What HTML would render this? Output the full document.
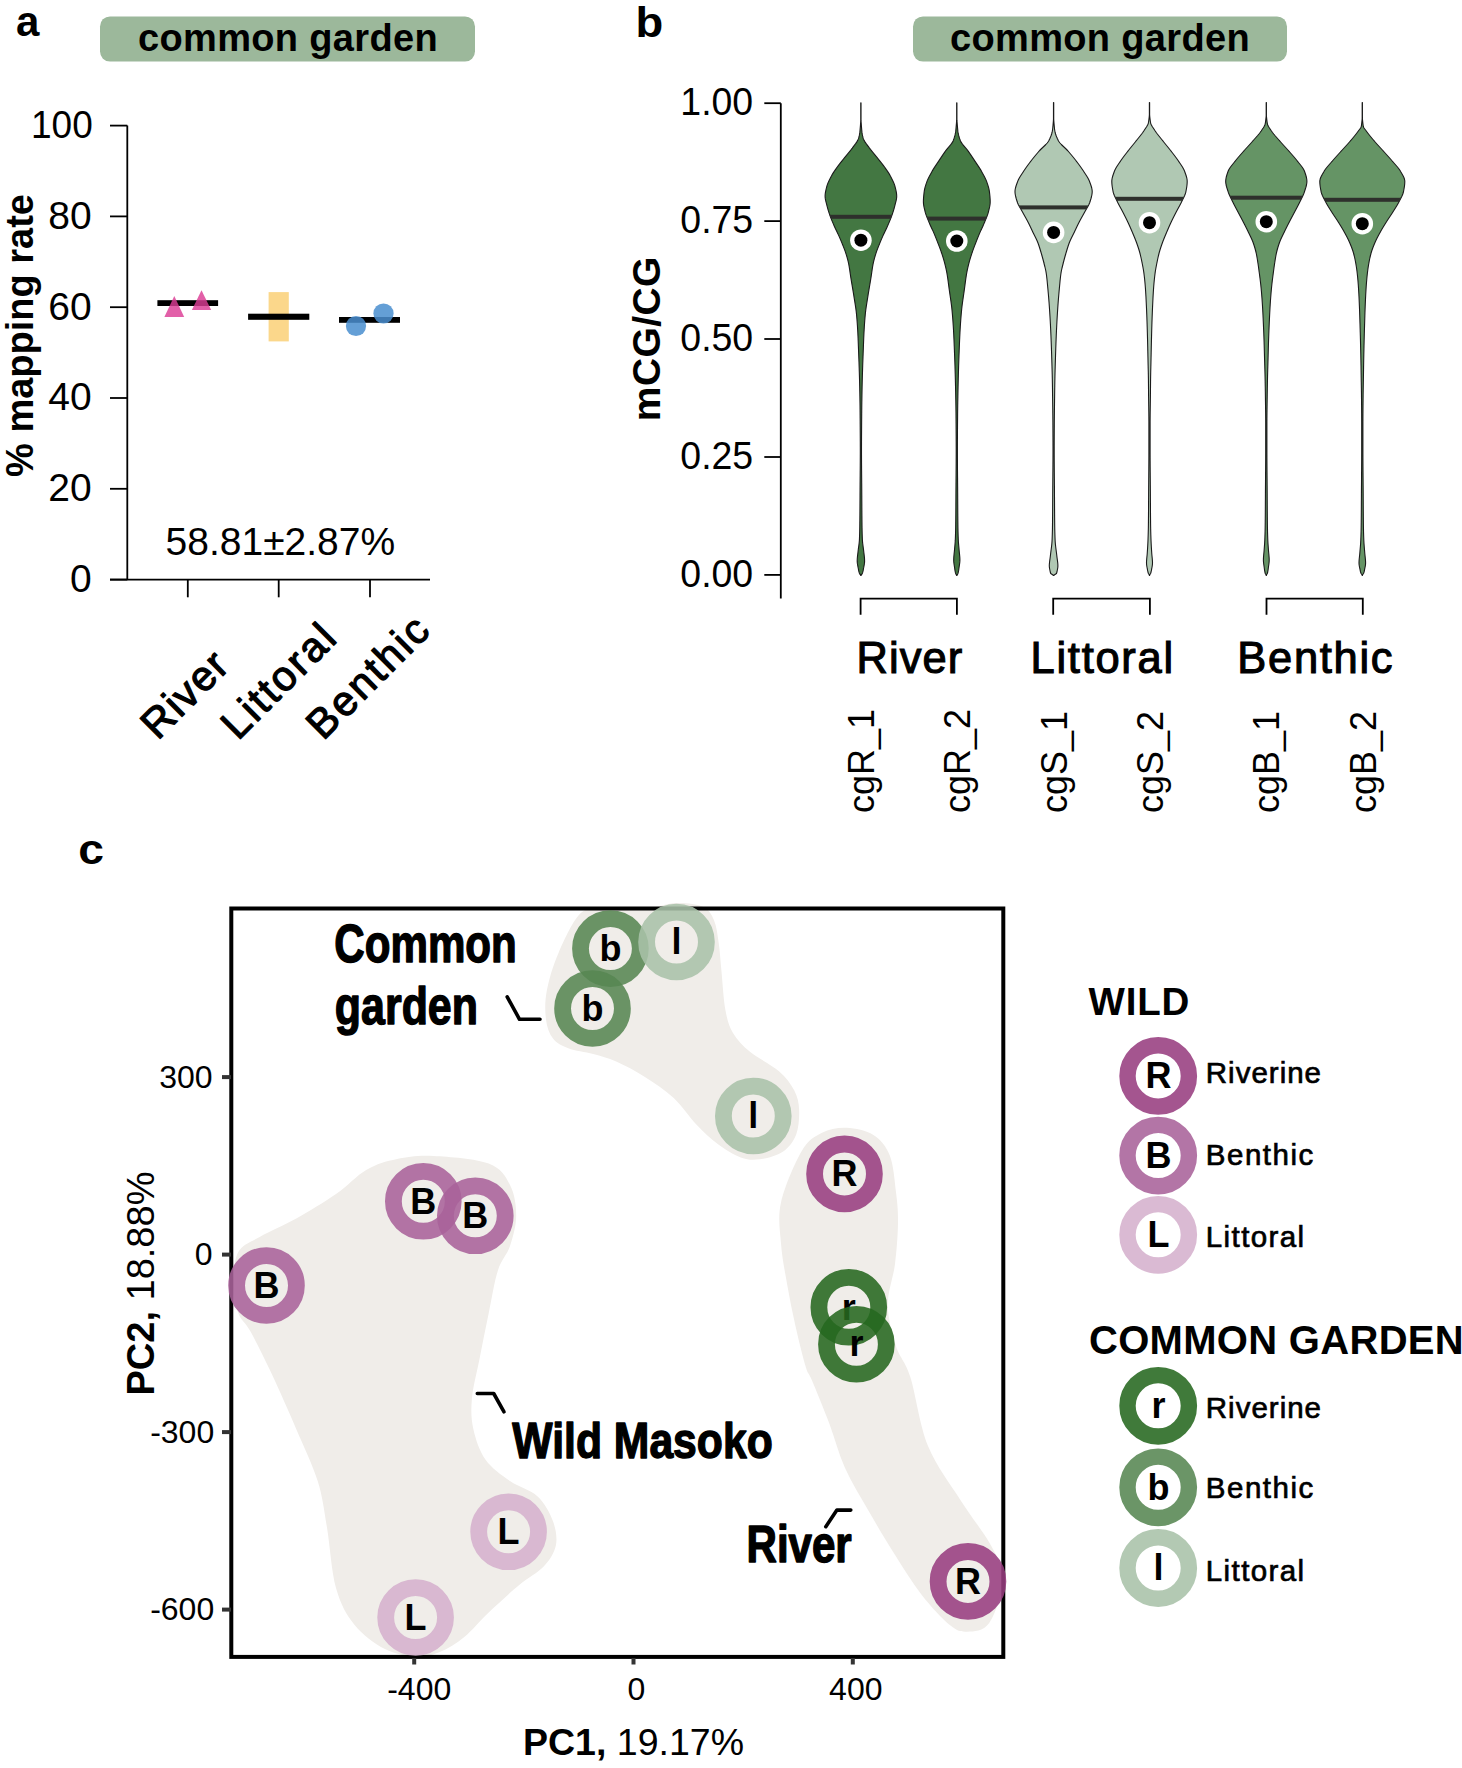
<!DOCTYPE html>
<html><head><meta charset="utf-8"><style>
html,body{margin:0;padding:0;background:#fff;}
body{width:1462px;height:1768px;overflow:hidden;position:relative;}
svg{position:absolute;left:0;top:0;}
text{font-family:"Liberation Sans", sans-serif;}
.b{font-weight:bold;}
</style></head><body>
<svg width="1462" height="1768" viewBox="0 0 1462 1768">
<rect width="1462" height="1768" fill="#fff"/>

<text x="16" y="36" font-size="42" class="b" fill="#000">a</text>
<rect x="100" y="16.4" width="375" height="45.2" rx="10" fill="#9cb89b"/>
<text x="288" y="51" font-size="38" letter-spacing="0.33" class="b" text-anchor="middle" fill="#000">common garden</text>
<g stroke="#000" stroke-width="1.8" fill="none">
<path d="M127.3,125.6 V579.6 M110,579.6 H430"/>
<path d="M110,579.6 H127.3"/>
<path d="M110,488.8 H127.3"/>
<path d="M110,398.0 H127.3"/>
<path d="M110,307.2 H127.3"/>
<path d="M110,216.4 H127.3"/>
<path d="M110,125.6 H127.3"/>
<path d="M187.8,579.6 V597.3"/>
<path d="M278.7,579.6 V597.3"/>
<path d="M370,579.6 V597.3"/>
</g>
<text transform="translate(91.6,592.0) scale(1,1)" font-size="39" text-anchor="end" fill="#000">0</text>
<text transform="translate(91.6,501.2) scale(1,1)" font-size="39" text-anchor="end" fill="#000">20</text>
<text transform="translate(91.6,410.4) scale(1,1)" font-size="39" text-anchor="end" fill="#000">40</text>
<text transform="translate(91.6,319.6) scale(1,1)" font-size="39" text-anchor="end" fill="#000">60</text>
<text transform="translate(91.6,228.8) scale(1,1)" font-size="39" text-anchor="end" fill="#000">80</text>
<text transform="translate(92.8,138.0) scale(0.95,1)" font-size="39" text-anchor="end" fill="#000">100</text>
<text transform="translate(32.6,335.5) rotate(-90)" font-size="38" class="b" text-anchor="middle" fill="#000">% mapping rate</text>
<rect x="268.6" y="292.1" width="20.2" height="49.3" fill="#fbd78b"/>
<rect x="157.4" y="300.2" width="60.7" height="5.8" fill="#000"/>
<rect x="248.1" y="313.7" width="61.2" height="6.1" fill="#000"/>
<rect x="339" y="317" width="61" height="5.8" fill="#000"/>
<g fill="#dc3d95" opacity="0.82">
<path d="M164.4,317 L184.2,317 L174.3,296 Z"/><path d="M191.9,310 L211.2,310 L201.5,290.2 Z"/>
</g>
<g fill="#4a8fd0" opacity="0.85">
<circle cx="356" cy="326" r="10.1"/><circle cx="383.5" cy="313.5" r="10.1"/>
</g>
<text x="280.4" y="554.5" font-size="39" text-anchor="middle" fill="#000">58.81±2.87%</text>
<text transform="translate(157.8,740.9) rotate(-45)" font-size="41.5" letter-spacing="1.6" fill="#000" stroke="#000" stroke-width="1.25" stroke-linejoin="round">River</text>
<text transform="translate(237.9,741.3) rotate(-45)" font-size="41.5" letter-spacing="2.5" fill="#000" stroke="#000" stroke-width="1.25" stroke-linejoin="round">Littoral</text>
<text transform="translate(323.3,741.3) rotate(-45)" font-size="41.5" letter-spacing="2.5" fill="#000" stroke="#000" stroke-width="1.25" stroke-linejoin="round">Benthic</text>
<text transform="translate(635.5,36.6) scale(1.08,1)" font-size="42" class="b" fill="#000">b</text>
<rect x="913" y="16.4" width="374" height="45.2" rx="10" fill="#9cb89b"/>
<text x="1100" y="51" font-size="38" letter-spacing="0.33" class="b" text-anchor="middle" fill="#000">common garden</text>
<g stroke="#000" stroke-width="1.8" fill="none">
<path d="M780.8,103.2 V598.6"/>
<path d="M764.3,574.9 H780.8"/>
<path d="M764.3,457.0 H780.8"/>
<path d="M764.3,339.0 H780.8"/>
<path d="M764.3,221.1 H780.8"/>
<path d="M764.3,103.2 H780.8"/>
</g>
<text transform="translate(753.2,586.8) scale(0.965,1)" font-size="38.8" text-anchor="end" fill="#000">0.00</text>
<text transform="translate(753.2,468.9) scale(0.965,1)" font-size="38.8" text-anchor="end" fill="#000">0.25</text>
<text transform="translate(753.2,350.9) scale(0.965,1)" font-size="38.8" text-anchor="end" fill="#000">0.50</text>
<text transform="translate(753.2,233.0) scale(0.965,1)" font-size="38.8" text-anchor="end" fill="#000">0.75</text>
<text transform="translate(753.2,115.1) scale(0.965,1)" font-size="38.8" text-anchor="end" fill="#000">1.00</text>
<text transform="translate(659.8,338.7) rotate(-90)" font-size="39" letter-spacing="0.4" class="b" text-anchor="middle" fill="#000">mCG/CG</text>
<clipPath id="vc0"><path d="M861.02,102.9 861.02,104.4 861.02,105.9 861.02,107.4 861.02,108.9 861.02,110.4 861.02,111.9 861.02,113.4 861.02,114.9 861.02,116.4 861.02,117.9 861.02,119.4 861.03,120.9 861.13,122.4 861.24,123.9 861.35,125.4 861.47,126.9 861.60,128.4 861.73,129.9 861.87,131.4 861.90,131.7 862.04,132.9 862.28,134.4 862.60,135.9 862.98,137.4 863.30,138.5 863.43,138.9 864.09,140.4 864.96,141.9 865.98,143.4 867.09,144.9 868.24,146.4 869.36,147.9 869.50,148.1 870.46,149.4 871.63,150.9 872.85,152.4 874.09,153.9 875.33,155.4 876.56,156.9 877.20,157.7 877.76,158.4 878.96,159.9 880.17,161.4 881.37,162.9 882.55,164.4 883.68,165.9 884.70,167.3 884.77,167.4 885.83,168.9 886.88,170.4 887.90,171.9 888.88,173.4 889.79,174.9 890.64,176.4 890.90,176.9 891.41,177.9 892.17,179.4 892.90,180.9 893.58,182.4 894.18,183.9 894.69,185.4 895.00,186.5 895.10,186.9 895.48,188.4 895.84,189.9 896.16,191.4 896.43,192.9 896.61,194.4 896.70,195.9 896.70,196.2 896.65,197.4 896.46,198.9 896.17,200.4 895.81,201.9 895.42,203.4 895.02,204.9 894.80,205.8 894.65,206.4 894.26,207.9 893.84,209.4 893.39,210.9 892.91,212.4 892.41,213.9 891.90,215.4 891.36,216.9 890.78,218.4 890.18,219.9 889.55,221.4 888.91,222.9 888.26,224.4 888.00,225.0 887.60,225.9 886.91,227.4 886.20,228.9 885.47,230.4 884.75,231.9 884.05,233.4 883.50,234.6 883.37,234.9 882.70,236.4 882.04,237.9 881.39,239.4 880.76,240.9 880.13,242.4 879.52,243.9 879.40,244.2 878.92,245.4 878.32,246.9 877.73,248.4 877.15,249.9 876.60,251.4 876.09,252.9 875.80,253.8 875.61,254.4 875.16,255.9 874.72,257.4 874.30,258.9 873.91,260.4 873.55,261.9 873.22,263.4 873.20,263.5 872.93,264.9 872.66,266.4 872.42,267.9 872.18,269.4 871.96,270.9 871.75,272.4 871.53,273.9 871.31,275.4 871.09,276.9 870.90,278.1 870.85,278.4 870.61,279.9 870.36,281.4 870.11,282.9 869.85,284.4 869.60,285.9 869.34,287.4 869.09,288.9 868.84,290.4 868.59,291.9 868.34,293.4 868.10,294.9 867.90,296.2 867.87,296.4 867.63,297.9 867.39,299.4 867.15,300.9 866.91,302.4 866.67,303.9 866.44,305.4 866.21,306.9 866.00,308.4 865.79,309.9 865.60,311.4 865.43,312.9 865.30,314.2 865.28,314.4 865.14,315.9 865.01,317.4 864.88,318.9 864.76,320.4 864.65,321.9 864.54,323.4 864.44,324.9 864.34,326.4 864.25,327.9 864.16,329.4 864.08,330.9 864.00,332.3 863.99,332.4 863.92,333.9 863.85,335.4 863.78,336.9 863.71,338.4 863.65,339.9 863.59,341.4 863.53,342.9 863.48,344.4 863.42,345.9 863.36,347.4 863.31,348.9 863.25,350.4 863.19,351.9 863.13,353.4 863.08,354.9 863.02,356.4 862.97,357.9 862.91,359.4 862.86,360.9 862.80,362.4 862.75,363.9 862.70,365.4 862.65,366.9 862.60,368.4 862.60,368.5 862.56,369.9 862.51,371.4 862.46,372.9 862.42,374.4 862.37,375.9 862.33,377.4 862.29,378.9 862.24,380.4 862.21,381.9 862.17,383.4 862.14,384.9 862.10,386.4 862.10,386.6 862.07,387.9 862.05,389.4 862.02,390.9 861.99,392.4 861.96,393.9 861.94,395.4 861.91,396.9 861.89,398.4 861.87,399.9 861.84,401.4 861.82,402.9 861.80,404.4 861.78,405.9 861.76,407.4 861.75,408.9 861.73,410.4 861.72,411.9 861.70,413.4 861.70,413.7 861.69,414.9 861.68,416.4 861.67,417.9 861.65,419.4 861.64,420.9 861.63,422.4 861.62,423.9 861.61,425.4 861.60,426.9 861.59,428.4 861.58,429.9 861.57,431.4 861.56,432.9 861.55,434.4 861.54,435.9 861.53,437.4 861.53,438.9 861.52,440.4 861.51,441.9 861.51,443.4 861.51,444.9 861.50,446.4 861.50,447.9 861.50,449.4 861.50,450.0 861.50,450.9 861.50,452.4 861.50,453.9 861.51,455.4 861.51,456.9 861.52,458.4 861.53,459.9 861.53,461.4 861.54,462.9 861.55,464.4 861.56,465.9 861.57,467.4 861.58,468.9 861.59,470.4 861.61,471.9 861.62,473.4 861.63,474.9 861.64,476.4 861.66,477.9 861.67,479.4 861.68,480.9 861.69,482.4 861.71,483.9 861.72,485.4 861.73,486.9 861.74,488.4 861.75,489.9 861.75,490.0 861.76,491.4 861.77,492.9 861.78,494.4 861.79,495.9 861.79,497.4 861.80,498.9 861.81,500.4 861.82,501.9 861.83,503.4 861.84,504.9 861.84,506.4 861.85,507.9 861.86,509.4 861.87,510.9 861.88,512.4 861.89,513.9 861.90,515.4 861.92,516.9 861.93,518.4 861.94,519.9 861.96,521.4 861.98,522.9 861.99,524.4 862.00,525.0 862.01,525.9 862.03,527.4 862.06,528.9 862.09,530.4 862.12,531.9 862.16,533.4 862.21,534.9 862.26,536.4 862.31,537.9 862.37,539.4 862.40,540.0 862.45,540.9 862.58,542.4 862.75,543.9 862.94,545.4 863.15,546.9 863.36,548.4 863.55,549.9 863.68,551.0 863.72,551.4 863.89,552.9 864.08,554.4 864.26,555.9 864.41,557.4 864.53,558.9 864.59,560.4 864.60,561.0 864.57,561.9 864.43,563.4 864.19,564.9 863.91,566.4 863.62,567.9 863.55,568.2 863.35,569.4 863.07,570.9 862.69,572.4 862.29,573.5 862.06,573.9 861.02,575.4 861.02,575.5 L860.78,575.5 860.78,575.4 859.74,573.9 859.51,573.5 859.11,572.4 858.73,570.9 858.45,569.4 858.25,568.2 858.18,567.9 857.89,566.4 857.61,564.9 857.37,563.4 857.23,561.9 857.20,561.0 857.21,560.4 857.27,558.9 857.39,557.4 857.54,555.9 857.72,554.4 857.91,552.9 858.08,551.4 858.12,551.0 858.25,549.9 858.44,548.4 858.65,546.9 858.86,545.4 859.05,543.9 859.22,542.4 859.35,540.9 859.40,540.0 859.43,539.4 859.49,537.9 859.54,536.4 859.59,534.9 859.64,533.4 859.68,531.9 859.71,530.4 859.74,528.9 859.77,527.4 859.79,525.9 859.80,525.0 859.81,524.4 859.82,522.9 859.84,521.4 859.86,519.9 859.87,518.4 859.88,516.9 859.90,515.4 859.91,513.9 859.92,512.4 859.93,510.9 859.94,509.4 859.95,507.9 859.96,506.4 859.96,504.9 859.97,503.4 859.98,501.9 859.99,500.4 860.00,498.9 860.01,497.4 860.01,495.9 860.02,494.4 860.03,492.9 860.04,491.4 860.05,490.0 860.05,489.9 860.06,488.4 860.07,486.9 860.08,485.4 860.09,483.9 860.11,482.4 860.12,480.9 860.13,479.4 860.14,477.9 860.16,476.4 860.17,474.9 860.18,473.4 860.19,471.9 860.21,470.4 860.22,468.9 860.23,467.4 860.24,465.9 860.25,464.4 860.26,462.9 860.27,461.4 860.27,459.9 860.28,458.4 860.29,456.9 860.29,455.4 860.30,453.9 860.30,452.4 860.30,450.9 860.30,450.0 860.30,449.4 860.30,447.9 860.30,446.4 860.29,444.9 860.29,443.4 860.29,441.9 860.28,440.4 860.27,438.9 860.27,437.4 860.26,435.9 860.25,434.4 860.24,432.9 860.23,431.4 860.22,429.9 860.21,428.4 860.20,426.9 860.19,425.4 860.18,423.9 860.17,422.4 860.16,420.9 860.15,419.4 860.13,417.9 860.12,416.4 860.11,414.9 860.10,413.7 860.10,413.4 860.08,411.9 860.07,410.4 860.05,408.9 860.04,407.4 860.02,405.9 860.00,404.4 859.98,402.9 859.96,401.4 859.93,399.9 859.91,398.4 859.89,396.9 859.86,395.4 859.84,393.9 859.81,392.4 859.78,390.9 859.75,389.4 859.73,387.9 859.70,386.6 859.70,386.4 859.66,384.9 859.63,383.4 859.59,381.9 859.56,380.4 859.51,378.9 859.47,377.4 859.43,375.9 859.38,374.4 859.34,372.9 859.29,371.4 859.24,369.9 859.20,368.5 859.20,368.4 859.15,366.9 859.10,365.4 859.05,363.9 859.00,362.4 858.94,360.9 858.89,359.4 858.83,357.9 858.78,356.4 858.72,354.9 858.67,353.4 858.61,351.9 858.55,350.4 858.49,348.9 858.44,347.4 858.38,345.9 858.32,344.4 858.27,342.9 858.21,341.4 858.15,339.9 858.09,338.4 858.02,336.9 857.95,335.4 857.88,333.9 857.81,332.4 857.80,332.3 857.72,330.9 857.64,329.4 857.55,327.9 857.46,326.4 857.36,324.9 857.26,323.4 857.15,321.9 857.04,320.4 856.92,318.9 856.79,317.4 856.66,315.9 856.52,314.4 856.50,314.2 856.37,312.9 856.20,311.4 856.01,309.9 855.80,308.4 855.59,306.9 855.36,305.4 855.13,303.9 854.89,302.4 854.65,300.9 854.41,299.4 854.17,297.9 853.93,296.4 853.90,296.2 853.70,294.9 853.46,293.4 853.21,291.9 852.96,290.4 852.71,288.9 852.46,287.4 852.20,285.9 851.95,284.4 851.69,282.9 851.44,281.4 851.19,279.9 850.95,278.4 850.90,278.1 850.71,276.9 850.49,275.4 850.27,273.9 850.05,272.4 849.84,270.9 849.62,269.4 849.38,267.9 849.14,266.4 848.87,264.9 848.60,263.5 848.58,263.4 848.25,261.9 847.89,260.4 847.50,258.9 847.08,257.4 846.64,255.9 846.19,254.4 846.00,253.8 845.71,252.9 845.20,251.4 844.65,249.9 844.07,248.4 843.48,246.9 842.88,245.4 842.40,244.2 842.28,243.9 841.67,242.4 841.04,240.9 840.41,239.4 839.76,237.9 839.10,236.4 838.43,234.9 838.30,234.6 837.75,233.4 837.05,231.9 836.33,230.4 835.60,228.9 834.89,227.4 834.20,225.9 833.80,225.0 833.54,224.4 832.89,222.9 832.25,221.4 831.62,219.9 831.02,218.4 830.44,216.9 829.90,215.4 829.39,213.9 828.89,212.4 828.41,210.9 827.96,209.4 827.54,207.9 827.15,206.4 827.00,205.8 826.78,204.9 826.38,203.4 825.99,201.9 825.63,200.4 825.34,198.9 825.15,197.4 825.10,196.2 825.10,195.9 825.19,194.4 825.37,192.9 825.64,191.4 825.96,189.9 826.32,188.4 826.70,186.9 826.80,186.5 827.11,185.4 827.62,183.9 828.22,182.4 828.90,180.9 829.63,179.4 830.39,177.9 830.90,176.9 831.16,176.4 832.01,174.9 832.92,173.4 833.90,171.9 834.92,170.4 835.97,168.9 837.03,167.4 837.10,167.3 838.12,165.9 839.25,164.4 840.43,162.9 841.63,161.4 842.84,159.9 844.04,158.4 844.60,157.7 845.24,156.9 846.47,155.4 847.71,153.9 848.95,152.4 850.17,150.9 851.34,149.4 852.30,148.1 852.44,147.9 853.56,146.4 854.71,144.9 855.82,143.4 856.84,141.9 857.71,140.4 858.37,138.9 858.50,138.5 858.82,137.4 859.20,135.9 859.52,134.4 859.76,132.9 859.90,131.7 859.93,131.4 860.07,129.9 860.20,128.4 860.33,126.9 860.45,125.4 860.56,123.9 860.67,122.4 860.77,120.9 860.78,119.4 860.78,117.9 860.78,116.4 860.78,114.9 860.78,113.4 860.78,111.9 860.78,110.4 860.78,108.9 860.78,107.4 860.78,105.9 860.78,104.4 860.78,102.9 Z"/></clipPath>
<path d="M861.02,102.9 861.02,104.4 861.02,105.9 861.02,107.4 861.02,108.9 861.02,110.4 861.02,111.9 861.02,113.4 861.02,114.9 861.02,116.4 861.02,117.9 861.02,119.4 861.03,120.9 861.13,122.4 861.24,123.9 861.35,125.4 861.47,126.9 861.60,128.4 861.73,129.9 861.87,131.4 861.90,131.7 862.04,132.9 862.28,134.4 862.60,135.9 862.98,137.4 863.30,138.5 863.43,138.9 864.09,140.4 864.96,141.9 865.98,143.4 867.09,144.9 868.24,146.4 869.36,147.9 869.50,148.1 870.46,149.4 871.63,150.9 872.85,152.4 874.09,153.9 875.33,155.4 876.56,156.9 877.20,157.7 877.76,158.4 878.96,159.9 880.17,161.4 881.37,162.9 882.55,164.4 883.68,165.9 884.70,167.3 884.77,167.4 885.83,168.9 886.88,170.4 887.90,171.9 888.88,173.4 889.79,174.9 890.64,176.4 890.90,176.9 891.41,177.9 892.17,179.4 892.90,180.9 893.58,182.4 894.18,183.9 894.69,185.4 895.00,186.5 895.10,186.9 895.48,188.4 895.84,189.9 896.16,191.4 896.43,192.9 896.61,194.4 896.70,195.9 896.70,196.2 896.65,197.4 896.46,198.9 896.17,200.4 895.81,201.9 895.42,203.4 895.02,204.9 894.80,205.8 894.65,206.4 894.26,207.9 893.84,209.4 893.39,210.9 892.91,212.4 892.41,213.9 891.90,215.4 891.36,216.9 890.78,218.4 890.18,219.9 889.55,221.4 888.91,222.9 888.26,224.4 888.00,225.0 887.60,225.9 886.91,227.4 886.20,228.9 885.47,230.4 884.75,231.9 884.05,233.4 883.50,234.6 883.37,234.9 882.70,236.4 882.04,237.9 881.39,239.4 880.76,240.9 880.13,242.4 879.52,243.9 879.40,244.2 878.92,245.4 878.32,246.9 877.73,248.4 877.15,249.9 876.60,251.4 876.09,252.9 875.80,253.8 875.61,254.4 875.16,255.9 874.72,257.4 874.30,258.9 873.91,260.4 873.55,261.9 873.22,263.4 873.20,263.5 872.93,264.9 872.66,266.4 872.42,267.9 872.18,269.4 871.96,270.9 871.75,272.4 871.53,273.9 871.31,275.4 871.09,276.9 870.90,278.1 870.85,278.4 870.61,279.9 870.36,281.4 870.11,282.9 869.85,284.4 869.60,285.9 869.34,287.4 869.09,288.9 868.84,290.4 868.59,291.9 868.34,293.4 868.10,294.9 867.90,296.2 867.87,296.4 867.63,297.9 867.39,299.4 867.15,300.9 866.91,302.4 866.67,303.9 866.44,305.4 866.21,306.9 866.00,308.4 865.79,309.9 865.60,311.4 865.43,312.9 865.30,314.2 865.28,314.4 865.14,315.9 865.01,317.4 864.88,318.9 864.76,320.4 864.65,321.9 864.54,323.4 864.44,324.9 864.34,326.4 864.25,327.9 864.16,329.4 864.08,330.9 864.00,332.3 863.99,332.4 863.92,333.9 863.85,335.4 863.78,336.9 863.71,338.4 863.65,339.9 863.59,341.4 863.53,342.9 863.48,344.4 863.42,345.9 863.36,347.4 863.31,348.9 863.25,350.4 863.19,351.9 863.13,353.4 863.08,354.9 863.02,356.4 862.97,357.9 862.91,359.4 862.86,360.9 862.80,362.4 862.75,363.9 862.70,365.4 862.65,366.9 862.60,368.4 862.60,368.5 862.56,369.9 862.51,371.4 862.46,372.9 862.42,374.4 862.37,375.9 862.33,377.4 862.29,378.9 862.24,380.4 862.21,381.9 862.17,383.4 862.14,384.9 862.10,386.4 862.10,386.6 862.07,387.9 862.05,389.4 862.02,390.9 861.99,392.4 861.96,393.9 861.94,395.4 861.91,396.9 861.89,398.4 861.87,399.9 861.84,401.4 861.82,402.9 861.80,404.4 861.78,405.9 861.76,407.4 861.75,408.9 861.73,410.4 861.72,411.9 861.70,413.4 861.70,413.7 861.69,414.9 861.68,416.4 861.67,417.9 861.65,419.4 861.64,420.9 861.63,422.4 861.62,423.9 861.61,425.4 861.60,426.9 861.59,428.4 861.58,429.9 861.57,431.4 861.56,432.9 861.55,434.4 861.54,435.9 861.53,437.4 861.53,438.9 861.52,440.4 861.51,441.9 861.51,443.4 861.51,444.9 861.50,446.4 861.50,447.9 861.50,449.4 861.50,450.0 861.50,450.9 861.50,452.4 861.50,453.9 861.51,455.4 861.51,456.9 861.52,458.4 861.53,459.9 861.53,461.4 861.54,462.9 861.55,464.4 861.56,465.9 861.57,467.4 861.58,468.9 861.59,470.4 861.61,471.9 861.62,473.4 861.63,474.9 861.64,476.4 861.66,477.9 861.67,479.4 861.68,480.9 861.69,482.4 861.71,483.9 861.72,485.4 861.73,486.9 861.74,488.4 861.75,489.9 861.75,490.0 861.76,491.4 861.77,492.9 861.78,494.4 861.79,495.9 861.79,497.4 861.80,498.9 861.81,500.4 861.82,501.9 861.83,503.4 861.84,504.9 861.84,506.4 861.85,507.9 861.86,509.4 861.87,510.9 861.88,512.4 861.89,513.9 861.90,515.4 861.92,516.9 861.93,518.4 861.94,519.9 861.96,521.4 861.98,522.9 861.99,524.4 862.00,525.0 862.01,525.9 862.03,527.4 862.06,528.9 862.09,530.4 862.12,531.9 862.16,533.4 862.21,534.9 862.26,536.4 862.31,537.9 862.37,539.4 862.40,540.0 862.45,540.9 862.58,542.4 862.75,543.9 862.94,545.4 863.15,546.9 863.36,548.4 863.55,549.9 863.68,551.0 863.72,551.4 863.89,552.9 864.08,554.4 864.26,555.9 864.41,557.4 864.53,558.9 864.59,560.4 864.60,561.0 864.57,561.9 864.43,563.4 864.19,564.9 863.91,566.4 863.62,567.9 863.55,568.2 863.35,569.4 863.07,570.9 862.69,572.4 862.29,573.5 862.06,573.9 861.02,575.4 861.02,575.5 L860.78,575.5 860.78,575.4 859.74,573.9 859.51,573.5 859.11,572.4 858.73,570.9 858.45,569.4 858.25,568.2 858.18,567.9 857.89,566.4 857.61,564.9 857.37,563.4 857.23,561.9 857.20,561.0 857.21,560.4 857.27,558.9 857.39,557.4 857.54,555.9 857.72,554.4 857.91,552.9 858.08,551.4 858.12,551.0 858.25,549.9 858.44,548.4 858.65,546.9 858.86,545.4 859.05,543.9 859.22,542.4 859.35,540.9 859.40,540.0 859.43,539.4 859.49,537.9 859.54,536.4 859.59,534.9 859.64,533.4 859.68,531.9 859.71,530.4 859.74,528.9 859.77,527.4 859.79,525.9 859.80,525.0 859.81,524.4 859.82,522.9 859.84,521.4 859.86,519.9 859.87,518.4 859.88,516.9 859.90,515.4 859.91,513.9 859.92,512.4 859.93,510.9 859.94,509.4 859.95,507.9 859.96,506.4 859.96,504.9 859.97,503.4 859.98,501.9 859.99,500.4 860.00,498.9 860.01,497.4 860.01,495.9 860.02,494.4 860.03,492.9 860.04,491.4 860.05,490.0 860.05,489.9 860.06,488.4 860.07,486.9 860.08,485.4 860.09,483.9 860.11,482.4 860.12,480.9 860.13,479.4 860.14,477.9 860.16,476.4 860.17,474.9 860.18,473.4 860.19,471.9 860.21,470.4 860.22,468.9 860.23,467.4 860.24,465.9 860.25,464.4 860.26,462.9 860.27,461.4 860.27,459.9 860.28,458.4 860.29,456.9 860.29,455.4 860.30,453.9 860.30,452.4 860.30,450.9 860.30,450.0 860.30,449.4 860.30,447.9 860.30,446.4 860.29,444.9 860.29,443.4 860.29,441.9 860.28,440.4 860.27,438.9 860.27,437.4 860.26,435.9 860.25,434.4 860.24,432.9 860.23,431.4 860.22,429.9 860.21,428.4 860.20,426.9 860.19,425.4 860.18,423.9 860.17,422.4 860.16,420.9 860.15,419.4 860.13,417.9 860.12,416.4 860.11,414.9 860.10,413.7 860.10,413.4 860.08,411.9 860.07,410.4 860.05,408.9 860.04,407.4 860.02,405.9 860.00,404.4 859.98,402.9 859.96,401.4 859.93,399.9 859.91,398.4 859.89,396.9 859.86,395.4 859.84,393.9 859.81,392.4 859.78,390.9 859.75,389.4 859.73,387.9 859.70,386.6 859.70,386.4 859.66,384.9 859.63,383.4 859.59,381.9 859.56,380.4 859.51,378.9 859.47,377.4 859.43,375.9 859.38,374.4 859.34,372.9 859.29,371.4 859.24,369.9 859.20,368.5 859.20,368.4 859.15,366.9 859.10,365.4 859.05,363.9 859.00,362.4 858.94,360.9 858.89,359.4 858.83,357.9 858.78,356.4 858.72,354.9 858.67,353.4 858.61,351.9 858.55,350.4 858.49,348.9 858.44,347.4 858.38,345.9 858.32,344.4 858.27,342.9 858.21,341.4 858.15,339.9 858.09,338.4 858.02,336.9 857.95,335.4 857.88,333.9 857.81,332.4 857.80,332.3 857.72,330.9 857.64,329.4 857.55,327.9 857.46,326.4 857.36,324.9 857.26,323.4 857.15,321.9 857.04,320.4 856.92,318.9 856.79,317.4 856.66,315.9 856.52,314.4 856.50,314.2 856.37,312.9 856.20,311.4 856.01,309.9 855.80,308.4 855.59,306.9 855.36,305.4 855.13,303.9 854.89,302.4 854.65,300.9 854.41,299.4 854.17,297.9 853.93,296.4 853.90,296.2 853.70,294.9 853.46,293.4 853.21,291.9 852.96,290.4 852.71,288.9 852.46,287.4 852.20,285.9 851.95,284.4 851.69,282.9 851.44,281.4 851.19,279.9 850.95,278.4 850.90,278.1 850.71,276.9 850.49,275.4 850.27,273.9 850.05,272.4 849.84,270.9 849.62,269.4 849.38,267.9 849.14,266.4 848.87,264.9 848.60,263.5 848.58,263.4 848.25,261.9 847.89,260.4 847.50,258.9 847.08,257.4 846.64,255.9 846.19,254.4 846.00,253.8 845.71,252.9 845.20,251.4 844.65,249.9 844.07,248.4 843.48,246.9 842.88,245.4 842.40,244.2 842.28,243.9 841.67,242.4 841.04,240.9 840.41,239.4 839.76,237.9 839.10,236.4 838.43,234.9 838.30,234.6 837.75,233.4 837.05,231.9 836.33,230.4 835.60,228.9 834.89,227.4 834.20,225.9 833.80,225.0 833.54,224.4 832.89,222.9 832.25,221.4 831.62,219.9 831.02,218.4 830.44,216.9 829.90,215.4 829.39,213.9 828.89,212.4 828.41,210.9 827.96,209.4 827.54,207.9 827.15,206.4 827.00,205.8 826.78,204.9 826.38,203.4 825.99,201.9 825.63,200.4 825.34,198.9 825.15,197.4 825.10,196.2 825.10,195.9 825.19,194.4 825.37,192.9 825.64,191.4 825.96,189.9 826.32,188.4 826.70,186.9 826.80,186.5 827.11,185.4 827.62,183.9 828.22,182.4 828.90,180.9 829.63,179.4 830.39,177.9 830.90,176.9 831.16,176.4 832.01,174.9 832.92,173.4 833.90,171.9 834.92,170.4 835.97,168.9 837.03,167.4 837.10,167.3 838.12,165.9 839.25,164.4 840.43,162.9 841.63,161.4 842.84,159.9 844.04,158.4 844.60,157.7 845.24,156.9 846.47,155.4 847.71,153.9 848.95,152.4 850.17,150.9 851.34,149.4 852.30,148.1 852.44,147.9 853.56,146.4 854.71,144.9 855.82,143.4 856.84,141.9 857.71,140.4 858.37,138.9 858.50,138.5 858.82,137.4 859.20,135.9 859.52,134.4 859.76,132.9 859.90,131.7 859.93,131.4 860.07,129.9 860.20,128.4 860.33,126.9 860.45,125.4 860.56,123.9 860.67,122.4 860.77,120.9 860.78,119.4 860.78,117.9 860.78,116.4 860.78,114.9 860.78,113.4 860.78,111.9 860.78,110.4 860.78,108.9 860.78,107.4 860.78,105.9 860.78,104.4 860.78,102.9 Z" fill="#437742" stroke="#1a1a1a" stroke-width="1.1" stroke-linejoin="round"/>
<rect x="800.9" y="214.8" width="120" height="4" fill="#2e302c" clip-path="url(#vc0)"/>
<circle cx="860.9" cy="240.2" r="10.8" fill="#fff"/><circle cx="860.9" cy="240.2" r="6.5" fill="#000"/>
<clipPath id="vc1"><path d="M956.92,102.9 956.92,104.4 956.92,105.9 956.92,107.4 956.92,108.9 956.92,110.4 956.92,111.9 956.92,113.4 956.92,114.9 956.92,116.4 956.92,117.9 956.92,119.4 956.98,120.9 957.09,122.4 957.20,123.9 957.33,125.4 957.46,126.9 957.60,128.4 957.74,129.9 957.80,130.5 957.90,131.4 958.14,132.9 958.45,134.4 958.82,135.9 959.26,137.4 959.75,138.9 960.29,140.4 960.40,140.7 960.96,141.9 961.90,143.4 963.04,144.9 964.29,146.4 965.59,147.9 966.85,149.4 968.00,150.9 969.05,152.4 970.09,153.9 971.11,155.4 972.11,156.9 973.11,158.4 974.11,159.9 974.90,161.1 975.10,161.4 976.10,162.9 977.11,164.4 978.12,165.9 979.11,167.4 980.07,168.9 980.98,170.4 981.50,171.3 981.84,171.9 982.69,173.4 983.53,174.9 984.34,176.4 985.10,177.9 985.80,179.4 986.42,180.9 986.60,181.4 986.95,182.4 987.47,183.9 987.96,185.4 988.41,186.9 988.81,188.4 989.13,189.9 989.37,191.4 989.40,191.6 989.56,192.9 989.73,194.4 989.88,195.9 990.01,197.4 990.11,198.9 990.18,200.4 990.20,201.8 990.20,201.9 990.13,203.4 989.96,204.9 989.70,206.4 989.39,207.9 989.04,209.4 988.67,210.9 988.40,212.0 988.30,212.4 987.87,213.9 987.36,215.4 986.79,216.9 986.19,218.4 985.56,219.9 984.93,221.4 984.60,222.2 984.31,222.9 983.66,224.4 982.98,225.9 982.28,227.4 981.58,228.9 980.88,230.4 980.22,231.9 980.00,232.4 979.58,233.4 978.95,234.9 978.33,236.4 977.72,237.9 977.12,239.4 976.53,240.9 975.94,242.4 975.90,242.5 975.36,243.9 974.77,245.4 974.20,246.9 973.63,248.4 973.08,249.9 972.54,251.4 972.10,252.7 972.03,252.9 971.54,254.4 971.05,255.9 970.58,257.4 970.12,258.9 969.68,260.4 969.26,261.9 969.00,262.9 968.87,263.4 968.49,264.9 968.12,266.4 967.77,267.9 967.43,269.4 967.12,270.9 966.83,272.4 966.70,273.1 966.56,273.9 966.31,275.4 966.08,276.9 965.85,278.4 965.64,279.9 965.44,281.4 965.24,282.9 965.04,284.4 964.85,285.9 964.65,287.4 964.45,288.9 964.30,290.0 964.24,290.4 964.03,291.9 963.81,293.4 963.59,294.9 963.37,296.4 963.15,297.9 962.93,299.4 962.72,300.9 962.51,302.4 962.31,303.9 962.11,305.4 961.93,306.9 961.76,308.4 961.61,309.9 961.60,310.0 961.47,311.4 961.33,312.9 961.20,314.4 961.07,315.9 960.95,317.4 960.83,318.9 960.72,320.4 960.61,321.9 960.51,323.4 960.41,324.9 960.31,326.4 960.22,327.9 960.13,329.4 960.10,330.0 960.05,330.9 959.97,332.4 959.89,333.9 959.82,335.4 959.75,336.9 959.68,338.4 959.61,339.9 959.55,341.4 959.48,342.9 959.42,344.4 959.36,345.9 959.30,347.4 959.24,348.9 959.20,350.0 959.18,350.4 959.13,351.9 959.07,353.4 959.01,354.9 958.95,356.4 958.90,357.9 958.85,359.4 958.79,360.9 958.74,362.4 958.69,363.9 958.64,365.4 958.59,366.9 958.55,368.4 958.50,369.9 958.50,370.0 958.46,371.4 958.42,372.9 958.37,374.4 958.33,375.9 958.29,377.4 958.25,378.9 958.22,380.4 958.18,381.9 958.14,383.4 958.11,384.9 958.07,386.4 958.04,387.9 958.01,389.4 958.00,390.0 957.98,390.9 957.95,392.4 957.92,393.9 957.89,395.4 957.87,396.9 957.84,398.4 957.81,399.9 957.78,401.4 957.76,402.9 957.73,404.4 957.71,405.9 957.69,407.4 957.67,408.9 957.65,410.4 957.63,411.9 957.61,413.4 957.60,414.9 957.60,415.0 957.59,416.4 957.58,417.9 957.56,419.4 957.55,420.9 957.54,422.4 957.52,423.9 957.51,425.4 957.50,426.9 957.49,428.4 957.48,429.9 957.47,431.4 957.46,432.9 957.45,434.4 957.44,435.9 957.43,437.4 957.43,438.9 957.42,440.4 957.41,441.9 957.41,443.4 957.41,444.9 957.40,446.4 957.40,447.9 957.40,449.4 957.40,450.0 957.40,450.9 957.40,452.4 957.40,453.9 957.41,455.4 957.41,456.9 957.42,458.4 957.43,459.9 957.43,461.4 957.44,462.9 957.45,464.4 957.46,465.9 957.47,467.4 957.48,468.9 957.49,470.4 957.51,471.9 957.52,473.4 957.53,474.9 957.54,476.4 957.56,477.9 957.57,479.4 957.58,480.9 957.59,482.4 957.61,483.9 957.62,485.4 957.63,486.9 957.64,488.4 957.65,489.9 957.65,490.0 957.66,491.4 957.67,492.9 957.68,494.4 957.69,495.9 957.69,497.4 957.70,498.9 957.71,500.4 957.72,501.9 957.73,503.4 957.74,504.9 957.74,506.4 957.75,507.9 957.76,509.4 957.77,510.9 957.78,512.4 957.79,513.9 957.80,515.4 957.82,516.9 957.83,518.4 957.84,519.9 957.86,521.4 957.88,522.9 957.89,524.4 957.90,525.0 957.91,525.9 957.93,527.4 957.96,528.9 957.99,530.4 958.03,531.9 958.07,533.4 958.11,534.9 958.16,536.4 958.22,537.9 958.28,539.4 958.30,540.0 958.34,540.9 958.44,542.4 958.56,543.9 958.69,545.4 958.83,546.9 958.97,548.4 959.10,549.9 959.11,550.0 959.23,551.4 959.39,552.9 959.54,554.4 959.69,555.9 959.81,557.4 959.88,558.9 959.90,560.0 959.90,560.4 959.82,561.9 959.65,563.4 959.44,564.9 959.21,566.4 959.00,567.8 958.98,567.9 958.78,569.4 958.55,570.9 958.24,572.4 957.92,573.5 957.73,573.9 956.92,575.4 956.92,575.5 L956.68,575.5 956.68,575.4 955.87,573.9 955.68,573.5 955.36,572.4 955.05,570.9 954.82,569.4 954.62,567.9 954.60,567.8 954.39,566.4 954.16,564.9 953.95,563.4 953.78,561.9 953.70,560.4 953.70,560.0 953.72,558.9 953.79,557.4 953.91,555.9 954.06,554.4 954.21,552.9 954.37,551.4 954.49,550.0 954.50,549.9 954.63,548.4 954.77,546.9 954.91,545.4 955.04,543.9 955.16,542.4 955.26,540.9 955.30,540.0 955.32,539.4 955.38,537.9 955.44,536.4 955.49,534.9 955.53,533.4 955.57,531.9 955.61,530.4 955.64,528.9 955.67,527.4 955.69,525.9 955.70,525.0 955.71,524.4 955.72,522.9 955.74,521.4 955.76,519.9 955.77,518.4 955.78,516.9 955.80,515.4 955.81,513.9 955.82,512.4 955.83,510.9 955.84,509.4 955.85,507.9 955.86,506.4 955.86,504.9 955.87,503.4 955.88,501.9 955.89,500.4 955.90,498.9 955.91,497.4 955.91,495.9 955.92,494.4 955.93,492.9 955.94,491.4 955.95,490.0 955.95,489.9 955.96,488.4 955.97,486.9 955.98,485.4 955.99,483.9 956.01,482.4 956.02,480.9 956.03,479.4 956.04,477.9 956.06,476.4 956.07,474.9 956.08,473.4 956.09,471.9 956.11,470.4 956.12,468.9 956.13,467.4 956.14,465.9 956.15,464.4 956.16,462.9 956.17,461.4 956.17,459.9 956.18,458.4 956.19,456.9 956.19,455.4 956.20,453.9 956.20,452.4 956.20,450.9 956.20,450.0 956.20,449.4 956.20,447.9 956.20,446.4 956.19,444.9 956.19,443.4 956.19,441.9 956.18,440.4 956.17,438.9 956.17,437.4 956.16,435.9 956.15,434.4 956.14,432.9 956.13,431.4 956.12,429.9 956.11,428.4 956.10,426.9 956.09,425.4 956.08,423.9 956.06,422.4 956.05,420.9 956.04,419.4 956.02,417.9 956.01,416.4 956.00,415.0 956.00,414.9 955.99,413.4 955.97,411.9 955.95,410.4 955.93,408.9 955.91,407.4 955.89,405.9 955.87,404.4 955.84,402.9 955.82,401.4 955.79,399.9 955.76,398.4 955.73,396.9 955.71,395.4 955.68,393.9 955.65,392.4 955.62,390.9 955.60,390.0 955.59,389.4 955.56,387.9 955.53,386.4 955.49,384.9 955.46,383.4 955.42,381.9 955.38,380.4 955.35,378.9 955.31,377.4 955.27,375.9 955.23,374.4 955.18,372.9 955.14,371.4 955.10,370.0 955.10,369.9 955.05,368.4 955.01,366.9 954.96,365.4 954.91,363.9 954.86,362.4 954.81,360.9 954.75,359.4 954.70,357.9 954.65,356.4 954.59,354.9 954.53,353.4 954.47,351.9 954.42,350.4 954.40,350.0 954.36,348.9 954.30,347.4 954.24,345.9 954.18,344.4 954.12,342.9 954.05,341.4 953.99,339.9 953.92,338.4 953.85,336.9 953.78,335.4 953.71,333.9 953.63,332.4 953.55,330.9 953.50,330.0 953.47,329.4 953.38,327.9 953.29,326.4 953.19,324.9 953.09,323.4 952.99,321.9 952.88,320.4 952.77,318.9 952.65,317.4 952.53,315.9 952.40,314.4 952.27,312.9 952.13,311.4 952.00,310.0 951.99,309.9 951.84,308.4 951.67,306.9 951.49,305.4 951.29,303.9 951.09,302.4 950.88,300.9 950.67,299.4 950.45,297.9 950.23,296.4 950.01,294.9 949.79,293.4 949.57,291.9 949.36,290.4 949.30,290.0 949.15,288.9 948.95,287.4 948.75,285.9 948.56,284.4 948.36,282.9 948.16,281.4 947.96,279.9 947.75,278.4 947.52,276.9 947.29,275.4 947.04,273.9 946.90,273.1 946.77,272.4 946.48,270.9 946.17,269.4 945.83,267.9 945.48,266.4 945.11,264.9 944.73,263.4 944.60,262.9 944.34,261.9 943.92,260.4 943.48,258.9 943.02,257.4 942.55,255.9 942.06,254.4 941.57,252.9 941.50,252.7 941.06,251.4 940.52,249.9 939.97,248.4 939.40,246.9 938.83,245.4 938.24,243.9 937.70,242.5 937.66,242.4 937.07,240.9 936.48,239.4 935.88,237.9 935.27,236.4 934.65,234.9 934.02,233.4 933.60,232.4 933.38,231.9 932.72,230.4 932.02,228.9 931.32,227.4 930.62,225.9 929.94,224.4 929.29,222.9 929.00,222.2 928.67,221.4 928.04,219.9 927.41,218.4 926.81,216.9 926.24,215.4 925.73,213.9 925.30,212.4 925.20,212.0 924.93,210.9 924.56,209.4 924.21,207.9 923.90,206.4 923.64,204.9 923.47,203.4 923.40,201.9 923.40,201.8 923.42,200.4 923.49,198.9 923.59,197.4 923.72,195.9 923.87,194.4 924.04,192.9 924.20,191.6 924.23,191.4 924.47,189.9 924.79,188.4 925.19,186.9 925.64,185.4 926.13,183.9 926.65,182.4 927.00,181.4 927.18,180.9 927.80,179.4 928.50,177.9 929.26,176.4 930.07,174.9 930.91,173.4 931.76,171.9 932.10,171.3 932.62,170.4 933.53,168.9 934.49,167.4 935.48,165.9 936.49,164.4 937.50,162.9 938.50,161.4 938.70,161.1 939.49,159.9 940.49,158.4 941.49,156.9 942.49,155.4 943.51,153.9 944.55,152.4 945.60,150.9 946.75,149.4 948.01,147.9 949.31,146.4 950.56,144.9 951.70,143.4 952.64,141.9 953.20,140.7 953.31,140.4 953.85,138.9 954.34,137.4 954.78,135.9 955.15,134.4 955.46,132.9 955.70,131.4 955.80,130.5 955.86,129.9 956.00,128.4 956.14,126.9 956.27,125.4 956.40,123.9 956.51,122.4 956.62,120.9 956.68,119.4 956.68,117.9 956.68,116.4 956.68,114.9 956.68,113.4 956.68,111.9 956.68,110.4 956.68,108.9 956.68,107.4 956.68,105.9 956.68,104.4 956.68,102.9 Z"/></clipPath>
<path d="M956.92,102.9 956.92,104.4 956.92,105.9 956.92,107.4 956.92,108.9 956.92,110.4 956.92,111.9 956.92,113.4 956.92,114.9 956.92,116.4 956.92,117.9 956.92,119.4 956.98,120.9 957.09,122.4 957.20,123.9 957.33,125.4 957.46,126.9 957.60,128.4 957.74,129.9 957.80,130.5 957.90,131.4 958.14,132.9 958.45,134.4 958.82,135.9 959.26,137.4 959.75,138.9 960.29,140.4 960.40,140.7 960.96,141.9 961.90,143.4 963.04,144.9 964.29,146.4 965.59,147.9 966.85,149.4 968.00,150.9 969.05,152.4 970.09,153.9 971.11,155.4 972.11,156.9 973.11,158.4 974.11,159.9 974.90,161.1 975.10,161.4 976.10,162.9 977.11,164.4 978.12,165.9 979.11,167.4 980.07,168.9 980.98,170.4 981.50,171.3 981.84,171.9 982.69,173.4 983.53,174.9 984.34,176.4 985.10,177.9 985.80,179.4 986.42,180.9 986.60,181.4 986.95,182.4 987.47,183.9 987.96,185.4 988.41,186.9 988.81,188.4 989.13,189.9 989.37,191.4 989.40,191.6 989.56,192.9 989.73,194.4 989.88,195.9 990.01,197.4 990.11,198.9 990.18,200.4 990.20,201.8 990.20,201.9 990.13,203.4 989.96,204.9 989.70,206.4 989.39,207.9 989.04,209.4 988.67,210.9 988.40,212.0 988.30,212.4 987.87,213.9 987.36,215.4 986.79,216.9 986.19,218.4 985.56,219.9 984.93,221.4 984.60,222.2 984.31,222.9 983.66,224.4 982.98,225.9 982.28,227.4 981.58,228.9 980.88,230.4 980.22,231.9 980.00,232.4 979.58,233.4 978.95,234.9 978.33,236.4 977.72,237.9 977.12,239.4 976.53,240.9 975.94,242.4 975.90,242.5 975.36,243.9 974.77,245.4 974.20,246.9 973.63,248.4 973.08,249.9 972.54,251.4 972.10,252.7 972.03,252.9 971.54,254.4 971.05,255.9 970.58,257.4 970.12,258.9 969.68,260.4 969.26,261.9 969.00,262.9 968.87,263.4 968.49,264.9 968.12,266.4 967.77,267.9 967.43,269.4 967.12,270.9 966.83,272.4 966.70,273.1 966.56,273.9 966.31,275.4 966.08,276.9 965.85,278.4 965.64,279.9 965.44,281.4 965.24,282.9 965.04,284.4 964.85,285.9 964.65,287.4 964.45,288.9 964.30,290.0 964.24,290.4 964.03,291.9 963.81,293.4 963.59,294.9 963.37,296.4 963.15,297.9 962.93,299.4 962.72,300.9 962.51,302.4 962.31,303.9 962.11,305.4 961.93,306.9 961.76,308.4 961.61,309.9 961.60,310.0 961.47,311.4 961.33,312.9 961.20,314.4 961.07,315.9 960.95,317.4 960.83,318.9 960.72,320.4 960.61,321.9 960.51,323.4 960.41,324.9 960.31,326.4 960.22,327.9 960.13,329.4 960.10,330.0 960.05,330.9 959.97,332.4 959.89,333.9 959.82,335.4 959.75,336.9 959.68,338.4 959.61,339.9 959.55,341.4 959.48,342.9 959.42,344.4 959.36,345.9 959.30,347.4 959.24,348.9 959.20,350.0 959.18,350.4 959.13,351.9 959.07,353.4 959.01,354.9 958.95,356.4 958.90,357.9 958.85,359.4 958.79,360.9 958.74,362.4 958.69,363.9 958.64,365.4 958.59,366.9 958.55,368.4 958.50,369.9 958.50,370.0 958.46,371.4 958.42,372.9 958.37,374.4 958.33,375.9 958.29,377.4 958.25,378.9 958.22,380.4 958.18,381.9 958.14,383.4 958.11,384.9 958.07,386.4 958.04,387.9 958.01,389.4 958.00,390.0 957.98,390.9 957.95,392.4 957.92,393.9 957.89,395.4 957.87,396.9 957.84,398.4 957.81,399.9 957.78,401.4 957.76,402.9 957.73,404.4 957.71,405.9 957.69,407.4 957.67,408.9 957.65,410.4 957.63,411.9 957.61,413.4 957.60,414.9 957.60,415.0 957.59,416.4 957.58,417.9 957.56,419.4 957.55,420.9 957.54,422.4 957.52,423.9 957.51,425.4 957.50,426.9 957.49,428.4 957.48,429.9 957.47,431.4 957.46,432.9 957.45,434.4 957.44,435.9 957.43,437.4 957.43,438.9 957.42,440.4 957.41,441.9 957.41,443.4 957.41,444.9 957.40,446.4 957.40,447.9 957.40,449.4 957.40,450.0 957.40,450.9 957.40,452.4 957.40,453.9 957.41,455.4 957.41,456.9 957.42,458.4 957.43,459.9 957.43,461.4 957.44,462.9 957.45,464.4 957.46,465.9 957.47,467.4 957.48,468.9 957.49,470.4 957.51,471.9 957.52,473.4 957.53,474.9 957.54,476.4 957.56,477.9 957.57,479.4 957.58,480.9 957.59,482.4 957.61,483.9 957.62,485.4 957.63,486.9 957.64,488.4 957.65,489.9 957.65,490.0 957.66,491.4 957.67,492.9 957.68,494.4 957.69,495.9 957.69,497.4 957.70,498.9 957.71,500.4 957.72,501.9 957.73,503.4 957.74,504.9 957.74,506.4 957.75,507.9 957.76,509.4 957.77,510.9 957.78,512.4 957.79,513.9 957.80,515.4 957.82,516.9 957.83,518.4 957.84,519.9 957.86,521.4 957.88,522.9 957.89,524.4 957.90,525.0 957.91,525.9 957.93,527.4 957.96,528.9 957.99,530.4 958.03,531.9 958.07,533.4 958.11,534.9 958.16,536.4 958.22,537.9 958.28,539.4 958.30,540.0 958.34,540.9 958.44,542.4 958.56,543.9 958.69,545.4 958.83,546.9 958.97,548.4 959.10,549.9 959.11,550.0 959.23,551.4 959.39,552.9 959.54,554.4 959.69,555.9 959.81,557.4 959.88,558.9 959.90,560.0 959.90,560.4 959.82,561.9 959.65,563.4 959.44,564.9 959.21,566.4 959.00,567.8 958.98,567.9 958.78,569.4 958.55,570.9 958.24,572.4 957.92,573.5 957.73,573.9 956.92,575.4 956.92,575.5 L956.68,575.5 956.68,575.4 955.87,573.9 955.68,573.5 955.36,572.4 955.05,570.9 954.82,569.4 954.62,567.9 954.60,567.8 954.39,566.4 954.16,564.9 953.95,563.4 953.78,561.9 953.70,560.4 953.70,560.0 953.72,558.9 953.79,557.4 953.91,555.9 954.06,554.4 954.21,552.9 954.37,551.4 954.49,550.0 954.50,549.9 954.63,548.4 954.77,546.9 954.91,545.4 955.04,543.9 955.16,542.4 955.26,540.9 955.30,540.0 955.32,539.4 955.38,537.9 955.44,536.4 955.49,534.9 955.53,533.4 955.57,531.9 955.61,530.4 955.64,528.9 955.67,527.4 955.69,525.9 955.70,525.0 955.71,524.4 955.72,522.9 955.74,521.4 955.76,519.9 955.77,518.4 955.78,516.9 955.80,515.4 955.81,513.9 955.82,512.4 955.83,510.9 955.84,509.4 955.85,507.9 955.86,506.4 955.86,504.9 955.87,503.4 955.88,501.9 955.89,500.4 955.90,498.9 955.91,497.4 955.91,495.9 955.92,494.4 955.93,492.9 955.94,491.4 955.95,490.0 955.95,489.9 955.96,488.4 955.97,486.9 955.98,485.4 955.99,483.9 956.01,482.4 956.02,480.9 956.03,479.4 956.04,477.9 956.06,476.4 956.07,474.9 956.08,473.4 956.09,471.9 956.11,470.4 956.12,468.9 956.13,467.4 956.14,465.9 956.15,464.4 956.16,462.9 956.17,461.4 956.17,459.9 956.18,458.4 956.19,456.9 956.19,455.4 956.20,453.9 956.20,452.4 956.20,450.9 956.20,450.0 956.20,449.4 956.20,447.9 956.20,446.4 956.19,444.9 956.19,443.4 956.19,441.9 956.18,440.4 956.17,438.9 956.17,437.4 956.16,435.9 956.15,434.4 956.14,432.9 956.13,431.4 956.12,429.9 956.11,428.4 956.10,426.9 956.09,425.4 956.08,423.9 956.06,422.4 956.05,420.9 956.04,419.4 956.02,417.9 956.01,416.4 956.00,415.0 956.00,414.9 955.99,413.4 955.97,411.9 955.95,410.4 955.93,408.9 955.91,407.4 955.89,405.9 955.87,404.4 955.84,402.9 955.82,401.4 955.79,399.9 955.76,398.4 955.73,396.9 955.71,395.4 955.68,393.9 955.65,392.4 955.62,390.9 955.60,390.0 955.59,389.4 955.56,387.9 955.53,386.4 955.49,384.9 955.46,383.4 955.42,381.9 955.38,380.4 955.35,378.9 955.31,377.4 955.27,375.9 955.23,374.4 955.18,372.9 955.14,371.4 955.10,370.0 955.10,369.9 955.05,368.4 955.01,366.9 954.96,365.4 954.91,363.9 954.86,362.4 954.81,360.9 954.75,359.4 954.70,357.9 954.65,356.4 954.59,354.9 954.53,353.4 954.47,351.9 954.42,350.4 954.40,350.0 954.36,348.9 954.30,347.4 954.24,345.9 954.18,344.4 954.12,342.9 954.05,341.4 953.99,339.9 953.92,338.4 953.85,336.9 953.78,335.4 953.71,333.9 953.63,332.4 953.55,330.9 953.50,330.0 953.47,329.4 953.38,327.9 953.29,326.4 953.19,324.9 953.09,323.4 952.99,321.9 952.88,320.4 952.77,318.9 952.65,317.4 952.53,315.9 952.40,314.4 952.27,312.9 952.13,311.4 952.00,310.0 951.99,309.9 951.84,308.4 951.67,306.9 951.49,305.4 951.29,303.9 951.09,302.4 950.88,300.9 950.67,299.4 950.45,297.9 950.23,296.4 950.01,294.9 949.79,293.4 949.57,291.9 949.36,290.4 949.30,290.0 949.15,288.9 948.95,287.4 948.75,285.9 948.56,284.4 948.36,282.9 948.16,281.4 947.96,279.9 947.75,278.4 947.52,276.9 947.29,275.4 947.04,273.9 946.90,273.1 946.77,272.4 946.48,270.9 946.17,269.4 945.83,267.9 945.48,266.4 945.11,264.9 944.73,263.4 944.60,262.9 944.34,261.9 943.92,260.4 943.48,258.9 943.02,257.4 942.55,255.9 942.06,254.4 941.57,252.9 941.50,252.7 941.06,251.4 940.52,249.9 939.97,248.4 939.40,246.9 938.83,245.4 938.24,243.9 937.70,242.5 937.66,242.4 937.07,240.9 936.48,239.4 935.88,237.9 935.27,236.4 934.65,234.9 934.02,233.4 933.60,232.4 933.38,231.9 932.72,230.4 932.02,228.9 931.32,227.4 930.62,225.9 929.94,224.4 929.29,222.9 929.00,222.2 928.67,221.4 928.04,219.9 927.41,218.4 926.81,216.9 926.24,215.4 925.73,213.9 925.30,212.4 925.20,212.0 924.93,210.9 924.56,209.4 924.21,207.9 923.90,206.4 923.64,204.9 923.47,203.4 923.40,201.9 923.40,201.8 923.42,200.4 923.49,198.9 923.59,197.4 923.72,195.9 923.87,194.4 924.04,192.9 924.20,191.6 924.23,191.4 924.47,189.9 924.79,188.4 925.19,186.9 925.64,185.4 926.13,183.9 926.65,182.4 927.00,181.4 927.18,180.9 927.80,179.4 928.50,177.9 929.26,176.4 930.07,174.9 930.91,173.4 931.76,171.9 932.10,171.3 932.62,170.4 933.53,168.9 934.49,167.4 935.48,165.9 936.49,164.4 937.50,162.9 938.50,161.4 938.70,161.1 939.49,159.9 940.49,158.4 941.49,156.9 942.49,155.4 943.51,153.9 944.55,152.4 945.60,150.9 946.75,149.4 948.01,147.9 949.31,146.4 950.56,144.9 951.70,143.4 952.64,141.9 953.20,140.7 953.31,140.4 953.85,138.9 954.34,137.4 954.78,135.9 955.15,134.4 955.46,132.9 955.70,131.4 955.80,130.5 955.86,129.9 956.00,128.4 956.14,126.9 956.27,125.4 956.40,123.9 956.51,122.4 956.62,120.9 956.68,119.4 956.68,117.9 956.68,116.4 956.68,114.9 956.68,113.4 956.68,111.9 956.68,110.4 956.68,108.9 956.68,107.4 956.68,105.9 956.68,104.4 956.68,102.9 Z" fill="#437742" stroke="#1a1a1a" stroke-width="1.1" stroke-linejoin="round"/>
<rect x="896.8" y="216.6" width="120" height="4" fill="#2e302c" clip-path="url(#vc1)"/>
<circle cx="956.8" cy="241" r="10.8" fill="#fff"/><circle cx="956.8" cy="241" r="6.5" fill="#000"/>
<clipPath id="vc2"><path d="M1053.72,102.5 1053.72,104.0 1053.72,105.5 1053.72,107.0 1053.72,108.5 1053.72,110.0 1053.72,111.5 1053.72,113.0 1053.72,114.5 1053.72,116.0 1053.72,117.5 1053.72,119.0 1053.79,120.5 1053.90,122.0 1054.03,123.5 1054.16,125.0 1054.30,126.5 1054.44,128.0 1054.60,129.5 1054.82,131.0 1055.15,132.5 1055.58,134.0 1056.09,135.5 1056.69,137.0 1057.34,138.5 1058.05,140.0 1058.40,140.7 1058.86,141.5 1059.97,143.0 1061.35,144.5 1062.89,146.0 1064.49,147.5 1066.08,149.0 1067.54,150.5 1067.90,150.9 1068.86,152.0 1070.14,153.5 1071.41,155.0 1072.65,156.5 1073.87,158.0 1075.06,159.5 1076.22,161.0 1076.30,161.1 1077.37,162.5 1078.49,164.0 1079.60,165.5 1080.68,167.0 1081.73,168.5 1082.75,170.0 1083.60,171.3 1083.73,171.5 1084.71,173.0 1085.71,174.5 1086.68,176.0 1087.60,177.5 1088.43,179.0 1089.14,180.5 1089.50,181.4 1089.72,182.0 1090.28,183.5 1090.82,185.0 1091.31,186.5 1091.73,188.0 1092.03,189.5 1092.19,191.0 1092.20,191.6 1092.17,192.5 1092.02,194.0 1091.76,195.5 1091.41,197.0 1091.00,198.5 1090.55,200.0 1090.09,201.5 1090.00,201.8 1089.58,203.0 1088.92,204.5 1088.14,206.0 1087.30,207.5 1086.41,209.0 1085.54,210.5 1084.70,212.0 1083.89,213.5 1083.05,215.0 1082.21,216.5 1081.37,218.0 1080.54,219.5 1079.73,221.0 1079.10,222.2 1078.95,222.5 1078.20,224.0 1077.46,225.5 1076.75,227.0 1076.04,228.5 1075.34,230.0 1074.63,231.5 1074.20,232.4 1073.91,233.0 1073.17,234.5 1072.41,236.0 1071.66,237.5 1070.93,239.0 1070.23,240.5 1069.60,242.0 1069.40,242.5 1069.02,243.5 1068.49,245.0 1067.99,246.5 1067.51,248.0 1067.05,249.5 1066.60,251.0 1066.16,252.5 1066.10,252.7 1065.72,254.0 1065.28,255.5 1064.86,257.0 1064.45,258.5 1064.04,260.0 1063.65,261.5 1063.30,262.9 1063.28,263.0 1062.90,264.5 1062.52,266.0 1062.14,267.5 1061.79,269.0 1061.46,270.5 1061.18,272.0 1061.00,273.1 1060.94,273.5 1060.73,275.0 1060.54,276.5 1060.37,278.0 1060.21,279.5 1060.05,281.0 1059.91,282.5 1059.77,284.0 1059.63,285.5 1059.49,287.0 1059.40,288.0 1059.35,288.5 1059.21,290.0 1059.08,291.5 1058.94,293.0 1058.81,294.5 1058.68,296.0 1058.55,297.5 1058.43,299.0 1058.31,300.5 1058.19,302.0 1058.08,303.5 1057.97,305.0 1057.90,306.0 1057.86,306.5 1057.76,308.0 1057.66,309.5 1057.56,311.0 1057.46,312.5 1057.37,314.0 1057.28,315.5 1057.19,317.0 1057.10,318.5 1057.01,320.0 1056.93,321.5 1056.85,323.0 1056.80,324.0 1056.77,324.5 1056.70,326.0 1056.63,327.5 1056.55,329.0 1056.48,330.5 1056.41,332.0 1056.35,333.5 1056.28,335.0 1056.22,336.5 1056.16,338.0 1056.10,339.5 1056.04,341.0 1056.00,342.0 1055.98,342.5 1055.93,344.0 1055.87,345.5 1055.82,347.0 1055.77,348.5 1055.72,350.0 1055.67,351.5 1055.62,353.0 1055.57,354.5 1055.52,356.0 1055.48,357.5 1055.43,359.0 1055.40,360.0 1055.38,360.5 1055.34,362.0 1055.29,363.5 1055.25,365.0 1055.20,366.5 1055.16,368.0 1055.11,369.5 1055.07,371.0 1055.03,372.5 1054.99,374.0 1054.95,375.5 1054.92,377.0 1054.90,378.0 1054.89,378.5 1054.86,380.0 1054.83,381.5 1054.81,383.0 1054.78,384.5 1054.76,386.0 1054.73,387.5 1054.71,389.0 1054.69,390.5 1054.67,392.0 1054.65,393.5 1054.63,395.0 1054.61,396.5 1054.60,397.0 1054.59,398.0 1054.57,399.5 1054.55,401.0 1054.53,402.5 1054.51,404.0 1054.49,405.5 1054.47,407.0 1054.45,408.5 1054.43,410.0 1054.41,411.5 1054.40,413.0 1054.38,414.5 1054.36,416.0 1054.35,417.5 1054.34,419.0 1054.32,420.5 1054.31,422.0 1054.30,423.5 1054.30,424.0 1054.29,425.0 1054.29,426.5 1054.28,428.0 1054.27,429.5 1054.26,431.0 1054.25,432.5 1054.25,434.0 1054.24,435.5 1054.23,437.0 1054.23,438.5 1054.22,440.0 1054.21,441.5 1054.21,443.0 1054.21,444.5 1054.20,446.0 1054.20,447.5 1054.20,449.0 1054.20,450.0 1054.20,450.5 1054.20,452.0 1054.20,453.5 1054.21,455.0 1054.21,456.5 1054.22,458.0 1054.22,459.5 1054.23,461.0 1054.24,462.5 1054.25,464.0 1054.26,465.5 1054.27,467.0 1054.28,468.5 1054.29,470.0 1054.30,471.5 1054.32,473.0 1054.33,474.5 1054.34,476.0 1054.35,477.5 1054.37,479.0 1054.38,480.5 1054.39,482.0 1054.40,483.5 1054.41,485.0 1054.43,486.5 1054.44,488.0 1054.45,489.5 1054.45,490.0 1054.46,491.0 1054.47,492.5 1054.48,494.0 1054.48,495.5 1054.49,497.0 1054.50,498.5 1054.51,500.0 1054.52,501.5 1054.53,503.0 1054.53,504.5 1054.54,506.0 1054.55,507.5 1054.56,509.0 1054.57,510.5 1054.58,512.0 1054.59,513.5 1054.60,515.0 1054.61,516.5 1054.63,518.0 1054.64,519.5 1054.66,521.0 1054.67,522.5 1054.69,524.0 1054.70,525.0 1054.71,525.5 1054.73,527.0 1054.75,528.5 1054.78,530.0 1054.82,531.5 1054.86,533.0 1054.90,534.5 1054.95,536.0 1055.00,537.5 1055.06,539.0 1055.10,540.0 1055.12,540.5 1055.22,542.0 1055.34,543.5 1055.49,545.0 1055.66,546.5 1055.84,548.0 1056.04,549.5 1056.23,551.0 1056.43,552.5 1056.61,554.0 1056.79,555.5 1056.84,556.0 1056.96,557.0 1057.16,558.5 1057.37,560.0 1057.57,561.5 1057.74,563.0 1057.86,564.5 1057.90,566.0 1057.79,567.5 1057.54,569.0 1057.23,570.5 1057.18,570.8 1056.94,572.0 1056.46,573.5 1054.22,575.0 1053.72,575.5 L1053.48,575.5 1052.98,575.0 1050.74,573.5 1050.26,572.0 1050.02,570.8 1049.97,570.5 1049.66,569.0 1049.41,567.5 1049.30,566.0 1049.34,564.5 1049.46,563.0 1049.63,561.5 1049.83,560.0 1050.04,558.5 1050.24,557.0 1050.36,556.0 1050.41,555.5 1050.59,554.0 1050.77,552.5 1050.97,551.0 1051.16,549.5 1051.36,548.0 1051.54,546.5 1051.71,545.0 1051.86,543.5 1051.98,542.0 1052.08,540.5 1052.10,540.0 1052.14,539.0 1052.20,537.5 1052.25,536.0 1052.30,534.5 1052.34,533.0 1052.38,531.5 1052.42,530.0 1052.45,528.5 1052.47,527.0 1052.49,525.5 1052.50,525.0 1052.51,524.0 1052.53,522.5 1052.54,521.0 1052.56,519.5 1052.57,518.0 1052.59,516.5 1052.60,515.0 1052.61,513.5 1052.62,512.0 1052.63,510.5 1052.64,509.0 1052.65,507.5 1052.66,506.0 1052.67,504.5 1052.67,503.0 1052.68,501.5 1052.69,500.0 1052.70,498.5 1052.71,497.0 1052.72,495.5 1052.72,494.0 1052.73,492.5 1052.74,491.0 1052.75,490.0 1052.75,489.5 1052.76,488.0 1052.77,486.5 1052.79,485.0 1052.80,483.5 1052.81,482.0 1052.82,480.5 1052.83,479.0 1052.85,477.5 1052.86,476.0 1052.87,474.5 1052.88,473.0 1052.90,471.5 1052.91,470.0 1052.92,468.5 1052.93,467.0 1052.94,465.5 1052.95,464.0 1052.96,462.5 1052.97,461.0 1052.98,459.5 1052.98,458.0 1052.99,456.5 1052.99,455.0 1053.00,453.5 1053.00,452.0 1053.00,450.5 1053.00,450.0 1053.00,449.0 1053.00,447.5 1053.00,446.0 1052.99,444.5 1052.99,443.0 1052.99,441.5 1052.98,440.0 1052.97,438.5 1052.97,437.0 1052.96,435.5 1052.95,434.0 1052.95,432.5 1052.94,431.0 1052.93,429.5 1052.92,428.0 1052.91,426.5 1052.91,425.0 1052.90,424.0 1052.90,423.5 1052.89,422.0 1052.88,420.5 1052.86,419.0 1052.85,417.5 1052.84,416.0 1052.82,414.5 1052.80,413.0 1052.79,411.5 1052.77,410.0 1052.75,408.5 1052.73,407.0 1052.71,405.5 1052.69,404.0 1052.67,402.5 1052.65,401.0 1052.63,399.5 1052.61,398.0 1052.60,397.0 1052.59,396.5 1052.57,395.0 1052.55,393.5 1052.53,392.0 1052.51,390.5 1052.49,389.0 1052.47,387.5 1052.44,386.0 1052.42,384.5 1052.39,383.0 1052.37,381.5 1052.34,380.0 1052.31,378.5 1052.30,378.0 1052.28,377.0 1052.25,375.5 1052.21,374.0 1052.17,372.5 1052.13,371.0 1052.09,369.5 1052.04,368.0 1052.00,366.5 1051.95,365.0 1051.91,363.5 1051.86,362.0 1051.82,360.5 1051.80,360.0 1051.77,359.0 1051.72,357.5 1051.68,356.0 1051.63,354.5 1051.58,353.0 1051.53,351.5 1051.48,350.0 1051.43,348.5 1051.38,347.0 1051.33,345.5 1051.27,344.0 1051.22,342.5 1051.20,342.0 1051.16,341.0 1051.10,339.5 1051.04,338.0 1050.98,336.5 1050.92,335.0 1050.85,333.5 1050.79,332.0 1050.72,330.5 1050.65,329.0 1050.57,327.5 1050.50,326.0 1050.43,324.5 1050.40,324.0 1050.35,323.0 1050.27,321.5 1050.19,320.0 1050.10,318.5 1050.01,317.0 1049.92,315.5 1049.83,314.0 1049.74,312.5 1049.64,311.0 1049.54,309.5 1049.44,308.0 1049.34,306.5 1049.30,306.0 1049.23,305.0 1049.12,303.5 1049.01,302.0 1048.89,300.5 1048.77,299.0 1048.65,297.5 1048.52,296.0 1048.39,294.5 1048.26,293.0 1048.12,291.5 1047.99,290.0 1047.85,288.5 1047.80,288.0 1047.71,287.0 1047.57,285.5 1047.43,284.0 1047.29,282.5 1047.15,281.0 1046.99,279.5 1046.83,278.0 1046.66,276.5 1046.47,275.0 1046.26,273.5 1046.20,273.1 1046.02,272.0 1045.74,270.5 1045.41,269.0 1045.06,267.5 1044.68,266.0 1044.30,264.5 1043.92,263.0 1043.90,262.9 1043.55,261.5 1043.16,260.0 1042.75,258.5 1042.34,257.0 1041.92,255.5 1041.48,254.0 1041.10,252.7 1041.04,252.5 1040.60,251.0 1040.15,249.5 1039.69,248.0 1039.21,246.5 1038.71,245.0 1038.18,243.5 1037.80,242.5 1037.60,242.0 1036.97,240.5 1036.27,239.0 1035.54,237.5 1034.79,236.0 1034.03,234.5 1033.29,233.0 1033.00,232.4 1032.57,231.5 1031.86,230.0 1031.16,228.5 1030.45,227.0 1029.74,225.5 1029.00,224.0 1028.25,222.5 1028.10,222.2 1027.47,221.0 1026.66,219.5 1025.83,218.0 1024.99,216.5 1024.15,215.0 1023.31,213.5 1022.50,212.0 1021.66,210.5 1020.79,209.0 1019.90,207.5 1019.06,206.0 1018.28,204.5 1017.62,203.0 1017.20,201.8 1017.11,201.5 1016.65,200.0 1016.20,198.5 1015.79,197.0 1015.44,195.5 1015.18,194.0 1015.03,192.5 1015.00,191.6 1015.01,191.0 1015.17,189.5 1015.47,188.0 1015.89,186.5 1016.38,185.0 1016.92,183.5 1017.48,182.0 1017.70,181.4 1018.06,180.5 1018.77,179.0 1019.60,177.5 1020.52,176.0 1021.49,174.5 1022.49,173.0 1023.47,171.5 1023.60,171.3 1024.45,170.0 1025.47,168.5 1026.52,167.0 1027.60,165.5 1028.71,164.0 1029.83,162.5 1030.90,161.1 1030.98,161.0 1032.14,159.5 1033.33,158.0 1034.55,156.5 1035.79,155.0 1037.06,153.5 1038.34,152.0 1039.30,150.9 1039.66,150.5 1041.12,149.0 1042.71,147.5 1044.31,146.0 1045.85,144.5 1047.23,143.0 1048.34,141.5 1048.80,140.7 1049.15,140.0 1049.86,138.5 1050.51,137.0 1051.11,135.5 1051.62,134.0 1052.05,132.5 1052.38,131.0 1052.60,129.5 1052.76,128.0 1052.90,126.5 1053.04,125.0 1053.17,123.5 1053.30,122.0 1053.41,120.5 1053.48,119.0 1053.48,117.5 1053.48,116.0 1053.48,114.5 1053.48,113.0 1053.48,111.5 1053.48,110.0 1053.48,108.5 1053.48,107.0 1053.48,105.5 1053.48,104.0 1053.48,102.5 Z"/></clipPath>
<path d="M1053.72,102.5 1053.72,104.0 1053.72,105.5 1053.72,107.0 1053.72,108.5 1053.72,110.0 1053.72,111.5 1053.72,113.0 1053.72,114.5 1053.72,116.0 1053.72,117.5 1053.72,119.0 1053.79,120.5 1053.90,122.0 1054.03,123.5 1054.16,125.0 1054.30,126.5 1054.44,128.0 1054.60,129.5 1054.82,131.0 1055.15,132.5 1055.58,134.0 1056.09,135.5 1056.69,137.0 1057.34,138.5 1058.05,140.0 1058.40,140.7 1058.86,141.5 1059.97,143.0 1061.35,144.5 1062.89,146.0 1064.49,147.5 1066.08,149.0 1067.54,150.5 1067.90,150.9 1068.86,152.0 1070.14,153.5 1071.41,155.0 1072.65,156.5 1073.87,158.0 1075.06,159.5 1076.22,161.0 1076.30,161.1 1077.37,162.5 1078.49,164.0 1079.60,165.5 1080.68,167.0 1081.73,168.5 1082.75,170.0 1083.60,171.3 1083.73,171.5 1084.71,173.0 1085.71,174.5 1086.68,176.0 1087.60,177.5 1088.43,179.0 1089.14,180.5 1089.50,181.4 1089.72,182.0 1090.28,183.5 1090.82,185.0 1091.31,186.5 1091.73,188.0 1092.03,189.5 1092.19,191.0 1092.20,191.6 1092.17,192.5 1092.02,194.0 1091.76,195.5 1091.41,197.0 1091.00,198.5 1090.55,200.0 1090.09,201.5 1090.00,201.8 1089.58,203.0 1088.92,204.5 1088.14,206.0 1087.30,207.5 1086.41,209.0 1085.54,210.5 1084.70,212.0 1083.89,213.5 1083.05,215.0 1082.21,216.5 1081.37,218.0 1080.54,219.5 1079.73,221.0 1079.10,222.2 1078.95,222.5 1078.20,224.0 1077.46,225.5 1076.75,227.0 1076.04,228.5 1075.34,230.0 1074.63,231.5 1074.20,232.4 1073.91,233.0 1073.17,234.5 1072.41,236.0 1071.66,237.5 1070.93,239.0 1070.23,240.5 1069.60,242.0 1069.40,242.5 1069.02,243.5 1068.49,245.0 1067.99,246.5 1067.51,248.0 1067.05,249.5 1066.60,251.0 1066.16,252.5 1066.10,252.7 1065.72,254.0 1065.28,255.5 1064.86,257.0 1064.45,258.5 1064.04,260.0 1063.65,261.5 1063.30,262.9 1063.28,263.0 1062.90,264.5 1062.52,266.0 1062.14,267.5 1061.79,269.0 1061.46,270.5 1061.18,272.0 1061.00,273.1 1060.94,273.5 1060.73,275.0 1060.54,276.5 1060.37,278.0 1060.21,279.5 1060.05,281.0 1059.91,282.5 1059.77,284.0 1059.63,285.5 1059.49,287.0 1059.40,288.0 1059.35,288.5 1059.21,290.0 1059.08,291.5 1058.94,293.0 1058.81,294.5 1058.68,296.0 1058.55,297.5 1058.43,299.0 1058.31,300.5 1058.19,302.0 1058.08,303.5 1057.97,305.0 1057.90,306.0 1057.86,306.5 1057.76,308.0 1057.66,309.5 1057.56,311.0 1057.46,312.5 1057.37,314.0 1057.28,315.5 1057.19,317.0 1057.10,318.5 1057.01,320.0 1056.93,321.5 1056.85,323.0 1056.80,324.0 1056.77,324.5 1056.70,326.0 1056.63,327.5 1056.55,329.0 1056.48,330.5 1056.41,332.0 1056.35,333.5 1056.28,335.0 1056.22,336.5 1056.16,338.0 1056.10,339.5 1056.04,341.0 1056.00,342.0 1055.98,342.5 1055.93,344.0 1055.87,345.5 1055.82,347.0 1055.77,348.5 1055.72,350.0 1055.67,351.5 1055.62,353.0 1055.57,354.5 1055.52,356.0 1055.48,357.5 1055.43,359.0 1055.40,360.0 1055.38,360.5 1055.34,362.0 1055.29,363.5 1055.25,365.0 1055.20,366.5 1055.16,368.0 1055.11,369.5 1055.07,371.0 1055.03,372.5 1054.99,374.0 1054.95,375.5 1054.92,377.0 1054.90,378.0 1054.89,378.5 1054.86,380.0 1054.83,381.5 1054.81,383.0 1054.78,384.5 1054.76,386.0 1054.73,387.5 1054.71,389.0 1054.69,390.5 1054.67,392.0 1054.65,393.5 1054.63,395.0 1054.61,396.5 1054.60,397.0 1054.59,398.0 1054.57,399.5 1054.55,401.0 1054.53,402.5 1054.51,404.0 1054.49,405.5 1054.47,407.0 1054.45,408.5 1054.43,410.0 1054.41,411.5 1054.40,413.0 1054.38,414.5 1054.36,416.0 1054.35,417.5 1054.34,419.0 1054.32,420.5 1054.31,422.0 1054.30,423.5 1054.30,424.0 1054.29,425.0 1054.29,426.5 1054.28,428.0 1054.27,429.5 1054.26,431.0 1054.25,432.5 1054.25,434.0 1054.24,435.5 1054.23,437.0 1054.23,438.5 1054.22,440.0 1054.21,441.5 1054.21,443.0 1054.21,444.5 1054.20,446.0 1054.20,447.5 1054.20,449.0 1054.20,450.0 1054.20,450.5 1054.20,452.0 1054.20,453.5 1054.21,455.0 1054.21,456.5 1054.22,458.0 1054.22,459.5 1054.23,461.0 1054.24,462.5 1054.25,464.0 1054.26,465.5 1054.27,467.0 1054.28,468.5 1054.29,470.0 1054.30,471.5 1054.32,473.0 1054.33,474.5 1054.34,476.0 1054.35,477.5 1054.37,479.0 1054.38,480.5 1054.39,482.0 1054.40,483.5 1054.41,485.0 1054.43,486.5 1054.44,488.0 1054.45,489.5 1054.45,490.0 1054.46,491.0 1054.47,492.5 1054.48,494.0 1054.48,495.5 1054.49,497.0 1054.50,498.5 1054.51,500.0 1054.52,501.5 1054.53,503.0 1054.53,504.5 1054.54,506.0 1054.55,507.5 1054.56,509.0 1054.57,510.5 1054.58,512.0 1054.59,513.5 1054.60,515.0 1054.61,516.5 1054.63,518.0 1054.64,519.5 1054.66,521.0 1054.67,522.5 1054.69,524.0 1054.70,525.0 1054.71,525.5 1054.73,527.0 1054.75,528.5 1054.78,530.0 1054.82,531.5 1054.86,533.0 1054.90,534.5 1054.95,536.0 1055.00,537.5 1055.06,539.0 1055.10,540.0 1055.12,540.5 1055.22,542.0 1055.34,543.5 1055.49,545.0 1055.66,546.5 1055.84,548.0 1056.04,549.5 1056.23,551.0 1056.43,552.5 1056.61,554.0 1056.79,555.5 1056.84,556.0 1056.96,557.0 1057.16,558.5 1057.37,560.0 1057.57,561.5 1057.74,563.0 1057.86,564.5 1057.90,566.0 1057.79,567.5 1057.54,569.0 1057.23,570.5 1057.18,570.8 1056.94,572.0 1056.46,573.5 1054.22,575.0 1053.72,575.5 L1053.48,575.5 1052.98,575.0 1050.74,573.5 1050.26,572.0 1050.02,570.8 1049.97,570.5 1049.66,569.0 1049.41,567.5 1049.30,566.0 1049.34,564.5 1049.46,563.0 1049.63,561.5 1049.83,560.0 1050.04,558.5 1050.24,557.0 1050.36,556.0 1050.41,555.5 1050.59,554.0 1050.77,552.5 1050.97,551.0 1051.16,549.5 1051.36,548.0 1051.54,546.5 1051.71,545.0 1051.86,543.5 1051.98,542.0 1052.08,540.5 1052.10,540.0 1052.14,539.0 1052.20,537.5 1052.25,536.0 1052.30,534.5 1052.34,533.0 1052.38,531.5 1052.42,530.0 1052.45,528.5 1052.47,527.0 1052.49,525.5 1052.50,525.0 1052.51,524.0 1052.53,522.5 1052.54,521.0 1052.56,519.5 1052.57,518.0 1052.59,516.5 1052.60,515.0 1052.61,513.5 1052.62,512.0 1052.63,510.5 1052.64,509.0 1052.65,507.5 1052.66,506.0 1052.67,504.5 1052.67,503.0 1052.68,501.5 1052.69,500.0 1052.70,498.5 1052.71,497.0 1052.72,495.5 1052.72,494.0 1052.73,492.5 1052.74,491.0 1052.75,490.0 1052.75,489.5 1052.76,488.0 1052.77,486.5 1052.79,485.0 1052.80,483.5 1052.81,482.0 1052.82,480.5 1052.83,479.0 1052.85,477.5 1052.86,476.0 1052.87,474.5 1052.88,473.0 1052.90,471.5 1052.91,470.0 1052.92,468.5 1052.93,467.0 1052.94,465.5 1052.95,464.0 1052.96,462.5 1052.97,461.0 1052.98,459.5 1052.98,458.0 1052.99,456.5 1052.99,455.0 1053.00,453.5 1053.00,452.0 1053.00,450.5 1053.00,450.0 1053.00,449.0 1053.00,447.5 1053.00,446.0 1052.99,444.5 1052.99,443.0 1052.99,441.5 1052.98,440.0 1052.97,438.5 1052.97,437.0 1052.96,435.5 1052.95,434.0 1052.95,432.5 1052.94,431.0 1052.93,429.5 1052.92,428.0 1052.91,426.5 1052.91,425.0 1052.90,424.0 1052.90,423.5 1052.89,422.0 1052.88,420.5 1052.86,419.0 1052.85,417.5 1052.84,416.0 1052.82,414.5 1052.80,413.0 1052.79,411.5 1052.77,410.0 1052.75,408.5 1052.73,407.0 1052.71,405.5 1052.69,404.0 1052.67,402.5 1052.65,401.0 1052.63,399.5 1052.61,398.0 1052.60,397.0 1052.59,396.5 1052.57,395.0 1052.55,393.5 1052.53,392.0 1052.51,390.5 1052.49,389.0 1052.47,387.5 1052.44,386.0 1052.42,384.5 1052.39,383.0 1052.37,381.5 1052.34,380.0 1052.31,378.5 1052.30,378.0 1052.28,377.0 1052.25,375.5 1052.21,374.0 1052.17,372.5 1052.13,371.0 1052.09,369.5 1052.04,368.0 1052.00,366.5 1051.95,365.0 1051.91,363.5 1051.86,362.0 1051.82,360.5 1051.80,360.0 1051.77,359.0 1051.72,357.5 1051.68,356.0 1051.63,354.5 1051.58,353.0 1051.53,351.5 1051.48,350.0 1051.43,348.5 1051.38,347.0 1051.33,345.5 1051.27,344.0 1051.22,342.5 1051.20,342.0 1051.16,341.0 1051.10,339.5 1051.04,338.0 1050.98,336.5 1050.92,335.0 1050.85,333.5 1050.79,332.0 1050.72,330.5 1050.65,329.0 1050.57,327.5 1050.50,326.0 1050.43,324.5 1050.40,324.0 1050.35,323.0 1050.27,321.5 1050.19,320.0 1050.10,318.5 1050.01,317.0 1049.92,315.5 1049.83,314.0 1049.74,312.5 1049.64,311.0 1049.54,309.5 1049.44,308.0 1049.34,306.5 1049.30,306.0 1049.23,305.0 1049.12,303.5 1049.01,302.0 1048.89,300.5 1048.77,299.0 1048.65,297.5 1048.52,296.0 1048.39,294.5 1048.26,293.0 1048.12,291.5 1047.99,290.0 1047.85,288.5 1047.80,288.0 1047.71,287.0 1047.57,285.5 1047.43,284.0 1047.29,282.5 1047.15,281.0 1046.99,279.5 1046.83,278.0 1046.66,276.5 1046.47,275.0 1046.26,273.5 1046.20,273.1 1046.02,272.0 1045.74,270.5 1045.41,269.0 1045.06,267.5 1044.68,266.0 1044.30,264.5 1043.92,263.0 1043.90,262.9 1043.55,261.5 1043.16,260.0 1042.75,258.5 1042.34,257.0 1041.92,255.5 1041.48,254.0 1041.10,252.7 1041.04,252.5 1040.60,251.0 1040.15,249.5 1039.69,248.0 1039.21,246.5 1038.71,245.0 1038.18,243.5 1037.80,242.5 1037.60,242.0 1036.97,240.5 1036.27,239.0 1035.54,237.5 1034.79,236.0 1034.03,234.5 1033.29,233.0 1033.00,232.4 1032.57,231.5 1031.86,230.0 1031.16,228.5 1030.45,227.0 1029.74,225.5 1029.00,224.0 1028.25,222.5 1028.10,222.2 1027.47,221.0 1026.66,219.5 1025.83,218.0 1024.99,216.5 1024.15,215.0 1023.31,213.5 1022.50,212.0 1021.66,210.5 1020.79,209.0 1019.90,207.5 1019.06,206.0 1018.28,204.5 1017.62,203.0 1017.20,201.8 1017.11,201.5 1016.65,200.0 1016.20,198.5 1015.79,197.0 1015.44,195.5 1015.18,194.0 1015.03,192.5 1015.00,191.6 1015.01,191.0 1015.17,189.5 1015.47,188.0 1015.89,186.5 1016.38,185.0 1016.92,183.5 1017.48,182.0 1017.70,181.4 1018.06,180.5 1018.77,179.0 1019.60,177.5 1020.52,176.0 1021.49,174.5 1022.49,173.0 1023.47,171.5 1023.60,171.3 1024.45,170.0 1025.47,168.5 1026.52,167.0 1027.60,165.5 1028.71,164.0 1029.83,162.5 1030.90,161.1 1030.98,161.0 1032.14,159.5 1033.33,158.0 1034.55,156.5 1035.79,155.0 1037.06,153.5 1038.34,152.0 1039.30,150.9 1039.66,150.5 1041.12,149.0 1042.71,147.5 1044.31,146.0 1045.85,144.5 1047.23,143.0 1048.34,141.5 1048.80,140.7 1049.15,140.0 1049.86,138.5 1050.51,137.0 1051.11,135.5 1051.62,134.0 1052.05,132.5 1052.38,131.0 1052.60,129.5 1052.76,128.0 1052.90,126.5 1053.04,125.0 1053.17,123.5 1053.30,122.0 1053.41,120.5 1053.48,119.0 1053.48,117.5 1053.48,116.0 1053.48,114.5 1053.48,113.0 1053.48,111.5 1053.48,110.0 1053.48,108.5 1053.48,107.0 1053.48,105.5 1053.48,104.0 1053.48,102.5 Z" fill="#b0c8b3" stroke="#1a1a1a" stroke-width="1.1" stroke-linejoin="round"/>
<rect x="993.5999999999999" y="205.4" width="120" height="4" fill="#2e302c" clip-path="url(#vc2)"/>
<circle cx="1053.6" cy="232.4" r="10.8" fill="#fff"/><circle cx="1053.6" cy="232.4" r="6.5" fill="#000"/>
<clipPath id="vc3"><path d="M1149.62,102.5 1149.62,104.0 1149.62,105.5 1149.62,107.0 1149.62,108.5 1149.62,110.0 1149.62,111.5 1149.62,113.0 1149.62,114.5 1149.70,116.0 1149.86,117.5 1150.04,119.0 1150.23,120.5 1150.44,122.0 1150.50,122.4 1150.76,123.5 1151.39,125.0 1152.24,126.5 1153.23,128.0 1154.25,129.5 1154.90,130.5 1155.22,131.0 1156.25,132.5 1157.36,134.0 1158.53,135.5 1159.73,137.0 1160.94,138.5 1162.15,140.0 1162.70,140.7 1163.33,141.5 1164.53,143.0 1165.75,144.5 1166.98,146.0 1168.20,147.5 1169.41,149.0 1170.59,150.5 1170.90,150.9 1171.75,152.0 1172.92,153.5 1174.08,155.0 1175.22,156.5 1176.33,158.0 1177.41,159.5 1178.43,161.0 1178.50,161.1 1179.45,162.5 1180.47,164.0 1181.48,165.5 1182.44,167.0 1183.31,168.5 1184.07,170.0 1184.60,171.3 1184.67,171.5 1185.22,173.0 1185.75,174.5 1186.25,176.0 1186.67,177.5 1186.99,179.0 1187.17,180.5 1187.20,181.4 1187.19,182.0 1187.12,183.5 1186.99,185.0 1186.80,186.5 1186.57,188.0 1186.30,189.5 1186.02,191.0 1185.90,191.6 1185.69,192.5 1185.23,194.0 1184.64,195.5 1183.96,197.0 1183.23,198.5 1182.48,200.0 1181.74,201.5 1181.60,201.8 1181.02,203.0 1180.25,204.5 1179.45,206.0 1178.63,207.5 1177.80,209.0 1176.99,210.5 1176.20,212.0 1175.43,213.5 1174.66,215.0 1173.90,216.5 1173.14,218.0 1172.40,219.5 1171.67,221.0 1171.10,222.2 1170.96,222.5 1170.27,224.0 1169.59,225.5 1168.92,227.0 1168.27,228.5 1167.62,230.0 1166.98,231.5 1166.60,232.4 1166.35,233.0 1165.71,234.5 1165.08,236.0 1164.45,237.5 1163.84,239.0 1163.25,240.5 1162.68,242.0 1162.50,242.5 1162.14,243.5 1161.61,245.0 1161.10,246.5 1160.60,248.0 1160.12,249.5 1159.67,251.0 1159.25,252.5 1159.20,252.7 1158.86,254.0 1158.49,255.5 1158.14,257.0 1157.81,258.5 1157.49,260.0 1157.18,261.5 1156.90,262.9 1156.88,263.0 1156.58,264.5 1156.29,266.0 1156.01,267.5 1155.73,269.0 1155.48,270.5 1155.25,272.0 1155.10,273.1 1155.05,273.5 1154.86,275.0 1154.68,276.5 1154.51,278.0 1154.35,279.5 1154.20,281.0 1154.05,282.5 1153.92,284.0 1153.79,285.5 1153.67,287.0 1153.60,288.0 1153.56,288.5 1153.46,290.0 1153.36,291.5 1153.27,293.0 1153.18,294.5 1153.09,296.0 1153.01,297.5 1152.94,299.0 1152.86,300.5 1152.79,302.0 1152.72,303.5 1152.65,305.0 1152.60,306.0 1152.58,306.5 1152.51,308.0 1152.44,309.5 1152.38,311.0 1152.32,312.5 1152.26,314.0 1152.20,315.5 1152.14,317.0 1152.09,318.5 1152.04,320.0 1151.98,321.5 1151.93,323.0 1151.90,324.0 1151.88,324.5 1151.84,326.0 1151.79,327.5 1151.75,329.0 1151.70,330.5 1151.66,332.0 1151.62,333.5 1151.58,335.0 1151.54,336.5 1151.50,338.0 1151.46,339.5 1151.42,341.0 1151.40,342.0 1151.39,342.5 1151.35,344.0 1151.32,345.5 1151.28,347.0 1151.25,348.5 1151.22,350.0 1151.18,351.5 1151.15,353.0 1151.12,354.5 1151.09,356.0 1151.05,357.5 1151.02,359.0 1151.00,360.0 1150.99,360.5 1150.95,362.0 1150.92,363.5 1150.88,365.0 1150.84,366.5 1150.81,368.0 1150.77,369.5 1150.73,371.0 1150.70,372.5 1150.67,374.0 1150.64,375.5 1150.62,377.0 1150.60,378.0 1150.59,378.5 1150.57,380.0 1150.55,381.5 1150.54,383.0 1150.52,384.5 1150.51,386.0 1150.49,387.5 1150.48,389.0 1150.46,390.5 1150.45,392.0 1150.44,393.5 1150.42,395.0 1150.41,396.5 1150.40,397.0 1150.39,398.0 1150.37,399.5 1150.35,401.0 1150.33,402.5 1150.31,404.0 1150.29,405.5 1150.26,407.0 1150.24,408.5 1150.22,410.0 1150.20,411.5 1150.18,413.0 1150.16,414.5 1150.15,416.0 1150.13,417.5 1150.12,419.0 1150.11,420.5 1150.10,422.0 1150.10,423.5 1150.10,424.0 1150.10,425.0 1150.10,426.5 1150.10,428.0 1150.10,429.5 1150.10,431.0 1150.10,432.5 1150.10,434.0 1150.10,435.5 1150.10,437.0 1150.10,438.5 1150.10,440.0 1150.10,441.5 1150.10,443.0 1150.10,444.5 1150.10,446.0 1150.10,447.5 1150.10,449.0 1150.10,450.0 1150.10,450.5 1150.10,452.0 1150.10,453.5 1150.11,455.0 1150.11,456.5 1150.12,458.0 1150.12,459.5 1150.13,461.0 1150.14,462.5 1150.15,464.0 1150.16,465.5 1150.17,467.0 1150.18,468.5 1150.19,470.0 1150.20,471.5 1150.22,473.0 1150.23,474.5 1150.24,476.0 1150.25,477.5 1150.27,479.0 1150.28,480.5 1150.29,482.0 1150.30,483.5 1150.31,485.0 1150.33,486.5 1150.34,488.0 1150.35,489.5 1150.35,490.0 1150.36,491.0 1150.37,492.5 1150.38,494.0 1150.38,495.5 1150.39,497.0 1150.40,498.5 1150.41,500.0 1150.42,501.5 1150.43,503.0 1150.43,504.5 1150.44,506.0 1150.45,507.5 1150.46,509.0 1150.47,510.5 1150.48,512.0 1150.49,513.5 1150.50,515.0 1150.51,516.5 1150.53,518.0 1150.54,519.5 1150.56,521.0 1150.57,522.5 1150.59,524.0 1150.60,525.0 1150.61,525.5 1150.63,527.0 1150.66,528.5 1150.69,530.0 1150.73,531.5 1150.77,533.0 1150.81,534.5 1150.86,536.0 1150.91,537.5 1150.96,539.0 1151.00,540.0 1151.02,540.5 1151.08,542.0 1151.15,543.5 1151.23,545.0 1151.32,546.5 1151.41,548.0 1151.50,549.5 1151.60,551.0 1151.70,552.5 1151.73,553.0 1151.80,554.0 1151.94,555.5 1152.10,557.0 1152.25,558.5 1152.37,560.0 1152.47,561.5 1152.50,563.0 1152.42,564.5 1152.22,566.0 1151.96,567.5 1151.67,569.0 1151.62,569.2 1151.40,570.5 1151.06,572.0 1150.58,573.5 1149.62,575.0 1149.62,575.5 L1149.38,575.5 1149.38,575.0 1148.42,573.5 1147.94,572.0 1147.60,570.5 1147.38,569.2 1147.33,569.0 1147.04,567.5 1146.78,566.0 1146.58,564.5 1146.50,563.0 1146.53,561.5 1146.63,560.0 1146.75,558.5 1146.90,557.0 1147.06,555.5 1147.20,554.0 1147.27,553.0 1147.30,552.5 1147.40,551.0 1147.50,549.5 1147.59,548.0 1147.68,546.5 1147.77,545.0 1147.85,543.5 1147.92,542.0 1147.98,540.5 1148.00,540.0 1148.04,539.0 1148.09,537.5 1148.14,536.0 1148.19,534.5 1148.23,533.0 1148.27,531.5 1148.31,530.0 1148.34,528.5 1148.37,527.0 1148.39,525.5 1148.40,525.0 1148.41,524.0 1148.43,522.5 1148.44,521.0 1148.46,519.5 1148.47,518.0 1148.49,516.5 1148.50,515.0 1148.51,513.5 1148.52,512.0 1148.53,510.5 1148.54,509.0 1148.55,507.5 1148.56,506.0 1148.57,504.5 1148.57,503.0 1148.58,501.5 1148.59,500.0 1148.60,498.5 1148.61,497.0 1148.62,495.5 1148.62,494.0 1148.63,492.5 1148.64,491.0 1148.65,490.0 1148.65,489.5 1148.66,488.0 1148.67,486.5 1148.69,485.0 1148.70,483.5 1148.71,482.0 1148.72,480.5 1148.73,479.0 1148.75,477.5 1148.76,476.0 1148.77,474.5 1148.78,473.0 1148.80,471.5 1148.81,470.0 1148.82,468.5 1148.83,467.0 1148.84,465.5 1148.85,464.0 1148.86,462.5 1148.87,461.0 1148.88,459.5 1148.88,458.0 1148.89,456.5 1148.89,455.0 1148.90,453.5 1148.90,452.0 1148.90,450.5 1148.90,450.0 1148.90,449.0 1148.90,447.5 1148.90,446.0 1148.90,444.5 1148.90,443.0 1148.90,441.5 1148.90,440.0 1148.90,438.5 1148.90,437.0 1148.90,435.5 1148.90,434.0 1148.90,432.5 1148.90,431.0 1148.90,429.5 1148.90,428.0 1148.90,426.5 1148.90,425.0 1148.90,424.0 1148.90,423.5 1148.90,422.0 1148.89,420.5 1148.88,419.0 1148.87,417.5 1148.85,416.0 1148.84,414.5 1148.82,413.0 1148.80,411.5 1148.78,410.0 1148.76,408.5 1148.74,407.0 1148.71,405.5 1148.69,404.0 1148.67,402.5 1148.65,401.0 1148.63,399.5 1148.61,398.0 1148.60,397.0 1148.59,396.5 1148.58,395.0 1148.56,393.5 1148.55,392.0 1148.54,390.5 1148.52,389.0 1148.51,387.5 1148.49,386.0 1148.48,384.5 1148.46,383.0 1148.45,381.5 1148.43,380.0 1148.41,378.5 1148.40,378.0 1148.38,377.0 1148.36,375.5 1148.33,374.0 1148.30,372.5 1148.27,371.0 1148.23,369.5 1148.19,368.0 1148.16,366.5 1148.12,365.0 1148.08,363.5 1148.05,362.0 1148.01,360.5 1148.00,360.0 1147.98,359.0 1147.95,357.5 1147.91,356.0 1147.88,354.5 1147.85,353.0 1147.82,351.5 1147.78,350.0 1147.75,348.5 1147.72,347.0 1147.68,345.5 1147.65,344.0 1147.61,342.5 1147.60,342.0 1147.58,341.0 1147.54,339.5 1147.50,338.0 1147.46,336.5 1147.42,335.0 1147.38,333.5 1147.34,332.0 1147.30,330.5 1147.25,329.0 1147.21,327.5 1147.16,326.0 1147.12,324.5 1147.10,324.0 1147.07,323.0 1147.02,321.5 1146.96,320.0 1146.91,318.5 1146.86,317.0 1146.80,315.5 1146.74,314.0 1146.68,312.5 1146.62,311.0 1146.56,309.5 1146.49,308.0 1146.42,306.5 1146.40,306.0 1146.35,305.0 1146.28,303.5 1146.21,302.0 1146.14,300.5 1146.06,299.0 1145.99,297.5 1145.91,296.0 1145.82,294.5 1145.73,293.0 1145.64,291.5 1145.54,290.0 1145.44,288.5 1145.40,288.0 1145.33,287.0 1145.21,285.5 1145.08,284.0 1144.95,282.5 1144.80,281.0 1144.65,279.5 1144.49,278.0 1144.32,276.5 1144.14,275.0 1143.95,273.5 1143.90,273.1 1143.75,272.0 1143.52,270.5 1143.27,269.0 1142.99,267.5 1142.71,266.0 1142.42,264.5 1142.12,263.0 1142.10,262.9 1141.82,261.5 1141.51,260.0 1141.19,258.5 1140.86,257.0 1140.51,255.5 1140.14,254.0 1139.80,252.7 1139.75,252.5 1139.33,251.0 1138.88,249.5 1138.40,248.0 1137.90,246.5 1137.39,245.0 1136.86,243.5 1136.50,242.5 1136.32,242.0 1135.75,240.5 1135.16,239.0 1134.55,237.5 1133.92,236.0 1133.29,234.5 1132.65,233.0 1132.40,232.4 1132.02,231.5 1131.38,230.0 1130.73,228.5 1130.08,227.0 1129.41,225.5 1128.73,224.0 1128.04,222.5 1127.90,222.2 1127.33,221.0 1126.60,219.5 1125.86,218.0 1125.10,216.5 1124.34,215.0 1123.57,213.5 1122.80,212.0 1122.01,210.5 1121.20,209.0 1120.37,207.5 1119.55,206.0 1118.75,204.5 1117.98,203.0 1117.40,201.8 1117.26,201.5 1116.52,200.0 1115.77,198.5 1115.04,197.0 1114.36,195.5 1113.77,194.0 1113.31,192.5 1113.10,191.6 1112.98,191.0 1112.70,189.5 1112.43,188.0 1112.20,186.5 1112.01,185.0 1111.88,183.5 1111.81,182.0 1111.80,181.4 1111.83,180.5 1112.01,179.0 1112.33,177.5 1112.75,176.0 1113.25,174.5 1113.78,173.0 1114.33,171.5 1114.40,171.3 1114.93,170.0 1115.69,168.5 1116.56,167.0 1117.52,165.5 1118.53,164.0 1119.55,162.5 1120.50,161.1 1120.57,161.0 1121.59,159.5 1122.67,158.0 1123.78,156.5 1124.92,155.0 1126.08,153.5 1127.25,152.0 1128.10,150.9 1128.41,150.5 1129.59,149.0 1130.80,147.5 1132.02,146.0 1133.25,144.5 1134.47,143.0 1135.67,141.5 1136.30,140.7 1136.85,140.0 1138.06,138.5 1139.27,137.0 1140.47,135.5 1141.64,134.0 1142.75,132.5 1143.78,131.0 1144.10,130.5 1144.75,129.5 1145.77,128.0 1146.76,126.5 1147.61,125.0 1148.24,123.5 1148.50,122.4 1148.56,122.0 1148.77,120.5 1148.96,119.0 1149.14,117.5 1149.30,116.0 1149.38,114.5 1149.38,113.0 1149.38,111.5 1149.38,110.0 1149.38,108.5 1149.38,107.0 1149.38,105.5 1149.38,104.0 1149.38,102.5 Z"/></clipPath>
<path d="M1149.62,102.5 1149.62,104.0 1149.62,105.5 1149.62,107.0 1149.62,108.5 1149.62,110.0 1149.62,111.5 1149.62,113.0 1149.62,114.5 1149.70,116.0 1149.86,117.5 1150.04,119.0 1150.23,120.5 1150.44,122.0 1150.50,122.4 1150.76,123.5 1151.39,125.0 1152.24,126.5 1153.23,128.0 1154.25,129.5 1154.90,130.5 1155.22,131.0 1156.25,132.5 1157.36,134.0 1158.53,135.5 1159.73,137.0 1160.94,138.5 1162.15,140.0 1162.70,140.7 1163.33,141.5 1164.53,143.0 1165.75,144.5 1166.98,146.0 1168.20,147.5 1169.41,149.0 1170.59,150.5 1170.90,150.9 1171.75,152.0 1172.92,153.5 1174.08,155.0 1175.22,156.5 1176.33,158.0 1177.41,159.5 1178.43,161.0 1178.50,161.1 1179.45,162.5 1180.47,164.0 1181.48,165.5 1182.44,167.0 1183.31,168.5 1184.07,170.0 1184.60,171.3 1184.67,171.5 1185.22,173.0 1185.75,174.5 1186.25,176.0 1186.67,177.5 1186.99,179.0 1187.17,180.5 1187.20,181.4 1187.19,182.0 1187.12,183.5 1186.99,185.0 1186.80,186.5 1186.57,188.0 1186.30,189.5 1186.02,191.0 1185.90,191.6 1185.69,192.5 1185.23,194.0 1184.64,195.5 1183.96,197.0 1183.23,198.5 1182.48,200.0 1181.74,201.5 1181.60,201.8 1181.02,203.0 1180.25,204.5 1179.45,206.0 1178.63,207.5 1177.80,209.0 1176.99,210.5 1176.20,212.0 1175.43,213.5 1174.66,215.0 1173.90,216.5 1173.14,218.0 1172.40,219.5 1171.67,221.0 1171.10,222.2 1170.96,222.5 1170.27,224.0 1169.59,225.5 1168.92,227.0 1168.27,228.5 1167.62,230.0 1166.98,231.5 1166.60,232.4 1166.35,233.0 1165.71,234.5 1165.08,236.0 1164.45,237.5 1163.84,239.0 1163.25,240.5 1162.68,242.0 1162.50,242.5 1162.14,243.5 1161.61,245.0 1161.10,246.5 1160.60,248.0 1160.12,249.5 1159.67,251.0 1159.25,252.5 1159.20,252.7 1158.86,254.0 1158.49,255.5 1158.14,257.0 1157.81,258.5 1157.49,260.0 1157.18,261.5 1156.90,262.9 1156.88,263.0 1156.58,264.5 1156.29,266.0 1156.01,267.5 1155.73,269.0 1155.48,270.5 1155.25,272.0 1155.10,273.1 1155.05,273.5 1154.86,275.0 1154.68,276.5 1154.51,278.0 1154.35,279.5 1154.20,281.0 1154.05,282.5 1153.92,284.0 1153.79,285.5 1153.67,287.0 1153.60,288.0 1153.56,288.5 1153.46,290.0 1153.36,291.5 1153.27,293.0 1153.18,294.5 1153.09,296.0 1153.01,297.5 1152.94,299.0 1152.86,300.5 1152.79,302.0 1152.72,303.5 1152.65,305.0 1152.60,306.0 1152.58,306.5 1152.51,308.0 1152.44,309.5 1152.38,311.0 1152.32,312.5 1152.26,314.0 1152.20,315.5 1152.14,317.0 1152.09,318.5 1152.04,320.0 1151.98,321.5 1151.93,323.0 1151.90,324.0 1151.88,324.5 1151.84,326.0 1151.79,327.5 1151.75,329.0 1151.70,330.5 1151.66,332.0 1151.62,333.5 1151.58,335.0 1151.54,336.5 1151.50,338.0 1151.46,339.5 1151.42,341.0 1151.40,342.0 1151.39,342.5 1151.35,344.0 1151.32,345.5 1151.28,347.0 1151.25,348.5 1151.22,350.0 1151.18,351.5 1151.15,353.0 1151.12,354.5 1151.09,356.0 1151.05,357.5 1151.02,359.0 1151.00,360.0 1150.99,360.5 1150.95,362.0 1150.92,363.5 1150.88,365.0 1150.84,366.5 1150.81,368.0 1150.77,369.5 1150.73,371.0 1150.70,372.5 1150.67,374.0 1150.64,375.5 1150.62,377.0 1150.60,378.0 1150.59,378.5 1150.57,380.0 1150.55,381.5 1150.54,383.0 1150.52,384.5 1150.51,386.0 1150.49,387.5 1150.48,389.0 1150.46,390.5 1150.45,392.0 1150.44,393.5 1150.42,395.0 1150.41,396.5 1150.40,397.0 1150.39,398.0 1150.37,399.5 1150.35,401.0 1150.33,402.5 1150.31,404.0 1150.29,405.5 1150.26,407.0 1150.24,408.5 1150.22,410.0 1150.20,411.5 1150.18,413.0 1150.16,414.5 1150.15,416.0 1150.13,417.5 1150.12,419.0 1150.11,420.5 1150.10,422.0 1150.10,423.5 1150.10,424.0 1150.10,425.0 1150.10,426.5 1150.10,428.0 1150.10,429.5 1150.10,431.0 1150.10,432.5 1150.10,434.0 1150.10,435.5 1150.10,437.0 1150.10,438.5 1150.10,440.0 1150.10,441.5 1150.10,443.0 1150.10,444.5 1150.10,446.0 1150.10,447.5 1150.10,449.0 1150.10,450.0 1150.10,450.5 1150.10,452.0 1150.10,453.5 1150.11,455.0 1150.11,456.5 1150.12,458.0 1150.12,459.5 1150.13,461.0 1150.14,462.5 1150.15,464.0 1150.16,465.5 1150.17,467.0 1150.18,468.5 1150.19,470.0 1150.20,471.5 1150.22,473.0 1150.23,474.5 1150.24,476.0 1150.25,477.5 1150.27,479.0 1150.28,480.5 1150.29,482.0 1150.30,483.5 1150.31,485.0 1150.33,486.5 1150.34,488.0 1150.35,489.5 1150.35,490.0 1150.36,491.0 1150.37,492.5 1150.38,494.0 1150.38,495.5 1150.39,497.0 1150.40,498.5 1150.41,500.0 1150.42,501.5 1150.43,503.0 1150.43,504.5 1150.44,506.0 1150.45,507.5 1150.46,509.0 1150.47,510.5 1150.48,512.0 1150.49,513.5 1150.50,515.0 1150.51,516.5 1150.53,518.0 1150.54,519.5 1150.56,521.0 1150.57,522.5 1150.59,524.0 1150.60,525.0 1150.61,525.5 1150.63,527.0 1150.66,528.5 1150.69,530.0 1150.73,531.5 1150.77,533.0 1150.81,534.5 1150.86,536.0 1150.91,537.5 1150.96,539.0 1151.00,540.0 1151.02,540.5 1151.08,542.0 1151.15,543.5 1151.23,545.0 1151.32,546.5 1151.41,548.0 1151.50,549.5 1151.60,551.0 1151.70,552.5 1151.73,553.0 1151.80,554.0 1151.94,555.5 1152.10,557.0 1152.25,558.5 1152.37,560.0 1152.47,561.5 1152.50,563.0 1152.42,564.5 1152.22,566.0 1151.96,567.5 1151.67,569.0 1151.62,569.2 1151.40,570.5 1151.06,572.0 1150.58,573.5 1149.62,575.0 1149.62,575.5 L1149.38,575.5 1149.38,575.0 1148.42,573.5 1147.94,572.0 1147.60,570.5 1147.38,569.2 1147.33,569.0 1147.04,567.5 1146.78,566.0 1146.58,564.5 1146.50,563.0 1146.53,561.5 1146.63,560.0 1146.75,558.5 1146.90,557.0 1147.06,555.5 1147.20,554.0 1147.27,553.0 1147.30,552.5 1147.40,551.0 1147.50,549.5 1147.59,548.0 1147.68,546.5 1147.77,545.0 1147.85,543.5 1147.92,542.0 1147.98,540.5 1148.00,540.0 1148.04,539.0 1148.09,537.5 1148.14,536.0 1148.19,534.5 1148.23,533.0 1148.27,531.5 1148.31,530.0 1148.34,528.5 1148.37,527.0 1148.39,525.5 1148.40,525.0 1148.41,524.0 1148.43,522.5 1148.44,521.0 1148.46,519.5 1148.47,518.0 1148.49,516.5 1148.50,515.0 1148.51,513.5 1148.52,512.0 1148.53,510.5 1148.54,509.0 1148.55,507.5 1148.56,506.0 1148.57,504.5 1148.57,503.0 1148.58,501.5 1148.59,500.0 1148.60,498.5 1148.61,497.0 1148.62,495.5 1148.62,494.0 1148.63,492.5 1148.64,491.0 1148.65,490.0 1148.65,489.5 1148.66,488.0 1148.67,486.5 1148.69,485.0 1148.70,483.5 1148.71,482.0 1148.72,480.5 1148.73,479.0 1148.75,477.5 1148.76,476.0 1148.77,474.5 1148.78,473.0 1148.80,471.5 1148.81,470.0 1148.82,468.5 1148.83,467.0 1148.84,465.5 1148.85,464.0 1148.86,462.5 1148.87,461.0 1148.88,459.5 1148.88,458.0 1148.89,456.5 1148.89,455.0 1148.90,453.5 1148.90,452.0 1148.90,450.5 1148.90,450.0 1148.90,449.0 1148.90,447.5 1148.90,446.0 1148.90,444.5 1148.90,443.0 1148.90,441.5 1148.90,440.0 1148.90,438.5 1148.90,437.0 1148.90,435.5 1148.90,434.0 1148.90,432.5 1148.90,431.0 1148.90,429.5 1148.90,428.0 1148.90,426.5 1148.90,425.0 1148.90,424.0 1148.90,423.5 1148.90,422.0 1148.89,420.5 1148.88,419.0 1148.87,417.5 1148.85,416.0 1148.84,414.5 1148.82,413.0 1148.80,411.5 1148.78,410.0 1148.76,408.5 1148.74,407.0 1148.71,405.5 1148.69,404.0 1148.67,402.5 1148.65,401.0 1148.63,399.5 1148.61,398.0 1148.60,397.0 1148.59,396.5 1148.58,395.0 1148.56,393.5 1148.55,392.0 1148.54,390.5 1148.52,389.0 1148.51,387.5 1148.49,386.0 1148.48,384.5 1148.46,383.0 1148.45,381.5 1148.43,380.0 1148.41,378.5 1148.40,378.0 1148.38,377.0 1148.36,375.5 1148.33,374.0 1148.30,372.5 1148.27,371.0 1148.23,369.5 1148.19,368.0 1148.16,366.5 1148.12,365.0 1148.08,363.5 1148.05,362.0 1148.01,360.5 1148.00,360.0 1147.98,359.0 1147.95,357.5 1147.91,356.0 1147.88,354.5 1147.85,353.0 1147.82,351.5 1147.78,350.0 1147.75,348.5 1147.72,347.0 1147.68,345.5 1147.65,344.0 1147.61,342.5 1147.60,342.0 1147.58,341.0 1147.54,339.5 1147.50,338.0 1147.46,336.5 1147.42,335.0 1147.38,333.5 1147.34,332.0 1147.30,330.5 1147.25,329.0 1147.21,327.5 1147.16,326.0 1147.12,324.5 1147.10,324.0 1147.07,323.0 1147.02,321.5 1146.96,320.0 1146.91,318.5 1146.86,317.0 1146.80,315.5 1146.74,314.0 1146.68,312.5 1146.62,311.0 1146.56,309.5 1146.49,308.0 1146.42,306.5 1146.40,306.0 1146.35,305.0 1146.28,303.5 1146.21,302.0 1146.14,300.5 1146.06,299.0 1145.99,297.5 1145.91,296.0 1145.82,294.5 1145.73,293.0 1145.64,291.5 1145.54,290.0 1145.44,288.5 1145.40,288.0 1145.33,287.0 1145.21,285.5 1145.08,284.0 1144.95,282.5 1144.80,281.0 1144.65,279.5 1144.49,278.0 1144.32,276.5 1144.14,275.0 1143.95,273.5 1143.90,273.1 1143.75,272.0 1143.52,270.5 1143.27,269.0 1142.99,267.5 1142.71,266.0 1142.42,264.5 1142.12,263.0 1142.10,262.9 1141.82,261.5 1141.51,260.0 1141.19,258.5 1140.86,257.0 1140.51,255.5 1140.14,254.0 1139.80,252.7 1139.75,252.5 1139.33,251.0 1138.88,249.5 1138.40,248.0 1137.90,246.5 1137.39,245.0 1136.86,243.5 1136.50,242.5 1136.32,242.0 1135.75,240.5 1135.16,239.0 1134.55,237.5 1133.92,236.0 1133.29,234.5 1132.65,233.0 1132.40,232.4 1132.02,231.5 1131.38,230.0 1130.73,228.5 1130.08,227.0 1129.41,225.5 1128.73,224.0 1128.04,222.5 1127.90,222.2 1127.33,221.0 1126.60,219.5 1125.86,218.0 1125.10,216.5 1124.34,215.0 1123.57,213.5 1122.80,212.0 1122.01,210.5 1121.20,209.0 1120.37,207.5 1119.55,206.0 1118.75,204.5 1117.98,203.0 1117.40,201.8 1117.26,201.5 1116.52,200.0 1115.77,198.5 1115.04,197.0 1114.36,195.5 1113.77,194.0 1113.31,192.5 1113.10,191.6 1112.98,191.0 1112.70,189.5 1112.43,188.0 1112.20,186.5 1112.01,185.0 1111.88,183.5 1111.81,182.0 1111.80,181.4 1111.83,180.5 1112.01,179.0 1112.33,177.5 1112.75,176.0 1113.25,174.5 1113.78,173.0 1114.33,171.5 1114.40,171.3 1114.93,170.0 1115.69,168.5 1116.56,167.0 1117.52,165.5 1118.53,164.0 1119.55,162.5 1120.50,161.1 1120.57,161.0 1121.59,159.5 1122.67,158.0 1123.78,156.5 1124.92,155.0 1126.08,153.5 1127.25,152.0 1128.10,150.9 1128.41,150.5 1129.59,149.0 1130.80,147.5 1132.02,146.0 1133.25,144.5 1134.47,143.0 1135.67,141.5 1136.30,140.7 1136.85,140.0 1138.06,138.5 1139.27,137.0 1140.47,135.5 1141.64,134.0 1142.75,132.5 1143.78,131.0 1144.10,130.5 1144.75,129.5 1145.77,128.0 1146.76,126.5 1147.61,125.0 1148.24,123.5 1148.50,122.4 1148.56,122.0 1148.77,120.5 1148.96,119.0 1149.14,117.5 1149.30,116.0 1149.38,114.5 1149.38,113.0 1149.38,111.5 1149.38,110.0 1149.38,108.5 1149.38,107.0 1149.38,105.5 1149.38,104.0 1149.38,102.5 Z" fill="#b0c8b3" stroke="#1a1a1a" stroke-width="1.1" stroke-linejoin="round"/>
<rect x="1089.5" y="196.8" width="120" height="4" fill="#2e302c" clip-path="url(#vc3)"/>
<circle cx="1149.5" cy="222.7" r="10.8" fill="#fff"/><circle cx="1149.5" cy="222.7" r="6.5" fill="#000"/>
<clipPath id="vc4"><path d="M1266.42,102.5 1266.42,104.0 1266.42,105.5 1266.42,107.0 1266.42,108.5 1266.42,110.0 1266.42,111.5 1266.42,113.0 1266.42,114.5 1266.42,116.0 1266.57,117.5 1266.73,119.0 1266.91,120.5 1267.10,122.0 1267.30,123.4 1267.32,123.5 1267.75,125.0 1268.49,126.5 1269.43,128.0 1270.44,129.5 1271.10,130.5 1271.43,131.0 1272.50,132.5 1273.68,134.0 1274.93,135.5 1276.24,137.0 1277.57,138.5 1278.89,140.0 1279.50,140.7 1280.20,141.5 1281.53,143.0 1282.89,144.5 1284.26,146.0 1285.64,147.5 1287.01,149.0 1288.35,150.5 1288.70,150.9 1289.67,152.0 1290.99,153.5 1292.32,155.0 1293.62,156.5 1294.90,158.0 1296.14,159.5 1297.32,161.0 1297.40,161.1 1298.50,162.5 1299.73,164.0 1300.93,165.5 1302.07,167.0 1303.09,168.5 1303.94,170.0 1304.50,171.3 1304.57,171.5 1305.10,173.0 1305.60,174.5 1306.05,176.0 1306.43,177.5 1306.71,179.0 1306.87,180.5 1306.90,181.4 1306.89,182.0 1306.74,183.5 1306.47,185.0 1306.09,186.5 1305.65,188.0 1305.17,189.5 1304.69,191.0 1304.50,191.6 1304.20,192.5 1303.63,194.0 1302.98,195.5 1302.28,197.0 1301.54,198.5 1300.79,200.0 1300.05,201.5 1299.90,201.8 1299.31,203.0 1298.55,204.5 1297.78,206.0 1296.99,207.5 1296.19,209.0 1295.39,210.5 1294.60,212.0 1293.81,213.5 1293.01,215.0 1292.21,216.5 1291.41,218.0 1290.61,219.5 1289.82,221.0 1289.20,222.2 1289.05,222.5 1288.28,224.0 1287.51,225.5 1286.75,227.0 1286.00,228.5 1285.26,230.0 1284.53,231.5 1284.10,232.4 1283.81,233.0 1283.08,234.5 1282.35,236.0 1281.63,237.5 1280.93,239.0 1280.28,240.5 1279.68,242.0 1279.50,242.5 1279.15,243.5 1278.64,245.0 1278.16,246.5 1277.71,248.0 1277.29,249.5 1276.90,251.0 1276.54,252.5 1276.50,252.7 1276.22,254.0 1275.93,255.5 1275.66,257.0 1275.40,258.5 1275.15,260.0 1274.92,261.5 1274.70,262.9 1274.68,263.0 1274.46,264.5 1274.24,266.0 1274.03,267.5 1273.83,269.0 1273.70,270.0 1273.63,270.5 1273.43,272.0 1273.23,273.5 1273.03,275.0 1272.84,276.5 1272.64,278.0 1272.45,279.5 1272.27,281.0 1272.09,282.5 1271.91,284.0 1271.75,285.5 1271.60,287.0 1271.50,288.0 1271.45,288.5 1271.32,290.0 1271.18,291.5 1271.05,293.0 1270.93,294.5 1270.81,296.0 1270.69,297.5 1270.58,299.0 1270.47,300.5 1270.37,302.0 1270.27,303.5 1270.17,305.0 1270.10,306.2 1270.08,306.5 1269.99,308.0 1269.91,309.5 1269.83,311.0 1269.75,312.5 1269.67,314.0 1269.60,315.5 1269.53,317.0 1269.45,318.5 1269.39,320.0 1269.32,321.5 1269.25,323.0 1269.20,324.2 1269.19,324.5 1269.12,326.0 1269.06,327.5 1269.00,329.0 1268.93,330.5 1268.87,332.0 1268.81,333.5 1268.76,335.0 1268.70,336.5 1268.65,338.0 1268.59,339.5 1268.54,341.0 1268.50,342.3 1268.49,342.5 1268.45,344.0 1268.40,345.5 1268.36,347.0 1268.32,348.5 1268.28,350.0 1268.24,351.5 1268.20,353.0 1268.16,354.5 1268.12,356.0 1268.08,357.5 1268.04,359.0 1268.00,360.4 1268.00,360.5 1267.95,362.0 1267.91,363.5 1267.87,365.0 1267.82,366.5 1267.78,368.0 1267.73,369.5 1267.69,371.0 1267.65,372.5 1267.61,374.0 1267.57,375.5 1267.53,377.0 1267.50,378.5 1267.47,380.0 1267.44,381.5 1267.41,383.0 1267.39,384.5 1267.36,386.0 1267.33,387.5 1267.31,389.0 1267.29,390.5 1267.26,392.0 1267.24,393.5 1267.22,395.0 1267.20,396.5 1267.20,396.6 1267.18,398.0 1267.16,399.5 1267.14,401.0 1267.11,402.5 1267.09,404.0 1267.07,405.5 1267.05,407.0 1267.03,408.5 1267.01,410.0 1266.99,411.5 1266.97,413.0 1266.95,414.5 1266.94,416.0 1266.93,417.5 1266.91,419.0 1266.91,420.5 1266.90,422.0 1266.90,423.5 1266.90,423.7 1266.90,425.0 1266.90,426.5 1266.90,428.0 1266.90,429.5 1266.90,431.0 1266.90,432.5 1266.90,434.0 1266.90,435.5 1266.90,437.0 1266.90,438.5 1266.90,440.0 1266.90,441.5 1266.90,443.0 1266.90,444.5 1266.90,446.0 1266.90,447.5 1266.90,449.0 1266.90,450.0 1266.90,450.5 1266.90,452.0 1266.90,453.5 1266.91,455.0 1266.91,456.5 1266.92,458.0 1266.92,459.5 1266.93,461.0 1266.94,462.5 1266.95,464.0 1266.96,465.5 1266.97,467.0 1266.98,468.5 1266.99,470.0 1267.00,471.5 1267.02,473.0 1267.03,474.5 1267.04,476.0 1267.05,477.5 1267.07,479.0 1267.08,480.5 1267.09,482.0 1267.10,483.5 1267.11,485.0 1267.13,486.5 1267.14,488.0 1267.15,489.5 1267.15,490.0 1267.16,491.0 1267.17,492.5 1267.18,494.0 1267.18,495.5 1267.19,497.0 1267.20,498.5 1267.21,500.0 1267.22,501.5 1267.23,503.0 1267.23,504.5 1267.24,506.0 1267.25,507.5 1267.26,509.0 1267.27,510.5 1267.28,512.0 1267.29,513.5 1267.30,515.0 1267.31,516.5 1267.33,518.0 1267.34,519.5 1267.36,521.0 1267.37,522.5 1267.39,524.0 1267.40,525.0 1267.41,525.5 1267.43,527.0 1267.46,528.5 1267.49,530.0 1267.52,531.5 1267.56,533.0 1267.61,534.5 1267.66,536.0 1267.71,537.5 1267.76,539.0 1267.80,540.0 1267.82,540.5 1267.90,542.0 1267.99,543.5 1268.09,545.0 1268.20,546.5 1268.31,548.0 1268.42,549.5 1268.45,550.0 1268.53,551.0 1268.67,552.5 1268.82,554.0 1268.96,555.5 1269.08,557.0 1269.17,558.5 1269.20,560.0 1269.15,561.5 1269.01,563.0 1268.82,564.5 1268.60,566.0 1268.38,567.5 1268.35,567.8 1268.19,569.0 1267.99,570.5 1267.72,572.0 1267.33,573.5 1266.42,575.0 1266.42,575.5 L1266.18,575.5 1266.18,575.0 1265.27,573.5 1264.88,572.0 1264.61,570.5 1264.41,569.0 1264.25,567.8 1264.22,567.5 1264.00,566.0 1263.78,564.5 1263.59,563.0 1263.45,561.5 1263.40,560.0 1263.43,558.5 1263.52,557.0 1263.64,555.5 1263.78,554.0 1263.93,552.5 1264.07,551.0 1264.15,550.0 1264.18,549.5 1264.29,548.0 1264.40,546.5 1264.51,545.0 1264.61,543.5 1264.70,542.0 1264.78,540.5 1264.80,540.0 1264.84,539.0 1264.89,537.5 1264.94,536.0 1264.99,534.5 1265.04,533.0 1265.08,531.5 1265.11,530.0 1265.14,528.5 1265.17,527.0 1265.19,525.5 1265.20,525.0 1265.21,524.0 1265.23,522.5 1265.24,521.0 1265.26,519.5 1265.27,518.0 1265.29,516.5 1265.30,515.0 1265.31,513.5 1265.32,512.0 1265.33,510.5 1265.34,509.0 1265.35,507.5 1265.36,506.0 1265.37,504.5 1265.37,503.0 1265.38,501.5 1265.39,500.0 1265.40,498.5 1265.41,497.0 1265.42,495.5 1265.42,494.0 1265.43,492.5 1265.44,491.0 1265.45,490.0 1265.45,489.5 1265.46,488.0 1265.47,486.5 1265.49,485.0 1265.50,483.5 1265.51,482.0 1265.52,480.5 1265.53,479.0 1265.55,477.5 1265.56,476.0 1265.57,474.5 1265.58,473.0 1265.60,471.5 1265.61,470.0 1265.62,468.5 1265.63,467.0 1265.64,465.5 1265.65,464.0 1265.66,462.5 1265.67,461.0 1265.68,459.5 1265.68,458.0 1265.69,456.5 1265.69,455.0 1265.70,453.5 1265.70,452.0 1265.70,450.5 1265.70,450.0 1265.70,449.0 1265.70,447.5 1265.70,446.0 1265.70,444.5 1265.70,443.0 1265.70,441.5 1265.70,440.0 1265.70,438.5 1265.70,437.0 1265.70,435.5 1265.70,434.0 1265.70,432.5 1265.70,431.0 1265.70,429.5 1265.70,428.0 1265.70,426.5 1265.70,425.0 1265.70,423.7 1265.70,423.5 1265.70,422.0 1265.69,420.5 1265.69,419.0 1265.67,417.5 1265.66,416.0 1265.65,414.5 1265.63,413.0 1265.61,411.5 1265.59,410.0 1265.57,408.5 1265.55,407.0 1265.53,405.5 1265.51,404.0 1265.49,402.5 1265.46,401.0 1265.44,399.5 1265.42,398.0 1265.40,396.6 1265.40,396.5 1265.38,395.0 1265.36,393.5 1265.34,392.0 1265.31,390.5 1265.29,389.0 1265.27,387.5 1265.24,386.0 1265.21,384.5 1265.19,383.0 1265.16,381.5 1265.13,380.0 1265.10,378.5 1265.07,377.0 1265.03,375.5 1264.99,374.0 1264.95,372.5 1264.91,371.0 1264.87,369.5 1264.82,368.0 1264.78,366.5 1264.73,365.0 1264.69,363.5 1264.65,362.0 1264.60,360.5 1264.60,360.4 1264.56,359.0 1264.52,357.5 1264.48,356.0 1264.44,354.5 1264.40,353.0 1264.36,351.5 1264.32,350.0 1264.28,348.5 1264.24,347.0 1264.20,345.5 1264.15,344.0 1264.11,342.5 1264.10,342.3 1264.06,341.0 1264.01,339.5 1263.95,338.0 1263.90,336.5 1263.84,335.0 1263.79,333.5 1263.73,332.0 1263.67,330.5 1263.60,329.0 1263.54,327.5 1263.48,326.0 1263.41,324.5 1263.40,324.2 1263.35,323.0 1263.28,321.5 1263.21,320.0 1263.15,318.5 1263.07,317.0 1263.00,315.5 1262.93,314.0 1262.85,312.5 1262.77,311.0 1262.69,309.5 1262.61,308.0 1262.52,306.5 1262.50,306.2 1262.43,305.0 1262.33,303.5 1262.23,302.0 1262.13,300.5 1262.02,299.0 1261.91,297.5 1261.79,296.0 1261.67,294.5 1261.55,293.0 1261.42,291.5 1261.28,290.0 1261.15,288.5 1261.10,288.0 1261.00,287.0 1260.85,285.5 1260.69,284.0 1260.51,282.5 1260.33,281.0 1260.15,279.5 1259.96,278.0 1259.76,276.5 1259.57,275.0 1259.37,273.5 1259.17,272.0 1258.97,270.5 1258.90,270.0 1258.77,269.0 1258.57,267.5 1258.36,266.0 1258.14,264.5 1257.92,263.0 1257.90,262.9 1257.68,261.5 1257.45,260.0 1257.20,258.5 1256.94,257.0 1256.67,255.5 1256.38,254.0 1256.10,252.7 1256.06,252.5 1255.70,251.0 1255.31,249.5 1254.89,248.0 1254.44,246.5 1253.96,245.0 1253.45,243.5 1253.10,242.5 1252.92,242.0 1252.32,240.5 1251.67,239.0 1250.97,237.5 1250.25,236.0 1249.52,234.5 1248.79,233.0 1248.50,232.4 1248.07,231.5 1247.34,230.0 1246.60,228.5 1245.85,227.0 1245.09,225.5 1244.32,224.0 1243.55,222.5 1243.40,222.2 1242.78,221.0 1241.99,219.5 1241.19,218.0 1240.39,216.5 1239.59,215.0 1238.79,213.5 1238.00,212.0 1237.21,210.5 1236.41,209.0 1235.61,207.5 1234.82,206.0 1234.05,204.5 1233.29,203.0 1232.70,201.8 1232.55,201.5 1231.81,200.0 1231.06,198.5 1230.32,197.0 1229.62,195.5 1228.97,194.0 1228.40,192.5 1228.10,191.6 1227.91,191.0 1227.43,189.5 1226.95,188.0 1226.51,186.5 1226.13,185.0 1225.86,183.5 1225.71,182.0 1225.70,181.4 1225.73,180.5 1225.89,179.0 1226.17,177.5 1226.55,176.0 1227.00,174.5 1227.50,173.0 1228.03,171.5 1228.10,171.3 1228.66,170.0 1229.51,168.5 1230.53,167.0 1231.67,165.5 1232.87,164.0 1234.10,162.5 1235.20,161.1 1235.28,161.0 1236.46,159.5 1237.70,158.0 1238.98,156.5 1240.28,155.0 1241.61,153.5 1242.93,152.0 1243.90,150.9 1244.25,150.5 1245.59,149.0 1246.96,147.5 1248.34,146.0 1249.71,144.5 1251.07,143.0 1252.40,141.5 1253.10,140.7 1253.71,140.0 1255.03,138.5 1256.36,137.0 1257.67,135.5 1258.92,134.0 1260.10,132.5 1261.17,131.0 1261.50,130.5 1262.16,129.5 1263.17,128.0 1264.11,126.5 1264.85,125.0 1265.28,123.5 1265.30,123.4 1265.50,122.0 1265.69,120.5 1265.87,119.0 1266.03,117.5 1266.18,116.0 1266.18,114.5 1266.18,113.0 1266.18,111.5 1266.18,110.0 1266.18,108.5 1266.18,107.0 1266.18,105.5 1266.18,104.0 1266.18,102.5 Z"/></clipPath>
<path d="M1266.42,102.5 1266.42,104.0 1266.42,105.5 1266.42,107.0 1266.42,108.5 1266.42,110.0 1266.42,111.5 1266.42,113.0 1266.42,114.5 1266.42,116.0 1266.57,117.5 1266.73,119.0 1266.91,120.5 1267.10,122.0 1267.30,123.4 1267.32,123.5 1267.75,125.0 1268.49,126.5 1269.43,128.0 1270.44,129.5 1271.10,130.5 1271.43,131.0 1272.50,132.5 1273.68,134.0 1274.93,135.5 1276.24,137.0 1277.57,138.5 1278.89,140.0 1279.50,140.7 1280.20,141.5 1281.53,143.0 1282.89,144.5 1284.26,146.0 1285.64,147.5 1287.01,149.0 1288.35,150.5 1288.70,150.9 1289.67,152.0 1290.99,153.5 1292.32,155.0 1293.62,156.5 1294.90,158.0 1296.14,159.5 1297.32,161.0 1297.40,161.1 1298.50,162.5 1299.73,164.0 1300.93,165.5 1302.07,167.0 1303.09,168.5 1303.94,170.0 1304.50,171.3 1304.57,171.5 1305.10,173.0 1305.60,174.5 1306.05,176.0 1306.43,177.5 1306.71,179.0 1306.87,180.5 1306.90,181.4 1306.89,182.0 1306.74,183.5 1306.47,185.0 1306.09,186.5 1305.65,188.0 1305.17,189.5 1304.69,191.0 1304.50,191.6 1304.20,192.5 1303.63,194.0 1302.98,195.5 1302.28,197.0 1301.54,198.5 1300.79,200.0 1300.05,201.5 1299.90,201.8 1299.31,203.0 1298.55,204.5 1297.78,206.0 1296.99,207.5 1296.19,209.0 1295.39,210.5 1294.60,212.0 1293.81,213.5 1293.01,215.0 1292.21,216.5 1291.41,218.0 1290.61,219.5 1289.82,221.0 1289.20,222.2 1289.05,222.5 1288.28,224.0 1287.51,225.5 1286.75,227.0 1286.00,228.5 1285.26,230.0 1284.53,231.5 1284.10,232.4 1283.81,233.0 1283.08,234.5 1282.35,236.0 1281.63,237.5 1280.93,239.0 1280.28,240.5 1279.68,242.0 1279.50,242.5 1279.15,243.5 1278.64,245.0 1278.16,246.5 1277.71,248.0 1277.29,249.5 1276.90,251.0 1276.54,252.5 1276.50,252.7 1276.22,254.0 1275.93,255.5 1275.66,257.0 1275.40,258.5 1275.15,260.0 1274.92,261.5 1274.70,262.9 1274.68,263.0 1274.46,264.5 1274.24,266.0 1274.03,267.5 1273.83,269.0 1273.70,270.0 1273.63,270.5 1273.43,272.0 1273.23,273.5 1273.03,275.0 1272.84,276.5 1272.64,278.0 1272.45,279.5 1272.27,281.0 1272.09,282.5 1271.91,284.0 1271.75,285.5 1271.60,287.0 1271.50,288.0 1271.45,288.5 1271.32,290.0 1271.18,291.5 1271.05,293.0 1270.93,294.5 1270.81,296.0 1270.69,297.5 1270.58,299.0 1270.47,300.5 1270.37,302.0 1270.27,303.5 1270.17,305.0 1270.10,306.2 1270.08,306.5 1269.99,308.0 1269.91,309.5 1269.83,311.0 1269.75,312.5 1269.67,314.0 1269.60,315.5 1269.53,317.0 1269.45,318.5 1269.39,320.0 1269.32,321.5 1269.25,323.0 1269.20,324.2 1269.19,324.5 1269.12,326.0 1269.06,327.5 1269.00,329.0 1268.93,330.5 1268.87,332.0 1268.81,333.5 1268.76,335.0 1268.70,336.5 1268.65,338.0 1268.59,339.5 1268.54,341.0 1268.50,342.3 1268.49,342.5 1268.45,344.0 1268.40,345.5 1268.36,347.0 1268.32,348.5 1268.28,350.0 1268.24,351.5 1268.20,353.0 1268.16,354.5 1268.12,356.0 1268.08,357.5 1268.04,359.0 1268.00,360.4 1268.00,360.5 1267.95,362.0 1267.91,363.5 1267.87,365.0 1267.82,366.5 1267.78,368.0 1267.73,369.5 1267.69,371.0 1267.65,372.5 1267.61,374.0 1267.57,375.5 1267.53,377.0 1267.50,378.5 1267.47,380.0 1267.44,381.5 1267.41,383.0 1267.39,384.5 1267.36,386.0 1267.33,387.5 1267.31,389.0 1267.29,390.5 1267.26,392.0 1267.24,393.5 1267.22,395.0 1267.20,396.5 1267.20,396.6 1267.18,398.0 1267.16,399.5 1267.14,401.0 1267.11,402.5 1267.09,404.0 1267.07,405.5 1267.05,407.0 1267.03,408.5 1267.01,410.0 1266.99,411.5 1266.97,413.0 1266.95,414.5 1266.94,416.0 1266.93,417.5 1266.91,419.0 1266.91,420.5 1266.90,422.0 1266.90,423.5 1266.90,423.7 1266.90,425.0 1266.90,426.5 1266.90,428.0 1266.90,429.5 1266.90,431.0 1266.90,432.5 1266.90,434.0 1266.90,435.5 1266.90,437.0 1266.90,438.5 1266.90,440.0 1266.90,441.5 1266.90,443.0 1266.90,444.5 1266.90,446.0 1266.90,447.5 1266.90,449.0 1266.90,450.0 1266.90,450.5 1266.90,452.0 1266.90,453.5 1266.91,455.0 1266.91,456.5 1266.92,458.0 1266.92,459.5 1266.93,461.0 1266.94,462.5 1266.95,464.0 1266.96,465.5 1266.97,467.0 1266.98,468.5 1266.99,470.0 1267.00,471.5 1267.02,473.0 1267.03,474.5 1267.04,476.0 1267.05,477.5 1267.07,479.0 1267.08,480.5 1267.09,482.0 1267.10,483.5 1267.11,485.0 1267.13,486.5 1267.14,488.0 1267.15,489.5 1267.15,490.0 1267.16,491.0 1267.17,492.5 1267.18,494.0 1267.18,495.5 1267.19,497.0 1267.20,498.5 1267.21,500.0 1267.22,501.5 1267.23,503.0 1267.23,504.5 1267.24,506.0 1267.25,507.5 1267.26,509.0 1267.27,510.5 1267.28,512.0 1267.29,513.5 1267.30,515.0 1267.31,516.5 1267.33,518.0 1267.34,519.5 1267.36,521.0 1267.37,522.5 1267.39,524.0 1267.40,525.0 1267.41,525.5 1267.43,527.0 1267.46,528.5 1267.49,530.0 1267.52,531.5 1267.56,533.0 1267.61,534.5 1267.66,536.0 1267.71,537.5 1267.76,539.0 1267.80,540.0 1267.82,540.5 1267.90,542.0 1267.99,543.5 1268.09,545.0 1268.20,546.5 1268.31,548.0 1268.42,549.5 1268.45,550.0 1268.53,551.0 1268.67,552.5 1268.82,554.0 1268.96,555.5 1269.08,557.0 1269.17,558.5 1269.20,560.0 1269.15,561.5 1269.01,563.0 1268.82,564.5 1268.60,566.0 1268.38,567.5 1268.35,567.8 1268.19,569.0 1267.99,570.5 1267.72,572.0 1267.33,573.5 1266.42,575.0 1266.42,575.5 L1266.18,575.5 1266.18,575.0 1265.27,573.5 1264.88,572.0 1264.61,570.5 1264.41,569.0 1264.25,567.8 1264.22,567.5 1264.00,566.0 1263.78,564.5 1263.59,563.0 1263.45,561.5 1263.40,560.0 1263.43,558.5 1263.52,557.0 1263.64,555.5 1263.78,554.0 1263.93,552.5 1264.07,551.0 1264.15,550.0 1264.18,549.5 1264.29,548.0 1264.40,546.5 1264.51,545.0 1264.61,543.5 1264.70,542.0 1264.78,540.5 1264.80,540.0 1264.84,539.0 1264.89,537.5 1264.94,536.0 1264.99,534.5 1265.04,533.0 1265.08,531.5 1265.11,530.0 1265.14,528.5 1265.17,527.0 1265.19,525.5 1265.20,525.0 1265.21,524.0 1265.23,522.5 1265.24,521.0 1265.26,519.5 1265.27,518.0 1265.29,516.5 1265.30,515.0 1265.31,513.5 1265.32,512.0 1265.33,510.5 1265.34,509.0 1265.35,507.5 1265.36,506.0 1265.37,504.5 1265.37,503.0 1265.38,501.5 1265.39,500.0 1265.40,498.5 1265.41,497.0 1265.42,495.5 1265.42,494.0 1265.43,492.5 1265.44,491.0 1265.45,490.0 1265.45,489.5 1265.46,488.0 1265.47,486.5 1265.49,485.0 1265.50,483.5 1265.51,482.0 1265.52,480.5 1265.53,479.0 1265.55,477.5 1265.56,476.0 1265.57,474.5 1265.58,473.0 1265.60,471.5 1265.61,470.0 1265.62,468.5 1265.63,467.0 1265.64,465.5 1265.65,464.0 1265.66,462.5 1265.67,461.0 1265.68,459.5 1265.68,458.0 1265.69,456.5 1265.69,455.0 1265.70,453.5 1265.70,452.0 1265.70,450.5 1265.70,450.0 1265.70,449.0 1265.70,447.5 1265.70,446.0 1265.70,444.5 1265.70,443.0 1265.70,441.5 1265.70,440.0 1265.70,438.5 1265.70,437.0 1265.70,435.5 1265.70,434.0 1265.70,432.5 1265.70,431.0 1265.70,429.5 1265.70,428.0 1265.70,426.5 1265.70,425.0 1265.70,423.7 1265.70,423.5 1265.70,422.0 1265.69,420.5 1265.69,419.0 1265.67,417.5 1265.66,416.0 1265.65,414.5 1265.63,413.0 1265.61,411.5 1265.59,410.0 1265.57,408.5 1265.55,407.0 1265.53,405.5 1265.51,404.0 1265.49,402.5 1265.46,401.0 1265.44,399.5 1265.42,398.0 1265.40,396.6 1265.40,396.5 1265.38,395.0 1265.36,393.5 1265.34,392.0 1265.31,390.5 1265.29,389.0 1265.27,387.5 1265.24,386.0 1265.21,384.5 1265.19,383.0 1265.16,381.5 1265.13,380.0 1265.10,378.5 1265.07,377.0 1265.03,375.5 1264.99,374.0 1264.95,372.5 1264.91,371.0 1264.87,369.5 1264.82,368.0 1264.78,366.5 1264.73,365.0 1264.69,363.5 1264.65,362.0 1264.60,360.5 1264.60,360.4 1264.56,359.0 1264.52,357.5 1264.48,356.0 1264.44,354.5 1264.40,353.0 1264.36,351.5 1264.32,350.0 1264.28,348.5 1264.24,347.0 1264.20,345.5 1264.15,344.0 1264.11,342.5 1264.10,342.3 1264.06,341.0 1264.01,339.5 1263.95,338.0 1263.90,336.5 1263.84,335.0 1263.79,333.5 1263.73,332.0 1263.67,330.5 1263.60,329.0 1263.54,327.5 1263.48,326.0 1263.41,324.5 1263.40,324.2 1263.35,323.0 1263.28,321.5 1263.21,320.0 1263.15,318.5 1263.07,317.0 1263.00,315.5 1262.93,314.0 1262.85,312.5 1262.77,311.0 1262.69,309.5 1262.61,308.0 1262.52,306.5 1262.50,306.2 1262.43,305.0 1262.33,303.5 1262.23,302.0 1262.13,300.5 1262.02,299.0 1261.91,297.5 1261.79,296.0 1261.67,294.5 1261.55,293.0 1261.42,291.5 1261.28,290.0 1261.15,288.5 1261.10,288.0 1261.00,287.0 1260.85,285.5 1260.69,284.0 1260.51,282.5 1260.33,281.0 1260.15,279.5 1259.96,278.0 1259.76,276.5 1259.57,275.0 1259.37,273.5 1259.17,272.0 1258.97,270.5 1258.90,270.0 1258.77,269.0 1258.57,267.5 1258.36,266.0 1258.14,264.5 1257.92,263.0 1257.90,262.9 1257.68,261.5 1257.45,260.0 1257.20,258.5 1256.94,257.0 1256.67,255.5 1256.38,254.0 1256.10,252.7 1256.06,252.5 1255.70,251.0 1255.31,249.5 1254.89,248.0 1254.44,246.5 1253.96,245.0 1253.45,243.5 1253.10,242.5 1252.92,242.0 1252.32,240.5 1251.67,239.0 1250.97,237.5 1250.25,236.0 1249.52,234.5 1248.79,233.0 1248.50,232.4 1248.07,231.5 1247.34,230.0 1246.60,228.5 1245.85,227.0 1245.09,225.5 1244.32,224.0 1243.55,222.5 1243.40,222.2 1242.78,221.0 1241.99,219.5 1241.19,218.0 1240.39,216.5 1239.59,215.0 1238.79,213.5 1238.00,212.0 1237.21,210.5 1236.41,209.0 1235.61,207.5 1234.82,206.0 1234.05,204.5 1233.29,203.0 1232.70,201.8 1232.55,201.5 1231.81,200.0 1231.06,198.5 1230.32,197.0 1229.62,195.5 1228.97,194.0 1228.40,192.5 1228.10,191.6 1227.91,191.0 1227.43,189.5 1226.95,188.0 1226.51,186.5 1226.13,185.0 1225.86,183.5 1225.71,182.0 1225.70,181.4 1225.73,180.5 1225.89,179.0 1226.17,177.5 1226.55,176.0 1227.00,174.5 1227.50,173.0 1228.03,171.5 1228.10,171.3 1228.66,170.0 1229.51,168.5 1230.53,167.0 1231.67,165.5 1232.87,164.0 1234.10,162.5 1235.20,161.1 1235.28,161.0 1236.46,159.5 1237.70,158.0 1238.98,156.5 1240.28,155.0 1241.61,153.5 1242.93,152.0 1243.90,150.9 1244.25,150.5 1245.59,149.0 1246.96,147.5 1248.34,146.0 1249.71,144.5 1251.07,143.0 1252.40,141.5 1253.10,140.7 1253.71,140.0 1255.03,138.5 1256.36,137.0 1257.67,135.5 1258.92,134.0 1260.10,132.5 1261.17,131.0 1261.50,130.5 1262.16,129.5 1263.17,128.0 1264.11,126.5 1264.85,125.0 1265.28,123.5 1265.30,123.4 1265.50,122.0 1265.69,120.5 1265.87,119.0 1266.03,117.5 1266.18,116.0 1266.18,114.5 1266.18,113.0 1266.18,111.5 1266.18,110.0 1266.18,108.5 1266.18,107.0 1266.18,105.5 1266.18,104.0 1266.18,102.5 Z" fill="#659465" stroke="#1a1a1a" stroke-width="1.1" stroke-linejoin="round"/>
<rect x="1206.3" y="195.7" width="120" height="4" fill="#2e302c" clip-path="url(#vc4)"/>
<circle cx="1266.3" cy="221.7" r="10.8" fill="#fff"/><circle cx="1266.3" cy="221.7" r="6.5" fill="#000"/>
<clipPath id="vc5"><path d="M1362.42,102.5 1362.42,104.0 1362.42,105.5 1362.42,107.0 1362.42,108.5 1362.42,110.0 1362.42,111.5 1362.42,113.0 1362.42,114.5 1362.42,116.0 1362.42,117.5 1362.45,119.0 1362.59,120.5 1362.74,122.0 1362.91,123.5 1363.10,125.0 1363.30,126.5 1363.96,128.0 1365.12,129.5 1365.90,130.5 1366.26,131.0 1367.36,132.5 1368.50,134.0 1369.69,135.5 1370.91,137.0 1372.15,138.5 1373.41,140.0 1374.00,140.7 1374.68,141.5 1376.00,143.0 1377.35,144.5 1378.72,146.0 1380.10,147.5 1381.48,149.0 1382.84,150.5 1383.20,150.9 1384.19,152.0 1385.55,153.5 1386.91,155.0 1388.27,156.5 1389.61,158.0 1390.93,159.5 1392.22,161.0 1392.30,161.1 1393.51,162.5 1394.84,164.0 1396.16,165.5 1397.44,167.0 1398.64,168.5 1399.71,170.0 1400.50,171.3 1400.61,171.5 1401.48,173.0 1402.35,174.5 1403.17,176.0 1403.89,177.5 1404.43,179.0 1404.74,180.5 1404.80,181.4 1404.79,182.0 1404.73,183.5 1404.59,185.0 1404.40,186.5 1404.17,188.0 1403.90,189.5 1403.62,191.0 1403.50,191.6 1403.29,192.5 1402.81,194.0 1402.20,195.5 1401.50,197.0 1400.73,198.5 1399.94,200.0 1399.15,201.5 1399.00,201.8 1398.37,203.0 1397.53,204.5 1396.65,206.0 1395.73,207.5 1394.79,209.0 1393.84,210.5 1392.90,212.0 1391.94,213.5 1390.96,215.0 1389.95,216.5 1388.95,218.0 1387.94,219.5 1386.96,221.0 1386.20,222.2 1386.01,222.5 1385.08,224.0 1384.15,225.5 1383.23,227.0 1382.33,228.5 1381.45,230.0 1380.60,231.5 1380.10,232.4 1379.77,233.0 1378.96,234.5 1378.16,236.0 1377.37,237.5 1376.62,239.0 1375.90,240.5 1375.22,242.0 1375.00,242.5 1374.57,243.5 1373.95,245.0 1373.34,246.5 1372.76,248.0 1372.22,249.5 1371.71,251.0 1371.26,252.5 1371.20,252.7 1370.85,254.0 1370.46,255.5 1370.10,257.0 1369.76,258.5 1369.45,260.0 1369.16,261.5 1368.90,262.9 1368.88,263.0 1368.62,264.5 1368.37,266.0 1368.14,267.5 1367.92,269.0 1367.72,270.5 1367.53,272.0 1367.40,273.1 1367.36,273.5 1367.19,275.0 1367.04,276.5 1366.89,278.0 1366.76,279.5 1366.62,281.0 1366.50,282.5 1366.38,284.0 1366.27,285.5 1366.17,287.0 1366.10,288.0 1366.07,288.5 1365.98,290.0 1365.89,291.5 1365.80,293.0 1365.72,294.5 1365.65,296.0 1365.57,297.5 1365.50,299.0 1365.43,300.5 1365.37,302.0 1365.30,303.5 1365.24,305.0 1365.20,306.0 1365.18,306.5 1365.12,308.0 1365.07,309.5 1365.01,311.0 1364.96,312.5 1364.91,314.0 1364.86,315.5 1364.81,317.0 1364.77,318.5 1364.72,320.0 1364.68,321.5 1364.63,323.0 1364.60,324.0 1364.58,324.5 1364.54,326.0 1364.50,327.5 1364.45,329.0 1364.41,330.5 1364.37,332.0 1364.32,333.5 1364.28,335.0 1364.24,336.5 1364.20,338.0 1364.16,339.5 1364.12,341.0 1364.10,342.0 1364.09,342.5 1364.05,344.0 1364.01,345.5 1363.98,347.0 1363.94,348.5 1363.91,350.0 1363.88,351.5 1363.84,353.0 1363.81,354.5 1363.78,356.0 1363.75,357.5 1363.72,359.0 1363.70,360.0 1363.69,360.5 1363.66,362.0 1363.64,363.5 1363.61,365.0 1363.58,366.5 1363.56,368.0 1363.54,369.5 1363.51,371.0 1363.49,372.5 1363.46,374.0 1363.44,375.5 1363.42,377.0 1363.40,378.0 1363.39,378.5 1363.37,380.0 1363.34,381.5 1363.31,383.0 1363.29,384.5 1363.26,386.0 1363.24,387.5 1363.21,389.0 1363.19,390.5 1363.16,392.0 1363.14,393.5 1363.12,395.0 1363.11,396.5 1363.10,397.0 1363.09,398.0 1363.07,399.5 1363.06,401.0 1363.04,402.5 1363.03,404.0 1363.01,405.5 1363.00,407.0 1362.98,408.5 1362.97,410.0 1362.96,411.5 1362.95,413.0 1362.93,414.5 1362.93,416.0 1362.92,417.5 1362.91,419.0 1362.91,420.5 1362.90,422.0 1362.90,423.5 1362.90,424.0 1362.90,425.0 1362.90,426.5 1362.90,428.0 1362.90,429.5 1362.90,431.0 1362.90,432.5 1362.90,434.0 1362.90,435.5 1362.90,437.0 1362.90,438.5 1362.90,440.0 1362.90,441.5 1362.90,443.0 1362.90,444.5 1362.90,446.0 1362.90,447.5 1362.90,449.0 1362.90,450.0 1362.90,450.5 1362.90,452.0 1362.90,453.5 1362.91,455.0 1362.91,456.5 1362.92,458.0 1362.92,459.5 1362.93,461.0 1362.94,462.5 1362.95,464.0 1362.96,465.5 1362.97,467.0 1362.98,468.5 1362.99,470.0 1363.00,471.5 1363.02,473.0 1363.03,474.5 1363.04,476.0 1363.05,477.5 1363.07,479.0 1363.08,480.5 1363.09,482.0 1363.10,483.5 1363.11,485.0 1363.13,486.5 1363.14,488.0 1363.15,489.5 1363.15,490.0 1363.16,491.0 1363.17,492.5 1363.18,494.0 1363.18,495.5 1363.19,497.0 1363.20,498.5 1363.21,500.0 1363.22,501.5 1363.23,503.0 1363.23,504.5 1363.24,506.0 1363.25,507.5 1363.26,509.0 1363.27,510.5 1363.28,512.0 1363.29,513.5 1363.30,515.0 1363.31,516.5 1363.33,518.0 1363.34,519.5 1363.36,521.0 1363.37,522.5 1363.39,524.0 1363.40,525.0 1363.41,525.5 1363.43,527.0 1363.46,528.5 1363.49,530.0 1363.52,531.5 1363.56,533.0 1363.61,534.5 1363.65,536.0 1363.71,537.5 1363.76,539.0 1363.80,540.0 1363.82,540.5 1363.90,542.0 1363.99,543.5 1364.10,545.0 1364.22,546.5 1364.34,548.0 1364.47,549.5 1364.60,551.0 1364.72,552.5 1364.76,553.0 1364.85,554.0 1365.01,555.5 1365.17,557.0 1365.33,558.5 1365.47,560.0 1365.56,561.5 1365.60,563.0 1365.52,564.5 1365.30,566.0 1365.01,567.5 1364.70,569.0 1364.65,569.2 1364.40,570.5 1364.04,572.0 1363.51,573.5 1362.42,575.0 1362.42,575.5 L1362.18,575.5 1362.18,575.0 1361.09,573.5 1360.56,572.0 1360.20,570.5 1359.95,569.2 1359.90,569.0 1359.59,567.5 1359.30,566.0 1359.08,564.5 1359.00,563.0 1359.04,561.5 1359.13,560.0 1359.27,558.5 1359.43,557.0 1359.59,555.5 1359.75,554.0 1359.84,553.0 1359.88,552.5 1360.00,551.0 1360.13,549.5 1360.26,548.0 1360.38,546.5 1360.50,545.0 1360.61,543.5 1360.70,542.0 1360.78,540.5 1360.80,540.0 1360.84,539.0 1360.89,537.5 1360.95,536.0 1360.99,534.5 1361.04,533.0 1361.08,531.5 1361.11,530.0 1361.14,528.5 1361.17,527.0 1361.19,525.5 1361.20,525.0 1361.21,524.0 1361.23,522.5 1361.24,521.0 1361.26,519.5 1361.27,518.0 1361.29,516.5 1361.30,515.0 1361.31,513.5 1361.32,512.0 1361.33,510.5 1361.34,509.0 1361.35,507.5 1361.36,506.0 1361.37,504.5 1361.37,503.0 1361.38,501.5 1361.39,500.0 1361.40,498.5 1361.41,497.0 1361.42,495.5 1361.42,494.0 1361.43,492.5 1361.44,491.0 1361.45,490.0 1361.45,489.5 1361.46,488.0 1361.47,486.5 1361.49,485.0 1361.50,483.5 1361.51,482.0 1361.52,480.5 1361.53,479.0 1361.55,477.5 1361.56,476.0 1361.57,474.5 1361.58,473.0 1361.60,471.5 1361.61,470.0 1361.62,468.5 1361.63,467.0 1361.64,465.5 1361.65,464.0 1361.66,462.5 1361.67,461.0 1361.68,459.5 1361.68,458.0 1361.69,456.5 1361.69,455.0 1361.70,453.5 1361.70,452.0 1361.70,450.5 1361.70,450.0 1361.70,449.0 1361.70,447.5 1361.70,446.0 1361.70,444.5 1361.70,443.0 1361.70,441.5 1361.70,440.0 1361.70,438.5 1361.70,437.0 1361.70,435.5 1361.70,434.0 1361.70,432.5 1361.70,431.0 1361.70,429.5 1361.70,428.0 1361.70,426.5 1361.70,425.0 1361.70,424.0 1361.70,423.5 1361.70,422.0 1361.69,420.5 1361.69,419.0 1361.68,417.5 1361.67,416.0 1361.67,414.5 1361.65,413.0 1361.64,411.5 1361.63,410.0 1361.62,408.5 1361.60,407.0 1361.59,405.5 1361.57,404.0 1361.56,402.5 1361.54,401.0 1361.53,399.5 1361.51,398.0 1361.50,397.0 1361.49,396.5 1361.48,395.0 1361.46,393.5 1361.44,392.0 1361.41,390.5 1361.39,389.0 1361.36,387.5 1361.34,386.0 1361.31,384.5 1361.29,383.0 1361.26,381.5 1361.23,380.0 1361.21,378.5 1361.20,378.0 1361.18,377.0 1361.16,375.5 1361.14,374.0 1361.11,372.5 1361.09,371.0 1361.06,369.5 1361.04,368.0 1361.02,366.5 1360.99,365.0 1360.96,363.5 1360.94,362.0 1360.91,360.5 1360.90,360.0 1360.88,359.0 1360.85,357.5 1360.82,356.0 1360.79,354.5 1360.76,353.0 1360.72,351.5 1360.69,350.0 1360.66,348.5 1360.62,347.0 1360.59,345.5 1360.55,344.0 1360.51,342.5 1360.50,342.0 1360.48,341.0 1360.44,339.5 1360.40,338.0 1360.36,336.5 1360.32,335.0 1360.28,333.5 1360.23,332.0 1360.19,330.5 1360.15,329.0 1360.10,327.5 1360.06,326.0 1360.02,324.5 1360.00,324.0 1359.97,323.0 1359.92,321.5 1359.88,320.0 1359.83,318.5 1359.79,317.0 1359.74,315.5 1359.69,314.0 1359.64,312.5 1359.59,311.0 1359.53,309.5 1359.48,308.0 1359.42,306.5 1359.40,306.0 1359.36,305.0 1359.30,303.5 1359.23,302.0 1359.17,300.5 1359.10,299.0 1359.03,297.5 1358.95,296.0 1358.88,294.5 1358.80,293.0 1358.71,291.5 1358.62,290.0 1358.53,288.5 1358.50,288.0 1358.43,287.0 1358.33,285.5 1358.22,284.0 1358.10,282.5 1357.98,281.0 1357.84,279.5 1357.71,278.0 1357.56,276.5 1357.41,275.0 1357.24,273.5 1357.20,273.1 1357.07,272.0 1356.88,270.5 1356.68,269.0 1356.46,267.5 1356.23,266.0 1355.98,264.5 1355.72,263.0 1355.70,262.9 1355.44,261.5 1355.15,260.0 1354.84,258.5 1354.50,257.0 1354.14,255.5 1353.75,254.0 1353.40,252.7 1353.34,252.5 1352.89,251.0 1352.38,249.5 1351.84,248.0 1351.26,246.5 1350.65,245.0 1350.03,243.5 1349.60,242.5 1349.38,242.0 1348.70,240.5 1347.98,239.0 1347.23,237.5 1346.44,236.0 1345.64,234.5 1344.83,233.0 1344.50,232.4 1344.00,231.5 1343.15,230.0 1342.27,228.5 1341.37,227.0 1340.45,225.5 1339.52,224.0 1338.59,222.5 1338.40,222.2 1337.64,221.0 1336.66,219.5 1335.65,218.0 1334.65,216.5 1333.64,215.0 1332.66,213.5 1331.70,212.0 1330.76,210.5 1329.81,209.0 1328.87,207.5 1327.95,206.0 1327.07,204.5 1326.23,203.0 1325.60,201.8 1325.45,201.5 1324.66,200.0 1323.87,198.5 1323.10,197.0 1322.40,195.5 1321.79,194.0 1321.31,192.5 1321.10,191.6 1320.98,191.0 1320.70,189.5 1320.43,188.0 1320.20,186.5 1320.01,185.0 1319.87,183.5 1319.81,182.0 1319.80,181.4 1319.86,180.5 1320.17,179.0 1320.71,177.5 1321.43,176.0 1322.25,174.5 1323.12,173.0 1323.99,171.5 1324.10,171.3 1324.89,170.0 1325.96,168.5 1327.16,167.0 1328.44,165.5 1329.76,164.0 1331.09,162.5 1332.30,161.1 1332.38,161.0 1333.67,159.5 1334.99,158.0 1336.33,156.5 1337.69,155.0 1339.05,153.5 1340.41,152.0 1341.40,150.9 1341.76,150.5 1343.12,149.0 1344.50,147.5 1345.88,146.0 1347.25,144.5 1348.60,143.0 1349.92,141.5 1350.60,140.7 1351.19,140.0 1352.45,138.5 1353.69,137.0 1354.91,135.5 1356.10,134.0 1357.24,132.5 1358.34,131.0 1358.70,130.5 1359.48,129.5 1360.64,128.0 1361.30,126.5 1361.50,125.0 1361.69,123.5 1361.86,122.0 1362.01,120.5 1362.15,119.0 1362.18,117.5 1362.18,116.0 1362.18,114.5 1362.18,113.0 1362.18,111.5 1362.18,110.0 1362.18,108.5 1362.18,107.0 1362.18,105.5 1362.18,104.0 1362.18,102.5 Z"/></clipPath>
<path d="M1362.42,102.5 1362.42,104.0 1362.42,105.5 1362.42,107.0 1362.42,108.5 1362.42,110.0 1362.42,111.5 1362.42,113.0 1362.42,114.5 1362.42,116.0 1362.42,117.5 1362.45,119.0 1362.59,120.5 1362.74,122.0 1362.91,123.5 1363.10,125.0 1363.30,126.5 1363.96,128.0 1365.12,129.5 1365.90,130.5 1366.26,131.0 1367.36,132.5 1368.50,134.0 1369.69,135.5 1370.91,137.0 1372.15,138.5 1373.41,140.0 1374.00,140.7 1374.68,141.5 1376.00,143.0 1377.35,144.5 1378.72,146.0 1380.10,147.5 1381.48,149.0 1382.84,150.5 1383.20,150.9 1384.19,152.0 1385.55,153.5 1386.91,155.0 1388.27,156.5 1389.61,158.0 1390.93,159.5 1392.22,161.0 1392.30,161.1 1393.51,162.5 1394.84,164.0 1396.16,165.5 1397.44,167.0 1398.64,168.5 1399.71,170.0 1400.50,171.3 1400.61,171.5 1401.48,173.0 1402.35,174.5 1403.17,176.0 1403.89,177.5 1404.43,179.0 1404.74,180.5 1404.80,181.4 1404.79,182.0 1404.73,183.5 1404.59,185.0 1404.40,186.5 1404.17,188.0 1403.90,189.5 1403.62,191.0 1403.50,191.6 1403.29,192.5 1402.81,194.0 1402.20,195.5 1401.50,197.0 1400.73,198.5 1399.94,200.0 1399.15,201.5 1399.00,201.8 1398.37,203.0 1397.53,204.5 1396.65,206.0 1395.73,207.5 1394.79,209.0 1393.84,210.5 1392.90,212.0 1391.94,213.5 1390.96,215.0 1389.95,216.5 1388.95,218.0 1387.94,219.5 1386.96,221.0 1386.20,222.2 1386.01,222.5 1385.08,224.0 1384.15,225.5 1383.23,227.0 1382.33,228.5 1381.45,230.0 1380.60,231.5 1380.10,232.4 1379.77,233.0 1378.96,234.5 1378.16,236.0 1377.37,237.5 1376.62,239.0 1375.90,240.5 1375.22,242.0 1375.00,242.5 1374.57,243.5 1373.95,245.0 1373.34,246.5 1372.76,248.0 1372.22,249.5 1371.71,251.0 1371.26,252.5 1371.20,252.7 1370.85,254.0 1370.46,255.5 1370.10,257.0 1369.76,258.5 1369.45,260.0 1369.16,261.5 1368.90,262.9 1368.88,263.0 1368.62,264.5 1368.37,266.0 1368.14,267.5 1367.92,269.0 1367.72,270.5 1367.53,272.0 1367.40,273.1 1367.36,273.5 1367.19,275.0 1367.04,276.5 1366.89,278.0 1366.76,279.5 1366.62,281.0 1366.50,282.5 1366.38,284.0 1366.27,285.5 1366.17,287.0 1366.10,288.0 1366.07,288.5 1365.98,290.0 1365.89,291.5 1365.80,293.0 1365.72,294.5 1365.65,296.0 1365.57,297.5 1365.50,299.0 1365.43,300.5 1365.37,302.0 1365.30,303.5 1365.24,305.0 1365.20,306.0 1365.18,306.5 1365.12,308.0 1365.07,309.5 1365.01,311.0 1364.96,312.5 1364.91,314.0 1364.86,315.5 1364.81,317.0 1364.77,318.5 1364.72,320.0 1364.68,321.5 1364.63,323.0 1364.60,324.0 1364.58,324.5 1364.54,326.0 1364.50,327.5 1364.45,329.0 1364.41,330.5 1364.37,332.0 1364.32,333.5 1364.28,335.0 1364.24,336.5 1364.20,338.0 1364.16,339.5 1364.12,341.0 1364.10,342.0 1364.09,342.5 1364.05,344.0 1364.01,345.5 1363.98,347.0 1363.94,348.5 1363.91,350.0 1363.88,351.5 1363.84,353.0 1363.81,354.5 1363.78,356.0 1363.75,357.5 1363.72,359.0 1363.70,360.0 1363.69,360.5 1363.66,362.0 1363.64,363.5 1363.61,365.0 1363.58,366.5 1363.56,368.0 1363.54,369.5 1363.51,371.0 1363.49,372.5 1363.46,374.0 1363.44,375.5 1363.42,377.0 1363.40,378.0 1363.39,378.5 1363.37,380.0 1363.34,381.5 1363.31,383.0 1363.29,384.5 1363.26,386.0 1363.24,387.5 1363.21,389.0 1363.19,390.5 1363.16,392.0 1363.14,393.5 1363.12,395.0 1363.11,396.5 1363.10,397.0 1363.09,398.0 1363.07,399.5 1363.06,401.0 1363.04,402.5 1363.03,404.0 1363.01,405.5 1363.00,407.0 1362.98,408.5 1362.97,410.0 1362.96,411.5 1362.95,413.0 1362.93,414.5 1362.93,416.0 1362.92,417.5 1362.91,419.0 1362.91,420.5 1362.90,422.0 1362.90,423.5 1362.90,424.0 1362.90,425.0 1362.90,426.5 1362.90,428.0 1362.90,429.5 1362.90,431.0 1362.90,432.5 1362.90,434.0 1362.90,435.5 1362.90,437.0 1362.90,438.5 1362.90,440.0 1362.90,441.5 1362.90,443.0 1362.90,444.5 1362.90,446.0 1362.90,447.5 1362.90,449.0 1362.90,450.0 1362.90,450.5 1362.90,452.0 1362.90,453.5 1362.91,455.0 1362.91,456.5 1362.92,458.0 1362.92,459.5 1362.93,461.0 1362.94,462.5 1362.95,464.0 1362.96,465.5 1362.97,467.0 1362.98,468.5 1362.99,470.0 1363.00,471.5 1363.02,473.0 1363.03,474.5 1363.04,476.0 1363.05,477.5 1363.07,479.0 1363.08,480.5 1363.09,482.0 1363.10,483.5 1363.11,485.0 1363.13,486.5 1363.14,488.0 1363.15,489.5 1363.15,490.0 1363.16,491.0 1363.17,492.5 1363.18,494.0 1363.18,495.5 1363.19,497.0 1363.20,498.5 1363.21,500.0 1363.22,501.5 1363.23,503.0 1363.23,504.5 1363.24,506.0 1363.25,507.5 1363.26,509.0 1363.27,510.5 1363.28,512.0 1363.29,513.5 1363.30,515.0 1363.31,516.5 1363.33,518.0 1363.34,519.5 1363.36,521.0 1363.37,522.5 1363.39,524.0 1363.40,525.0 1363.41,525.5 1363.43,527.0 1363.46,528.5 1363.49,530.0 1363.52,531.5 1363.56,533.0 1363.61,534.5 1363.65,536.0 1363.71,537.5 1363.76,539.0 1363.80,540.0 1363.82,540.5 1363.90,542.0 1363.99,543.5 1364.10,545.0 1364.22,546.5 1364.34,548.0 1364.47,549.5 1364.60,551.0 1364.72,552.5 1364.76,553.0 1364.85,554.0 1365.01,555.5 1365.17,557.0 1365.33,558.5 1365.47,560.0 1365.56,561.5 1365.60,563.0 1365.52,564.5 1365.30,566.0 1365.01,567.5 1364.70,569.0 1364.65,569.2 1364.40,570.5 1364.04,572.0 1363.51,573.5 1362.42,575.0 1362.42,575.5 L1362.18,575.5 1362.18,575.0 1361.09,573.5 1360.56,572.0 1360.20,570.5 1359.95,569.2 1359.90,569.0 1359.59,567.5 1359.30,566.0 1359.08,564.5 1359.00,563.0 1359.04,561.5 1359.13,560.0 1359.27,558.5 1359.43,557.0 1359.59,555.5 1359.75,554.0 1359.84,553.0 1359.88,552.5 1360.00,551.0 1360.13,549.5 1360.26,548.0 1360.38,546.5 1360.50,545.0 1360.61,543.5 1360.70,542.0 1360.78,540.5 1360.80,540.0 1360.84,539.0 1360.89,537.5 1360.95,536.0 1360.99,534.5 1361.04,533.0 1361.08,531.5 1361.11,530.0 1361.14,528.5 1361.17,527.0 1361.19,525.5 1361.20,525.0 1361.21,524.0 1361.23,522.5 1361.24,521.0 1361.26,519.5 1361.27,518.0 1361.29,516.5 1361.30,515.0 1361.31,513.5 1361.32,512.0 1361.33,510.5 1361.34,509.0 1361.35,507.5 1361.36,506.0 1361.37,504.5 1361.37,503.0 1361.38,501.5 1361.39,500.0 1361.40,498.5 1361.41,497.0 1361.42,495.5 1361.42,494.0 1361.43,492.5 1361.44,491.0 1361.45,490.0 1361.45,489.5 1361.46,488.0 1361.47,486.5 1361.49,485.0 1361.50,483.5 1361.51,482.0 1361.52,480.5 1361.53,479.0 1361.55,477.5 1361.56,476.0 1361.57,474.5 1361.58,473.0 1361.60,471.5 1361.61,470.0 1361.62,468.5 1361.63,467.0 1361.64,465.5 1361.65,464.0 1361.66,462.5 1361.67,461.0 1361.68,459.5 1361.68,458.0 1361.69,456.5 1361.69,455.0 1361.70,453.5 1361.70,452.0 1361.70,450.5 1361.70,450.0 1361.70,449.0 1361.70,447.5 1361.70,446.0 1361.70,444.5 1361.70,443.0 1361.70,441.5 1361.70,440.0 1361.70,438.5 1361.70,437.0 1361.70,435.5 1361.70,434.0 1361.70,432.5 1361.70,431.0 1361.70,429.5 1361.70,428.0 1361.70,426.5 1361.70,425.0 1361.70,424.0 1361.70,423.5 1361.70,422.0 1361.69,420.5 1361.69,419.0 1361.68,417.5 1361.67,416.0 1361.67,414.5 1361.65,413.0 1361.64,411.5 1361.63,410.0 1361.62,408.5 1361.60,407.0 1361.59,405.5 1361.57,404.0 1361.56,402.5 1361.54,401.0 1361.53,399.5 1361.51,398.0 1361.50,397.0 1361.49,396.5 1361.48,395.0 1361.46,393.5 1361.44,392.0 1361.41,390.5 1361.39,389.0 1361.36,387.5 1361.34,386.0 1361.31,384.5 1361.29,383.0 1361.26,381.5 1361.23,380.0 1361.21,378.5 1361.20,378.0 1361.18,377.0 1361.16,375.5 1361.14,374.0 1361.11,372.5 1361.09,371.0 1361.06,369.5 1361.04,368.0 1361.02,366.5 1360.99,365.0 1360.96,363.5 1360.94,362.0 1360.91,360.5 1360.90,360.0 1360.88,359.0 1360.85,357.5 1360.82,356.0 1360.79,354.5 1360.76,353.0 1360.72,351.5 1360.69,350.0 1360.66,348.5 1360.62,347.0 1360.59,345.5 1360.55,344.0 1360.51,342.5 1360.50,342.0 1360.48,341.0 1360.44,339.5 1360.40,338.0 1360.36,336.5 1360.32,335.0 1360.28,333.5 1360.23,332.0 1360.19,330.5 1360.15,329.0 1360.10,327.5 1360.06,326.0 1360.02,324.5 1360.00,324.0 1359.97,323.0 1359.92,321.5 1359.88,320.0 1359.83,318.5 1359.79,317.0 1359.74,315.5 1359.69,314.0 1359.64,312.5 1359.59,311.0 1359.53,309.5 1359.48,308.0 1359.42,306.5 1359.40,306.0 1359.36,305.0 1359.30,303.5 1359.23,302.0 1359.17,300.5 1359.10,299.0 1359.03,297.5 1358.95,296.0 1358.88,294.5 1358.80,293.0 1358.71,291.5 1358.62,290.0 1358.53,288.5 1358.50,288.0 1358.43,287.0 1358.33,285.5 1358.22,284.0 1358.10,282.5 1357.98,281.0 1357.84,279.5 1357.71,278.0 1357.56,276.5 1357.41,275.0 1357.24,273.5 1357.20,273.1 1357.07,272.0 1356.88,270.5 1356.68,269.0 1356.46,267.5 1356.23,266.0 1355.98,264.5 1355.72,263.0 1355.70,262.9 1355.44,261.5 1355.15,260.0 1354.84,258.5 1354.50,257.0 1354.14,255.5 1353.75,254.0 1353.40,252.7 1353.34,252.5 1352.89,251.0 1352.38,249.5 1351.84,248.0 1351.26,246.5 1350.65,245.0 1350.03,243.5 1349.60,242.5 1349.38,242.0 1348.70,240.5 1347.98,239.0 1347.23,237.5 1346.44,236.0 1345.64,234.5 1344.83,233.0 1344.50,232.4 1344.00,231.5 1343.15,230.0 1342.27,228.5 1341.37,227.0 1340.45,225.5 1339.52,224.0 1338.59,222.5 1338.40,222.2 1337.64,221.0 1336.66,219.5 1335.65,218.0 1334.65,216.5 1333.64,215.0 1332.66,213.5 1331.70,212.0 1330.76,210.5 1329.81,209.0 1328.87,207.5 1327.95,206.0 1327.07,204.5 1326.23,203.0 1325.60,201.8 1325.45,201.5 1324.66,200.0 1323.87,198.5 1323.10,197.0 1322.40,195.5 1321.79,194.0 1321.31,192.5 1321.10,191.6 1320.98,191.0 1320.70,189.5 1320.43,188.0 1320.20,186.5 1320.01,185.0 1319.87,183.5 1319.81,182.0 1319.80,181.4 1319.86,180.5 1320.17,179.0 1320.71,177.5 1321.43,176.0 1322.25,174.5 1323.12,173.0 1323.99,171.5 1324.10,171.3 1324.89,170.0 1325.96,168.5 1327.16,167.0 1328.44,165.5 1329.76,164.0 1331.09,162.5 1332.30,161.1 1332.38,161.0 1333.67,159.5 1334.99,158.0 1336.33,156.5 1337.69,155.0 1339.05,153.5 1340.41,152.0 1341.40,150.9 1341.76,150.5 1343.12,149.0 1344.50,147.5 1345.88,146.0 1347.25,144.5 1348.60,143.0 1349.92,141.5 1350.60,140.7 1351.19,140.0 1352.45,138.5 1353.69,137.0 1354.91,135.5 1356.10,134.0 1357.24,132.5 1358.34,131.0 1358.70,130.5 1359.48,129.5 1360.64,128.0 1361.30,126.5 1361.50,125.0 1361.69,123.5 1361.86,122.0 1362.01,120.5 1362.15,119.0 1362.18,117.5 1362.18,116.0 1362.18,114.5 1362.18,113.0 1362.18,111.5 1362.18,110.0 1362.18,108.5 1362.18,107.0 1362.18,105.5 1362.18,104.0 1362.18,102.5 Z" fill="#659465" stroke="#1a1a1a" stroke-width="1.1" stroke-linejoin="round"/>
<rect x="1302.3" y="197.8" width="120" height="4" fill="#2e302c" clip-path="url(#vc5)"/>
<circle cx="1362.3" cy="223.7" r="10.8" fill="#fff"/><circle cx="1362.3" cy="223.7" r="6.5" fill="#000"/>
<g stroke="#000" stroke-width="1.8" fill="none">
<path d="M860.6,614.8 V598.6 H956.9 V614.8"/>
<path d="M1053.2,614.8 V598.6 H1149.9 V614.8"/>
<path d="M1266.5,614.8 V598.6 H1362.8 V614.8"/>
</g>
<text x="909.9" y="673.1" font-size="43.5" letter-spacing="1.0999999999999999" text-anchor="middle" fill="#000" stroke="#000" stroke-width="1.1">River</text>
<text x="1102.7" y="673.1" font-size="43.5" letter-spacing="1.7" text-anchor="middle" fill="#000" stroke="#000" stroke-width="1.1">Littoral</text>
<text x="1315.8" y="673.1" font-size="43.5" letter-spacing="1.7" text-anchor="middle" fill="#000" stroke="#000" stroke-width="1.1">Benthic</text>
<text transform="translate(874,813) rotate(-90)" font-size="36" fill="#000">cgR_1</text>
<text transform="translate(970,813) rotate(-90)" font-size="36" fill="#000">cgR_2</text>
<text transform="translate(1066.7,813) rotate(-90)" font-size="36" fill="#000">cgS_1</text>
<text transform="translate(1162.5,813) rotate(-90)" font-size="36" fill="#000">cgS_2</text>
<text transform="translate(1279.4,813) rotate(-90)" font-size="36" fill="#000">cgB_1</text>
<text transform="translate(1375.5,813) rotate(-90)" font-size="36" fill="#000">cgB_2</text>
<text transform="translate(78.3,864.2) scale(1.1,1)" font-size="42" class="b" fill="#000">c</text>
<clipPath id="pc"><rect x="229" y="906" width="776.5" height="753"/></clipPath>
<g fill="#f0ede9">
<path d="M581.7,912.2 C573.2,919.3 564.5,939.4 558.7,952.5 C552.9,965.6 548.9,979.6 546.8,990.8 C544.7,1002.0 545.0,1011.5 546.0,1019.5 C547.0,1027.5 549.3,1033.8 553.0,1038.6 C556.7,1043.4 561.6,1045.6 568.3,1048.2 C575.0,1050.8 585.2,1051.8 593.2,1054.0 C601.2,1056.2 607.6,1057.8 616.2,1061.6 C624.8,1065.4 635.3,1070.9 644.9,1077.0 C654.5,1083.1 665.1,1090.0 673.7,1098.0 C682.3,1106.0 689.3,1117.1 696.6,1124.8 C703.9,1132.5 710.4,1138.6 717.7,1144.0 C725.1,1149.4 733.7,1154.9 740.7,1157.4 C747.7,1160.0 752.8,1160.2 759.8,1159.3 C766.8,1158.3 776.7,1155.8 782.8,1151.7 C788.9,1147.6 793.5,1141.4 796.2,1134.4 C798.9,1127.4 799.4,1116.8 799.1,1109.5 C798.8,1102.2 797.6,1096.8 794.3,1090.4 C790.9,1084.0 786.3,1077.6 779.0,1071.2 C771.7,1064.8 758.0,1058.4 750.3,1052.0 C742.6,1045.6 737.1,1039.9 733.0,1032.9 C728.9,1025.9 727.3,1020.2 725.4,1010.0 C723.5,999.8 722.6,982.8 721.5,971.6 C720.4,960.4 720.0,951.5 718.7,942.9 C717.4,934.3 716.6,926.0 713.9,919.9 C711.2,913.8 708.7,909.3 702.4,906.5 C696.1,903.7 685.6,902.6 676.0,903.0 C666.4,903.4 655.9,907.8 644.9,909.0 C633.9,910.2 620.5,909.5 610.0,910.0 C599.5,910.5 590.2,905.1 581.7,912.2 Z"/>
<path d="M433.7,1156.0 C449.0,1156.8 476.0,1158.8 488.7,1163.6 C501.4,1168.4 505.4,1176.3 510.0,1185.0 C514.6,1193.7 516.2,1205.3 516.2,1215.5 C516.2,1225.7 513.0,1236.8 510.0,1246.0 C506.9,1255.2 501.4,1259.3 497.9,1270.5 C494.3,1281.7 491.8,1298.5 488.7,1313.2 C485.6,1328.0 482.3,1344.8 479.5,1359.0 C476.7,1373.2 472.9,1387.0 471.9,1398.7 C470.9,1410.4 471.1,1419.0 473.4,1429.2 C475.7,1439.4 479.5,1451.2 485.6,1459.8 C491.7,1468.4 501.3,1475.0 510.0,1481.1 C518.7,1487.2 530.5,1489.8 537.6,1496.4 C544.7,1503.0 549.8,1512.7 552.8,1520.8 C555.8,1528.9 557.4,1537.7 555.9,1545.3 C554.4,1552.9 549.8,1560.0 543.7,1566.6 C537.6,1573.2 528.4,1577.4 519.2,1585.0 C510.0,1592.6 497.9,1603.8 488.7,1612.4 C479.5,1621.1 472.4,1630.3 464.3,1636.9 C456.2,1643.5 448.0,1648.8 439.8,1652.1 C431.6,1655.4 424.5,1657.2 415.4,1656.7 C406.2,1656.2 395.1,1654.4 384.9,1649.1 C374.7,1643.8 362.5,1634.9 354.4,1624.7 C346.2,1614.5 340.6,1604.3 336.0,1588.0 C331.4,1571.7 329.9,1544.8 326.9,1527.0 C323.8,1509.2 322.8,1497.4 317.7,1481.1 C312.6,1464.8 303.9,1447.0 296.3,1429.2 C288.7,1411.4 279.5,1390.6 271.9,1374.3 C264.3,1358.0 256.1,1341.7 250.5,1331.5 C244.9,1321.3 241.2,1321.0 238.3,1313.2 C235.4,1305.5 233.0,1295.2 233.0,1285.0 C233.0,1274.8 233.9,1260.1 238.3,1252.1 C242.8,1244.1 250.0,1242.5 259.7,1236.9 C269.4,1231.3 283.6,1225.6 296.3,1218.5 C309.0,1211.4 324.3,1202.2 336.0,1194.1 C347.7,1186.0 356.4,1175.5 366.6,1169.7 C376.8,1163.9 385.9,1161.3 397.1,1159.0 C408.3,1156.7 418.4,1155.2 433.7,1156.0 Z"/>
<path d="M846.7,1127.7 C855.3,1128.1 866.2,1130.3 873.4,1134.9 C880.6,1139.5 886.0,1145.8 889.8,1155.4 C893.6,1165.0 894.6,1181.0 896.0,1192.3 C897.4,1203.6 898.2,1211.0 898.0,1223.0 C897.8,1235.0 896.7,1250.3 895.0,1264.0 C893.3,1277.7 887.6,1291.5 887.8,1305.2 C888.0,1318.9 892.2,1334.3 896.0,1346.3 C899.8,1358.3 905.0,1360.4 910.3,1377.0 C915.6,1393.6 919.5,1425.1 927.9,1445.7 C936.3,1466.3 950.1,1483.6 960.7,1500.4 C971.3,1517.2 984.4,1533.0 991.4,1546.3 C998.4,1559.6 1003.4,1567.2 1003.0,1580.0 C1002.6,1592.8 995.2,1614.4 989.2,1623.0 C983.2,1631.6 973.9,1631.4 967.3,1631.7 C960.7,1632.0 957.4,1631.3 949.8,1625.1 C942.1,1618.9 930.5,1606.2 921.4,1594.5 C912.3,1582.8 903.9,1568.9 895.1,1555.0 C886.3,1541.1 877.2,1525.9 868.8,1511.3 C860.4,1496.7 851.4,1482.1 844.8,1467.5 C838.2,1452.9 834.9,1438.4 829.4,1423.8 C823.9,1409.2 815.8,1389.5 811.8,1380.0 C807.8,1370.5 808.4,1375.8 805.7,1366.8 C803.0,1357.8 798.5,1339.4 795.4,1325.7 C792.3,1312.0 789.6,1298.4 787.2,1284.7 C784.8,1271.0 782.0,1257.3 781.0,1243.6 C780.0,1229.9 777.6,1218.0 781.0,1202.6 C784.4,1187.2 794.8,1162.9 801.6,1151.3 C808.4,1139.7 814.5,1136.7 822.0,1132.8 C829.5,1128.9 838.1,1127.3 846.7,1127.7 Z"/>
</g>
<rect x="231.3" y="908.5" width="772" height="748.4" fill="none" stroke="#000" stroke-width="4"/>
<g stroke="#333" stroke-width="4">
<path d="M222,1077.1 H231"/>
<path d="M222,1254.6 H231"/>
<path d="M222,1432.1 H231"/>
<path d="M222,1609.6 H231"/>
<path d="M414.2,1658 V1664.5"/>
<path d="M633.5,1658 V1664.5"/>
<path d="M852.8,1658 V1664.5"/>
</g>
<text x="212.6" y="1087.7" font-size="32" text-anchor="end" fill="#000">300</text>
<text x="212.6" y="1265.2" font-size="32" text-anchor="end" fill="#000">0</text>
<text x="214.2" y="1442.7" font-size="32" text-anchor="end" fill="#000">-300</text>
<text x="214.2" y="1620.2" font-size="32" text-anchor="end" fill="#000">-600</text>
<text x="419.2" y="1700.2" font-size="32" text-anchor="middle" fill="#000">-400</text>
<text x="636.5" y="1700.2" font-size="32" text-anchor="middle" fill="#000">0</text>
<text x="855.8" y="1700.2" font-size="32" text-anchor="middle" fill="#000">400</text>
<text x="523" y="1754.9" font-size="37.5" fill="#000"><tspan class="b">PC1,</tspan> 19.17%</text>
<text transform="translate(154.2,1395.5) rotate(-90)" font-size="38" fill="#000"><tspan class="b">PC2,</tspan> 18.88%</text>
<circle cx="610.4" cy="948.6" r="29.9" fill="none" stroke="#568652" stroke-width="16.8" opacity="0.88"/>
<text x="610.4" y="960.8000000000001" font-size="36" class="b" text-anchor="middle" fill="#000">b</text>
<circle cx="592.5" cy="1008.5" r="29.9" fill="none" stroke="#568652" stroke-width="16.8" opacity="0.88"/>
<text x="592.5" y="1020.7" font-size="36" class="b" text-anchor="middle" fill="#000">b</text>
<circle cx="676.5" cy="942" r="29.9" fill="none" stroke="#a9c1a8" stroke-width="16.8" opacity="0.88"/>
<text x="676.5" y="954.2" font-size="36" class="b" text-anchor="middle" fill="#000">l</text>
<circle cx="753.3" cy="1116" r="29.9" fill="none" stroke="#a9c1a8" stroke-width="16.8" opacity="0.88"/>
<text x="753.3" y="1128.2" font-size="36" class="b" text-anchor="middle" fill="#000">l</text>
<circle cx="844.5" cy="1173.9" r="29.9" fill="none" stroke="#973d7f" stroke-width="16.8" opacity="0.88"/>
<text x="844.5" y="1186.1000000000001" font-size="36" class="b" text-anchor="middle" fill="#000">R</text>
<circle cx="848.8" cy="1307.3" r="29.9" fill="none" stroke="#26681f" stroke-width="16.8" opacity="0.88"/>
<text x="848.8" y="1319.5" font-size="36" class="b" text-anchor="middle" fill="#000">r</text>
<circle cx="856.4" cy="1344.2" r="29.9" fill="none" stroke="#26681f" stroke-width="16.8" opacity="0.88"/>
<text x="856.4" y="1356.4" font-size="36" class="b" text-anchor="middle" fill="#000">r</text>
<circle cx="968" cy="1581.4" r="29.9" fill="none" stroke="#973d7f" stroke-width="16.8" opacity="0.88"/>
<text x="968" y="1593.6000000000001" font-size="36" class="b" text-anchor="middle" fill="#000">R</text>
<circle cx="266.5" cy="1285.5" r="29.9" fill="none" stroke="#a8629a" stroke-width="16.8" opacity="0.88"/>
<text x="266.5" y="1297.7" font-size="36" class="b" text-anchor="middle" fill="#000">B</text>
<circle cx="423.3" cy="1201.3" r="29.9" fill="none" stroke="#a8629a" stroke-width="16.8" opacity="0.88"/>
<text x="423.3" y="1213.5" font-size="36" class="b" text-anchor="middle" fill="#000">B</text>
<circle cx="475.3" cy="1215.8" r="29.9" fill="none" stroke="#a8629a" stroke-width="16.8" opacity="0.88"/>
<text x="475.3" y="1228.0" font-size="36" class="b" text-anchor="middle" fill="#000">B</text>
<circle cx="415.6" cy="1617.5" r="29.9" fill="none" stroke="#d5b0cd" stroke-width="16.8" opacity="0.88"/>
<text x="415.6" y="1629.7" font-size="36" class="b" text-anchor="middle" fill="#000">L</text>
<circle cx="508.6" cy="1531.8" r="29.9" fill="none" stroke="#d5b0cd" stroke-width="16.8" opacity="0.88"/>
<text x="508.6" y="1544.0" font-size="36" class="b" text-anchor="middle" fill="#000">L</text>
<text transform="translate(334.3,962.0) scale(0.795,1)" font-size="53" class="b" fill="#000" stroke="#000" stroke-width="1.4" stroke-linejoin="round">Common</text>
<text transform="translate(334.8,1024.0) scale(0.826,1)" font-size="52" class="b" fill="#000" stroke="#000" stroke-width="1.4" stroke-linejoin="round">garden</text>
<text transform="translate(512.3,1458.1) scale(0.845,1)" font-size="50.5" class="b" fill="#000" stroke="#000" stroke-width="1.4" stroke-linejoin="round">Wild Masoko</text>
<text transform="translate(746.5,1562.3) scale(0.825,1)" font-size="51" class="b" fill="#000" stroke="#000" stroke-width="1.4" stroke-linejoin="round">River</text>
<g stroke="#000" stroke-width="3.6" fill="none" stroke-linecap="round" stroke-linejoin="round">
<path d="M507.2,996.8 L519.5,1019.3 H540"/>
<path d="M477.3,1393.5 H493.7 L504,1411.8"/>
<path d="M825.8,1526.7 L836.9,1510.1 H850.8"/>
</g>
<text x="1088.5" y="1014.9" font-size="38.5" letter-spacing="0.8" class="b" fill="#000">WILD</text>
<text x="1089" y="1353.6" font-size="40" letter-spacing="0.3" class="b" fill="#000">COMMON GARDEN</text>
<circle cx="1158.2" cy="1075.9" r="30.7" fill="none" stroke="#973d7f" stroke-width="16.4" opacity="0.88"/>
<text x="1158.4" y="1088.3000000000002" font-size="36" class="b" text-anchor="middle" fill="#000">R</text>
<text x="1205.8" y="1082.7" font-size="29.5" letter-spacing="1.0" fill="#000" stroke="#000" stroke-width="0.7">Riverine</text>
<circle cx="1158.2" cy="1155.6" r="30.7" fill="none" stroke="#a8629a" stroke-width="16.4" opacity="0.88"/>
<text x="1158.4" y="1168.0" font-size="36" class="b" text-anchor="middle" fill="#000">B</text>
<text x="1205.8" y="1164.6" font-size="29.5" letter-spacing="1.5" fill="#000" stroke="#000" stroke-width="0.7">Benthic</text>
<circle cx="1158.2" cy="1234.8" r="30.7" fill="none" stroke="#d5b0cd" stroke-width="16.4" opacity="0.88"/>
<text x="1158.4" y="1247.2" font-size="36" class="b" text-anchor="middle" fill="#000">L</text>
<text x="1205.8" y="1246.5" font-size="29.5" letter-spacing="1.4" fill="#000" stroke="#000" stroke-width="0.7">Littoral</text>
<circle cx="1158.2" cy="1405.8" r="30.7" fill="none" stroke="#26681f" stroke-width="16.4" opacity="0.88"/>
<text x="1158.4" y="1418.2" font-size="36" class="b" text-anchor="middle" fill="#000">r</text>
<text x="1205.8" y="1417.9" font-size="29.5" letter-spacing="1.0" fill="#000" stroke="#000" stroke-width="0.7">Riverine</text>
<circle cx="1158.2" cy="1487.3" r="30.7" fill="none" stroke="#568652" stroke-width="16.4" opacity="0.88"/>
<text x="1158.4" y="1499.7" font-size="36" class="b" text-anchor="middle" fill="#000">b</text>
<text x="1205.8" y="1498.4" font-size="29.5" letter-spacing="1.5" fill="#000" stroke="#000" stroke-width="0.7">Benthic</text>
<circle cx="1158.2" cy="1568" r="30.7" fill="none" stroke="#a9c1a8" stroke-width="16.4" opacity="0.88"/>
<text x="1158.4" y="1580.4" font-size="36" class="b" text-anchor="middle" fill="#000">l</text>
<text x="1205.8" y="1580.5" font-size="29.5" letter-spacing="1.4" fill="#000" stroke="#000" stroke-width="0.7">Littoral</text>
</svg></body></html>
